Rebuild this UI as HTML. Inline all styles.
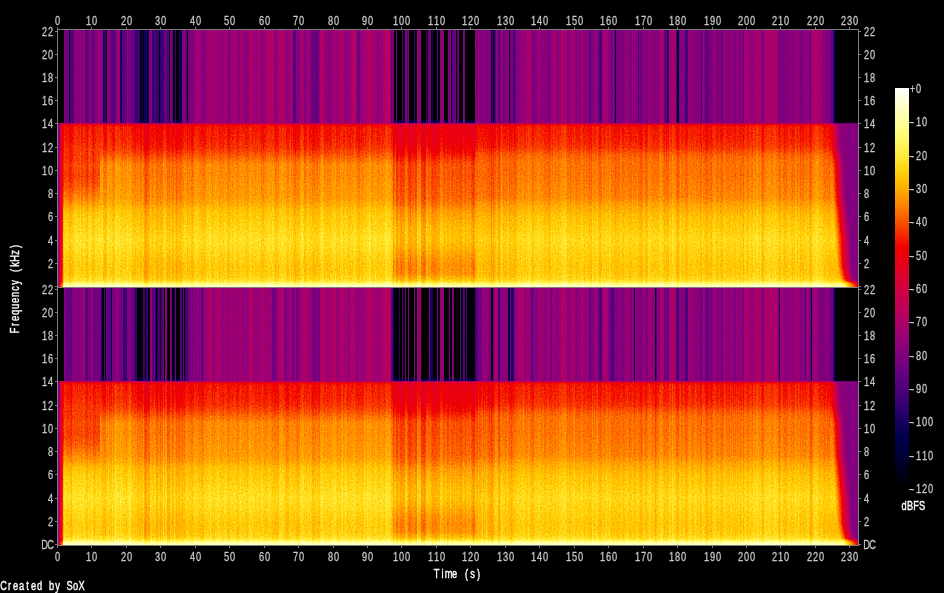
<!DOCTYPE html><html><head><meta charset="utf-8"><title>Spectrogram</title>
<style>html,body{margin:0;padding:0;background:#000;overflow:hidden}svg{display:block}text{font-family:"Liberation Sans","DejaVu Sans",sans-serif;font-size:12.5px}.l{fill:#c8c8c8;stroke:#c8c8c8;stroke-width:.3px}.w{fill:#fff;stroke:#fff;stroke-width:.4px}</style></head><body>
<svg width="944" height="593" viewBox="0 0 944 593" shape-rendering="crispEdges">
<rect width="944" height="593" fill="#000"/>
<defs>
<linearGradient id="cb" x1="0" y1="0" x2="0" y2="1"><stop offset="0.0000" stop-color="#ffffff"/><stop offset="0.0250" stop-color="#ffffe2"/><stop offset="0.0500" stop-color="#ffffc5"/><stop offset="0.0750" stop-color="#ffffa8"/><stop offset="0.1000" stop-color="#ffff8b"/><stop offset="0.1250" stop-color="#fffb6e"/><stop offset="0.1500" stop-color="#fff351"/><stop offset="0.1750" stop-color="#ffe834"/><stop offset="0.2000" stop-color="#ffd817"/><stop offset="0.2250" stop-color="#ffc600"/><stop offset="0.2500" stop-color="#ffb000"/><stop offset="0.2750" stop-color="#ff9700"/><stop offset="0.3000" stop-color="#fe7c00"/><stop offset="0.3250" stop-color="#fc5f00"/><stop offset="0.3500" stop-color="#f94000"/><stop offset="0.3750" stop-color="#f52000"/><stop offset="0.4000" stop-color="#f00000"/><stop offset="0.4250" stop-color="#ea0011"/><stop offset="0.4500" stop-color="#e30021"/><stop offset="0.4750" stop-color="#db0031"/><stop offset="0.5000" stop-color="#d20040"/><stop offset="0.5250" stop-color="#c8004e"/><stop offset="0.5500" stop-color="#be005a"/><stop offset="0.5750" stop-color="#b20065"/><stop offset="0.6000" stop-color="#a6006e"/><stop offset="0.6250" stop-color="#990076"/><stop offset="0.6500" stop-color="#8b007b"/><stop offset="0.6750" stop-color="#7d007e"/><stop offset="0.7000" stop-color="#6e0080"/><stop offset="0.7250" stop-color="#5e007e"/><stop offset="0.7500" stop-color="#4f007b"/><stop offset="0.7750" stop-color="#3f0076"/><stop offset="0.8000" stop-color="#2e006e"/><stop offset="0.8250" stop-color="#1e0065"/><stop offset="0.8500" stop-color="#0d005a"/><stop offset="0.8750" stop-color="#00004e"/><stop offset="0.9000" stop-color="#000040"/><stop offset="0.9250" stop-color="#000031"/><stop offset="0.9500" stop-color="#000021"/><stop offset="0.9750" stop-color="#000011"/><stop offset="1.0000" stop-color="#000000"/></linearGradient>
</defs>
<defs>
<linearGradient id="g0" x1="0" y1="0" x2="0" y2="1"><stop offset="0.000" stop-color="#4d4d4d"/><stop offset="0.006" stop-color="#555555"/><stop offset="0.012" stop-color="#555555"/><stop offset="0.018" stop-color="#555555"/><stop offset="0.030" stop-color="#555555"/><stop offset="0.104" stop-color="#575757"/><stop offset="0.152" stop-color="#575757"/><stop offset="0.189" stop-color="#575757"/><stop offset="0.226" stop-color="#595959"/><stop offset="0.256" stop-color="#595959"/><stop offset="0.317" stop-color="#595959"/><stop offset="0.378" stop-color="#5b5b5b"/><stop offset="0.457" stop-color="#5b5b5b"/><stop offset="0.494" stop-color="#5b5b5b"/><stop offset="0.530" stop-color="#5e5e5e"/><stop offset="0.567" stop-color="#5e5e5e"/><stop offset="0.646" stop-color="#606060"/><stop offset="0.713" stop-color="#606060"/><stop offset="0.762" stop-color="#606060"/><stop offset="0.817" stop-color="#626262"/><stop offset="0.872" stop-color="#626262"/><stop offset="0.921" stop-color="#626262"/><stop offset="0.951" stop-color="#646464"/><stop offset="0.963" stop-color="#646464"/><stop offset="0.970" stop-color="#646464"/><stop offset="0.976" stop-color="#666666"/><stop offset="0.982" stop-color="#6c6c6c"/><stop offset="0.988" stop-color="#777777"/><stop offset="1.000" stop-color="#777777"/></linearGradient>
<linearGradient id="g1" x1="0" y1="0" x2="0" y2="1"><stop offset="0.000" stop-color="#4d4d4d"/><stop offset="0.006" stop-color="#5b5b5b"/><stop offset="0.012" stop-color="#5b5b5b"/><stop offset="0.018" stop-color="#5b5b5b"/><stop offset="0.030" stop-color="#5b5b5b"/><stop offset="0.104" stop-color="#5e5e5e"/><stop offset="0.152" stop-color="#5e5e5e"/><stop offset="0.189" stop-color="#606060"/><stop offset="0.226" stop-color="#606060"/><stop offset="0.256" stop-color="#626262"/><stop offset="0.317" stop-color="#626262"/><stop offset="0.378" stop-color="#646464"/><stop offset="0.457" stop-color="#666666"/><stop offset="0.494" stop-color="#666666"/><stop offset="0.530" stop-color="#666666"/><stop offset="0.567" stop-color="#686868"/><stop offset="0.646" stop-color="#686868"/><stop offset="0.713" stop-color="#6a6a6a"/><stop offset="0.762" stop-color="#6c6c6c"/><stop offset="0.817" stop-color="#6c6c6c"/><stop offset="0.872" stop-color="#6e6e6e"/><stop offset="0.921" stop-color="#6e6e6e"/><stop offset="0.951" stop-color="#717171"/><stop offset="0.963" stop-color="#717171"/><stop offset="0.970" stop-color="#717171"/><stop offset="0.976" stop-color="#737373"/><stop offset="0.982" stop-color="#797979"/><stop offset="0.988" stop-color="#848484"/><stop offset="1.000" stop-color="#848484"/></linearGradient>
<linearGradient id="g2" x1="0" y1="0" x2="0" y2="1"><stop offset="0.000" stop-color="#4d4d4d"/><stop offset="0.006" stop-color="#848484"/><stop offset="0.012" stop-color="#848484"/><stop offset="0.018" stop-color="#848484"/><stop offset="0.030" stop-color="#848484"/><stop offset="0.104" stop-color="#868686"/><stop offset="0.152" stop-color="#868686"/><stop offset="0.189" stop-color="#868686"/><stop offset="0.226" stop-color="#868686"/><stop offset="0.256" stop-color="#888888"/><stop offset="0.317" stop-color="#888888"/><stop offset="0.378" stop-color="#888888"/><stop offset="0.457" stop-color="#8a8a8a"/><stop offset="0.494" stop-color="#8a8a8a"/><stop offset="0.530" stop-color="#8a8a8a"/><stop offset="0.567" stop-color="#8a8a8a"/><stop offset="0.646" stop-color="#8c8c8c"/><stop offset="0.713" stop-color="#8c8c8c"/><stop offset="0.762" stop-color="#8e8e8e"/><stop offset="0.817" stop-color="#8e8e8e"/><stop offset="0.872" stop-color="#8e8e8e"/><stop offset="0.921" stop-color="#909090"/><stop offset="0.951" stop-color="#909090"/><stop offset="0.963" stop-color="#909090"/><stop offset="0.970" stop-color="#909090"/><stop offset="0.976" stop-color="#939393"/><stop offset="0.982" stop-color="#999999"/><stop offset="0.988" stop-color="#a4a4a4"/><stop offset="1.000" stop-color="#a4a4a4"/></linearGradient>
<linearGradient id="g3" x1="0" y1="0" x2="0" y2="1"><stop offset="0.000" stop-color="#4d4d4d"/><stop offset="0.006" stop-color="#909090"/><stop offset="0.012" stop-color="#909090"/><stop offset="0.018" stop-color="#909090"/><stop offset="0.030" stop-color="#909090"/><stop offset="0.104" stop-color="#909090"/><stop offset="0.152" stop-color="#939393"/><stop offset="0.189" stop-color="#939393"/><stop offset="0.226" stop-color="#939393"/><stop offset="0.256" stop-color="#939393"/><stop offset="0.317" stop-color="#959595"/><stop offset="0.378" stop-color="#959595"/><stop offset="0.457" stop-color="#959595"/><stop offset="0.494" stop-color="#959595"/><stop offset="0.530" stop-color="#979797"/><stop offset="0.567" stop-color="#979797"/><stop offset="0.646" stop-color="#979797"/><stop offset="0.713" stop-color="#999999"/><stop offset="0.762" stop-color="#999999"/><stop offset="0.817" stop-color="#999999"/><stop offset="0.872" stop-color="#999999"/><stop offset="0.921" stop-color="#9b9b9b"/><stop offset="0.951" stop-color="#9b9b9b"/><stop offset="0.963" stop-color="#9b9b9b"/><stop offset="0.970" stop-color="#9b9b9b"/><stop offset="0.976" stop-color="#9d9d9d"/><stop offset="0.982" stop-color="#a4a4a4"/><stop offset="0.988" stop-color="#aeaeae"/><stop offset="1.000" stop-color="#aeaeae"/></linearGradient>
<linearGradient id="g4" x1="0" y1="0" x2="0" y2="1"><stop offset="0.000" stop-color="#4d4d4d"/><stop offset="0.006" stop-color="#979797"/><stop offset="0.012" stop-color="#979797"/><stop offset="0.018" stop-color="#979797"/><stop offset="0.030" stop-color="#979797"/><stop offset="0.104" stop-color="#979797"/><stop offset="0.152" stop-color="#999999"/><stop offset="0.189" stop-color="#999999"/><stop offset="0.226" stop-color="#999999"/><stop offset="0.256" stop-color="#999999"/><stop offset="0.317" stop-color="#9b9b9b"/><stop offset="0.378" stop-color="#9b9b9b"/><stop offset="0.457" stop-color="#9b9b9b"/><stop offset="0.494" stop-color="#9b9b9b"/><stop offset="0.530" stop-color="#9d9d9d"/><stop offset="0.567" stop-color="#9d9d9d"/><stop offset="0.646" stop-color="#9d9d9d"/><stop offset="0.713" stop-color="#9f9f9f"/><stop offset="0.762" stop-color="#9f9f9f"/><stop offset="0.817" stop-color="#9f9f9f"/><stop offset="0.872" stop-color="#9f9f9f"/><stop offset="0.921" stop-color="#a2a2a2"/><stop offset="0.951" stop-color="#a2a2a2"/><stop offset="0.963" stop-color="#a2a2a2"/><stop offset="0.970" stop-color="#a2a2a2"/><stop offset="0.976" stop-color="#a4a4a4"/><stop offset="0.982" stop-color="#aaaaaa"/><stop offset="0.988" stop-color="#b5b5b5"/><stop offset="1.000" stop-color="#b5b5b5"/></linearGradient>
<linearGradient id="g5" x1="0" y1="0" x2="0" y2="1"><stop offset="0.000" stop-color="#4f4f4f"/><stop offset="0.006" stop-color="#828282"/><stop offset="0.012" stop-color="#909090"/><stop offset="0.018" stop-color="#959595"/><stop offset="0.030" stop-color="#959595"/><stop offset="0.104" stop-color="#999999"/><stop offset="0.152" stop-color="#9b9b9b"/><stop offset="0.189" stop-color="#9d9d9d"/><stop offset="0.226" stop-color="#9d9d9d"/><stop offset="0.256" stop-color="#9f9f9f"/><stop offset="0.317" stop-color="#9d9d9d"/><stop offset="0.378" stop-color="#a2a2a2"/><stop offset="0.457" stop-color="#acacac"/><stop offset="0.494" stop-color="#b2b2b2"/><stop offset="0.530" stop-color="#bbbbbb"/><stop offset="0.567" stop-color="#bfbfbf"/><stop offset="0.646" stop-color="#c3c3c3"/><stop offset="0.713" stop-color="#c8c8c8"/><stop offset="0.762" stop-color="#c6c6c6"/><stop offset="0.817" stop-color="#c3c3c3"/><stop offset="0.872" stop-color="#bfbfbf"/><stop offset="0.921" stop-color="#bfbfbf"/><stop offset="0.951" stop-color="#c3c3c3"/><stop offset="0.963" stop-color="#cacaca"/><stop offset="0.970" stop-color="#d0d0d0"/><stop offset="0.976" stop-color="#d7d7d7"/><stop offset="0.982" stop-color="#dfdfdf"/><stop offset="0.988" stop-color="#e6e6e6"/><stop offset="1.000" stop-color="#eaeaea"/></linearGradient>
<linearGradient id="g6" x1="0" y1="0" x2="0" y2="1"><stop offset="0.000" stop-color="#515151"/><stop offset="0.006" stop-color="#8a8a8a"/><stop offset="0.012" stop-color="#999999"/><stop offset="0.018" stop-color="#9d9d9d"/><stop offset="0.030" stop-color="#9d9d9d"/><stop offset="0.104" stop-color="#a2a2a2"/><stop offset="0.152" stop-color="#a4a4a4"/><stop offset="0.189" stop-color="#a6a6a6"/><stop offset="0.226" stop-color="#a6a6a6"/><stop offset="0.256" stop-color="#a8a8a8"/><stop offset="0.317" stop-color="#a6a6a6"/><stop offset="0.378" stop-color="#aaaaaa"/><stop offset="0.457" stop-color="#b5b5b5"/><stop offset="0.494" stop-color="#bbbbbb"/><stop offset="0.530" stop-color="#c3c3c3"/><stop offset="0.567" stop-color="#c8c8c8"/><stop offset="0.646" stop-color="#cccccc"/><stop offset="0.713" stop-color="#d0d0d0"/><stop offset="0.762" stop-color="#cecece"/><stop offset="0.817" stop-color="#cccccc"/><stop offset="0.872" stop-color="#c8c8c8"/><stop offset="0.921" stop-color="#c8c8c8"/><stop offset="0.951" stop-color="#cccccc"/><stop offset="0.963" stop-color="#d2d2d2"/><stop offset="0.970" stop-color="#d9d9d9"/><stop offset="0.976" stop-color="#dfdfdf"/><stop offset="0.982" stop-color="#e8e8e8"/><stop offset="0.988" stop-color="#eeeeee"/><stop offset="1.000" stop-color="#f2f2f2"/></linearGradient>
<linearGradient id="g7" x1="0" y1="0" x2="0" y2="1"><stop offset="0.000" stop-color="#515151"/><stop offset="0.006" stop-color="#888888"/><stop offset="0.012" stop-color="#959595"/><stop offset="0.018" stop-color="#999999"/><stop offset="0.030" stop-color="#9d9d9d"/><stop offset="0.104" stop-color="#9d9d9d"/><stop offset="0.152" stop-color="#a2a2a2"/><stop offset="0.189" stop-color="#a2a2a2"/><stop offset="0.226" stop-color="#a2a2a2"/><stop offset="0.256" stop-color="#a6a6a6"/><stop offset="0.317" stop-color="#a4a4a4"/><stop offset="0.378" stop-color="#a8a8a8"/><stop offset="0.457" stop-color="#b2b2b2"/><stop offset="0.494" stop-color="#b9b9b9"/><stop offset="0.530" stop-color="#c1c1c1"/><stop offset="0.567" stop-color="#c6c6c6"/><stop offset="0.646" stop-color="#cacaca"/><stop offset="0.713" stop-color="#cecece"/><stop offset="0.762" stop-color="#cccccc"/><stop offset="0.817" stop-color="#c8c8c8"/><stop offset="0.872" stop-color="#c6c6c6"/><stop offset="0.921" stop-color="#c8c8c8"/><stop offset="0.951" stop-color="#cccccc"/><stop offset="0.963" stop-color="#d0d0d0"/><stop offset="0.970" stop-color="#d7d7d7"/><stop offset="0.976" stop-color="#dddddd"/><stop offset="0.982" stop-color="#e6e6e6"/><stop offset="0.988" stop-color="#eeeeee"/><stop offset="1.000" stop-color="#f2f2f2"/></linearGradient>
<linearGradient id="g8" x1="0" y1="0" x2="0" y2="1"><stop offset="0.000" stop-color="#4f4f4f"/><stop offset="0.006" stop-color="#848484"/><stop offset="0.012" stop-color="#909090"/><stop offset="0.018" stop-color="#959595"/><stop offset="0.030" stop-color="#999999"/><stop offset="0.104" stop-color="#999999"/><stop offset="0.152" stop-color="#9d9d9d"/><stop offset="0.189" stop-color="#9d9d9d"/><stop offset="0.226" stop-color="#9d9d9d"/><stop offset="0.256" stop-color="#a2a2a2"/><stop offset="0.317" stop-color="#9f9f9f"/><stop offset="0.378" stop-color="#a4a4a4"/><stop offset="0.457" stop-color="#aeaeae"/><stop offset="0.494" stop-color="#b5b5b5"/><stop offset="0.530" stop-color="#bdbdbd"/><stop offset="0.567" stop-color="#c1c1c1"/><stop offset="0.646" stop-color="#c6c6c6"/><stop offset="0.713" stop-color="#cacaca"/><stop offset="0.762" stop-color="#c8c8c8"/><stop offset="0.817" stop-color="#c3c3c3"/><stop offset="0.872" stop-color="#c1c1c1"/><stop offset="0.921" stop-color="#c3c3c3"/><stop offset="0.951" stop-color="#c8c8c8"/><stop offset="0.963" stop-color="#cccccc"/><stop offset="0.970" stop-color="#d2d2d2"/><stop offset="0.976" stop-color="#d9d9d9"/><stop offset="0.982" stop-color="#e1e1e1"/><stop offset="0.988" stop-color="#eaeaea"/><stop offset="1.000" stop-color="#eeeeee"/></linearGradient>
<linearGradient id="g9" x1="0" y1="0" x2="0" y2="1"><stop offset="0.000" stop-color="#515151"/><stop offset="0.006" stop-color="#868686"/><stop offset="0.012" stop-color="#959595"/><stop offset="0.018" stop-color="#999999"/><stop offset="0.030" stop-color="#999999"/><stop offset="0.104" stop-color="#9d9d9d"/><stop offset="0.152" stop-color="#9f9f9f"/><stop offset="0.189" stop-color="#a2a2a2"/><stop offset="0.226" stop-color="#a2a2a2"/><stop offset="0.256" stop-color="#a4a4a4"/><stop offset="0.317" stop-color="#a2a2a2"/><stop offset="0.378" stop-color="#a6a6a6"/><stop offset="0.457" stop-color="#b0b0b0"/><stop offset="0.494" stop-color="#b7b7b7"/><stop offset="0.530" stop-color="#bfbfbf"/><stop offset="0.567" stop-color="#c3c3c3"/><stop offset="0.646" stop-color="#c8c8c8"/><stop offset="0.713" stop-color="#cccccc"/><stop offset="0.762" stop-color="#cacaca"/><stop offset="0.817" stop-color="#c8c8c8"/><stop offset="0.872" stop-color="#c3c3c3"/><stop offset="0.921" stop-color="#c3c3c3"/><stop offset="0.951" stop-color="#c8c8c8"/><stop offset="0.963" stop-color="#cecece"/><stop offset="0.970" stop-color="#d4d4d4"/><stop offset="0.976" stop-color="#dbdbdb"/><stop offset="0.982" stop-color="#e3e3e3"/><stop offset="0.988" stop-color="#eaeaea"/><stop offset="1.000" stop-color="#eeeeee"/></linearGradient>
<linearGradient id="g10" x1="0" y1="0" x2="0" y2="1"><stop offset="0.000" stop-color="#535353"/><stop offset="0.006" stop-color="#8c8c8c"/><stop offset="0.012" stop-color="#999999"/><stop offset="0.018" stop-color="#9d9d9d"/><stop offset="0.030" stop-color="#a2a2a2"/><stop offset="0.104" stop-color="#a2a2a2"/><stop offset="0.152" stop-color="#a6a6a6"/><stop offset="0.189" stop-color="#a6a6a6"/><stop offset="0.226" stop-color="#a6a6a6"/><stop offset="0.256" stop-color="#aaaaaa"/><stop offset="0.317" stop-color="#a8a8a8"/><stop offset="0.378" stop-color="#acacac"/><stop offset="0.457" stop-color="#b7b7b7"/><stop offset="0.494" stop-color="#bdbdbd"/><stop offset="0.530" stop-color="#c6c6c6"/><stop offset="0.567" stop-color="#cacaca"/><stop offset="0.646" stop-color="#cecece"/><stop offset="0.713" stop-color="#d2d2d2"/><stop offset="0.762" stop-color="#d0d0d0"/><stop offset="0.817" stop-color="#cccccc"/><stop offset="0.872" stop-color="#cacaca"/><stop offset="0.921" stop-color="#cccccc"/><stop offset="0.951" stop-color="#d0d0d0"/><stop offset="0.963" stop-color="#d4d4d4"/><stop offset="0.970" stop-color="#dbdbdb"/><stop offset="0.976" stop-color="#e1e1e1"/><stop offset="0.982" stop-color="#eaeaea"/><stop offset="0.988" stop-color="#f2f2f2"/><stop offset="1.000" stop-color="#f6f6f6"/></linearGradient>
<linearGradient id="g11" x1="0" y1="0" x2="0" y2="1"><stop offset="0.000" stop-color="#535353"/><stop offset="0.006" stop-color="#8e8e8e"/><stop offset="0.012" stop-color="#9d9d9d"/><stop offset="0.018" stop-color="#a2a2a2"/><stop offset="0.030" stop-color="#a2a2a2"/><stop offset="0.104" stop-color="#a6a6a6"/><stop offset="0.152" stop-color="#a8a8a8"/><stop offset="0.189" stop-color="#aaaaaa"/><stop offset="0.226" stop-color="#aaaaaa"/><stop offset="0.256" stop-color="#acacac"/><stop offset="0.317" stop-color="#aaaaaa"/><stop offset="0.378" stop-color="#aeaeae"/><stop offset="0.457" stop-color="#b9b9b9"/><stop offset="0.494" stop-color="#bfbfbf"/><stop offset="0.530" stop-color="#c8c8c8"/><stop offset="0.567" stop-color="#cccccc"/><stop offset="0.646" stop-color="#d0d0d0"/><stop offset="0.713" stop-color="#d4d4d4"/><stop offset="0.762" stop-color="#d2d2d2"/><stop offset="0.817" stop-color="#d0d0d0"/><stop offset="0.872" stop-color="#cccccc"/><stop offset="0.921" stop-color="#cccccc"/><stop offset="0.951" stop-color="#d0d0d0"/><stop offset="0.963" stop-color="#d7d7d7"/><stop offset="0.970" stop-color="#dddddd"/><stop offset="0.976" stop-color="#e3e3e3"/><stop offset="0.982" stop-color="#ececec"/><stop offset="0.988" stop-color="#f2f2f2"/><stop offset="1.000" stop-color="#f6f6f6"/></linearGradient>
<linearGradient id="g12" x1="0" y1="0" x2="0" y2="1"><stop offset="0.000" stop-color="#535353"/><stop offset="0.006" stop-color="#8c8c8c"/><stop offset="0.012" stop-color="#999999"/><stop offset="0.018" stop-color="#9d9d9d"/><stop offset="0.030" stop-color="#a2a2a2"/><stop offset="0.104" stop-color="#a2a2a2"/><stop offset="0.152" stop-color="#a6a6a6"/><stop offset="0.189" stop-color="#acacac"/><stop offset="0.226" stop-color="#b2b2b2"/><stop offset="0.256" stop-color="#b9b9b9"/><stop offset="0.317" stop-color="#b9b9b9"/><stop offset="0.378" stop-color="#bbbbbb"/><stop offset="0.457" stop-color="#bdbdbd"/><stop offset="0.494" stop-color="#c1c1c1"/><stop offset="0.530" stop-color="#c8c8c8"/><stop offset="0.567" stop-color="#cacaca"/><stop offset="0.646" stop-color="#cecece"/><stop offset="0.713" stop-color="#d2d2d2"/><stop offset="0.762" stop-color="#d0d0d0"/><stop offset="0.817" stop-color="#cccccc"/><stop offset="0.872" stop-color="#cacaca"/><stop offset="0.921" stop-color="#cccccc"/><stop offset="0.951" stop-color="#d0d0d0"/><stop offset="0.963" stop-color="#d4d4d4"/><stop offset="0.970" stop-color="#dbdbdb"/><stop offset="0.976" stop-color="#e1e1e1"/><stop offset="0.982" stop-color="#eaeaea"/><stop offset="0.988" stop-color="#f2f2f2"/><stop offset="1.000" stop-color="#f6f6f6"/></linearGradient>
<linearGradient id="g13" x1="0" y1="0" x2="0" y2="1"><stop offset="0.000" stop-color="#535353"/><stop offset="0.006" stop-color="#8e8e8e"/><stop offset="0.012" stop-color="#9d9d9d"/><stop offset="0.018" stop-color="#a2a2a2"/><stop offset="0.030" stop-color="#a2a2a2"/><stop offset="0.104" stop-color="#a6a6a6"/><stop offset="0.152" stop-color="#a8a8a8"/><stop offset="0.189" stop-color="#aeaeae"/><stop offset="0.226" stop-color="#b7b7b7"/><stop offset="0.256" stop-color="#bbbbbb"/><stop offset="0.317" stop-color="#bbbbbb"/><stop offset="0.378" stop-color="#bdbdbd"/><stop offset="0.457" stop-color="#bfbfbf"/><stop offset="0.494" stop-color="#c3c3c3"/><stop offset="0.530" stop-color="#cacaca"/><stop offset="0.567" stop-color="#cccccc"/><stop offset="0.646" stop-color="#d0d0d0"/><stop offset="0.713" stop-color="#d4d4d4"/><stop offset="0.762" stop-color="#d2d2d2"/><stop offset="0.817" stop-color="#d0d0d0"/><stop offset="0.872" stop-color="#cccccc"/><stop offset="0.921" stop-color="#cccccc"/><stop offset="0.951" stop-color="#d0d0d0"/><stop offset="0.963" stop-color="#d7d7d7"/><stop offset="0.970" stop-color="#dddddd"/><stop offset="0.976" stop-color="#e3e3e3"/><stop offset="0.982" stop-color="#ececec"/><stop offset="0.988" stop-color="#f2f2f2"/><stop offset="1.000" stop-color="#f6f6f6"/></linearGradient>
<linearGradient id="g14" x1="0" y1="0" x2="0" y2="1"><stop offset="0.000" stop-color="#515151"/><stop offset="0.006" stop-color="#868686"/><stop offset="0.012" stop-color="#959595"/><stop offset="0.018" stop-color="#999999"/><stop offset="0.030" stop-color="#999999"/><stop offset="0.104" stop-color="#9d9d9d"/><stop offset="0.152" stop-color="#9f9f9f"/><stop offset="0.189" stop-color="#a6a6a6"/><stop offset="0.226" stop-color="#aeaeae"/><stop offset="0.256" stop-color="#b2b2b2"/><stop offset="0.317" stop-color="#b2b2b2"/><stop offset="0.378" stop-color="#b5b5b5"/><stop offset="0.457" stop-color="#b7b7b7"/><stop offset="0.494" stop-color="#bbbbbb"/><stop offset="0.530" stop-color="#c1c1c1"/><stop offset="0.567" stop-color="#c3c3c3"/><stop offset="0.646" stop-color="#c8c8c8"/><stop offset="0.713" stop-color="#cccccc"/><stop offset="0.762" stop-color="#cacaca"/><stop offset="0.817" stop-color="#c8c8c8"/><stop offset="0.872" stop-color="#c3c3c3"/><stop offset="0.921" stop-color="#c3c3c3"/><stop offset="0.951" stop-color="#c8c8c8"/><stop offset="0.963" stop-color="#cecece"/><stop offset="0.970" stop-color="#d4d4d4"/><stop offset="0.976" stop-color="#dbdbdb"/><stop offset="0.982" stop-color="#e3e3e3"/><stop offset="0.988" stop-color="#eaeaea"/><stop offset="1.000" stop-color="#eeeeee"/></linearGradient>
<linearGradient id="g15" x1="0" y1="0" x2="0" y2="1"><stop offset="0.000" stop-color="#4f4f4f"/><stop offset="0.006" stop-color="#848484"/><stop offset="0.012" stop-color="#909090"/><stop offset="0.018" stop-color="#959595"/><stop offset="0.030" stop-color="#999999"/><stop offset="0.104" stop-color="#999999"/><stop offset="0.152" stop-color="#9d9d9d"/><stop offset="0.189" stop-color="#a4a4a4"/><stop offset="0.226" stop-color="#aaaaaa"/><stop offset="0.256" stop-color="#b0b0b0"/><stop offset="0.317" stop-color="#b0b0b0"/><stop offset="0.378" stop-color="#b2b2b2"/><stop offset="0.457" stop-color="#b5b5b5"/><stop offset="0.494" stop-color="#b9b9b9"/><stop offset="0.530" stop-color="#bfbfbf"/><stop offset="0.567" stop-color="#c1c1c1"/><stop offset="0.646" stop-color="#c6c6c6"/><stop offset="0.713" stop-color="#cacaca"/><stop offset="0.762" stop-color="#c8c8c8"/><stop offset="0.817" stop-color="#c3c3c3"/><stop offset="0.872" stop-color="#c1c1c1"/><stop offset="0.921" stop-color="#c3c3c3"/><stop offset="0.951" stop-color="#c8c8c8"/><stop offset="0.963" stop-color="#cccccc"/><stop offset="0.970" stop-color="#d2d2d2"/><stop offset="0.976" stop-color="#d9d9d9"/><stop offset="0.982" stop-color="#e1e1e1"/><stop offset="0.988" stop-color="#eaeaea"/><stop offset="1.000" stop-color="#eeeeee"/></linearGradient>
<linearGradient id="g16" x1="0" y1="0" x2="0" y2="1"><stop offset="0.000" stop-color="#515151"/><stop offset="0.006" stop-color="#8a8a8a"/><stop offset="0.012" stop-color="#999999"/><stop offset="0.018" stop-color="#9d9d9d"/><stop offset="0.030" stop-color="#9d9d9d"/><stop offset="0.104" stop-color="#a2a2a2"/><stop offset="0.152" stop-color="#a4a4a4"/><stop offset="0.189" stop-color="#aaaaaa"/><stop offset="0.226" stop-color="#b2b2b2"/><stop offset="0.256" stop-color="#b7b7b7"/><stop offset="0.317" stop-color="#b7b7b7"/><stop offset="0.378" stop-color="#b9b9b9"/><stop offset="0.457" stop-color="#bbbbbb"/><stop offset="0.494" stop-color="#bfbfbf"/><stop offset="0.530" stop-color="#c6c6c6"/><stop offset="0.567" stop-color="#c8c8c8"/><stop offset="0.646" stop-color="#cccccc"/><stop offset="0.713" stop-color="#d0d0d0"/><stop offset="0.762" stop-color="#cecece"/><stop offset="0.817" stop-color="#cccccc"/><stop offset="0.872" stop-color="#c8c8c8"/><stop offset="0.921" stop-color="#c8c8c8"/><stop offset="0.951" stop-color="#cccccc"/><stop offset="0.963" stop-color="#d2d2d2"/><stop offset="0.970" stop-color="#d9d9d9"/><stop offset="0.976" stop-color="#dfdfdf"/><stop offset="0.982" stop-color="#e8e8e8"/><stop offset="0.988" stop-color="#eeeeee"/><stop offset="1.000" stop-color="#f2f2f2"/></linearGradient>
<linearGradient id="g17" x1="0" y1="0" x2="0" y2="1"><stop offset="0.000" stop-color="#515151"/><stop offset="0.006" stop-color="#888888"/><stop offset="0.012" stop-color="#959595"/><stop offset="0.018" stop-color="#999999"/><stop offset="0.030" stop-color="#9d9d9d"/><stop offset="0.104" stop-color="#9d9d9d"/><stop offset="0.152" stop-color="#a2a2a2"/><stop offset="0.189" stop-color="#a8a8a8"/><stop offset="0.226" stop-color="#aeaeae"/><stop offset="0.256" stop-color="#b5b5b5"/><stop offset="0.317" stop-color="#b5b5b5"/><stop offset="0.378" stop-color="#b7b7b7"/><stop offset="0.457" stop-color="#b9b9b9"/><stop offset="0.494" stop-color="#bdbdbd"/><stop offset="0.530" stop-color="#c3c3c3"/><stop offset="0.567" stop-color="#c6c6c6"/><stop offset="0.646" stop-color="#cacaca"/><stop offset="0.713" stop-color="#cecece"/><stop offset="0.762" stop-color="#cccccc"/><stop offset="0.817" stop-color="#c8c8c8"/><stop offset="0.872" stop-color="#c6c6c6"/><stop offset="0.921" stop-color="#c8c8c8"/><stop offset="0.951" stop-color="#cccccc"/><stop offset="0.963" stop-color="#d0d0d0"/><stop offset="0.970" stop-color="#d7d7d7"/><stop offset="0.976" stop-color="#dddddd"/><stop offset="0.982" stop-color="#e6e6e6"/><stop offset="0.988" stop-color="#eeeeee"/><stop offset="1.000" stop-color="#f2f2f2"/></linearGradient>
<linearGradient id="g18" x1="0" y1="0" x2="0" y2="1"><stop offset="0.000" stop-color="#535353"/><stop offset="0.006" stop-color="#909090"/><stop offset="0.012" stop-color="#9d9d9d"/><stop offset="0.018" stop-color="#a2a2a2"/><stop offset="0.030" stop-color="#a6a6a6"/><stop offset="0.104" stop-color="#a6a6a6"/><stop offset="0.152" stop-color="#aaaaaa"/><stop offset="0.189" stop-color="#b0b0b0"/><stop offset="0.226" stop-color="#b7b7b7"/><stop offset="0.256" stop-color="#bdbdbd"/><stop offset="0.317" stop-color="#bdbdbd"/><stop offset="0.378" stop-color="#bfbfbf"/><stop offset="0.457" stop-color="#c1c1c1"/><stop offset="0.494" stop-color="#c6c6c6"/><stop offset="0.530" stop-color="#cccccc"/><stop offset="0.567" stop-color="#cecece"/><stop offset="0.646" stop-color="#d2d2d2"/><stop offset="0.713" stop-color="#d7d7d7"/><stop offset="0.762" stop-color="#d4d4d4"/><stop offset="0.817" stop-color="#d0d0d0"/><stop offset="0.872" stop-color="#cecece"/><stop offset="0.921" stop-color="#d0d0d0"/><stop offset="0.951" stop-color="#d4d4d4"/><stop offset="0.963" stop-color="#d9d9d9"/><stop offset="0.970" stop-color="#dfdfdf"/><stop offset="0.976" stop-color="#e6e6e6"/><stop offset="0.982" stop-color="#eeeeee"/><stop offset="0.988" stop-color="#f6f6f6"/><stop offset="1.000" stop-color="#fbfbfb"/></linearGradient>
<linearGradient id="g19" x1="0" y1="0" x2="0" y2="1"><stop offset="0.000" stop-color="#4d4d4d"/><stop offset="0.006" stop-color="#7d7d7d"/><stop offset="0.012" stop-color="#8c8c8c"/><stop offset="0.018" stop-color="#909090"/><stop offset="0.030" stop-color="#909090"/><stop offset="0.104" stop-color="#959595"/><stop offset="0.152" stop-color="#979797"/><stop offset="0.189" stop-color="#9d9d9d"/><stop offset="0.226" stop-color="#a6a6a6"/><stop offset="0.256" stop-color="#aaaaaa"/><stop offset="0.317" stop-color="#aaaaaa"/><stop offset="0.378" stop-color="#acacac"/><stop offset="0.457" stop-color="#aeaeae"/><stop offset="0.494" stop-color="#b2b2b2"/><stop offset="0.530" stop-color="#b9b9b9"/><stop offset="0.567" stop-color="#bbbbbb"/><stop offset="0.646" stop-color="#bfbfbf"/><stop offset="0.713" stop-color="#c3c3c3"/><stop offset="0.762" stop-color="#c1c1c1"/><stop offset="0.817" stop-color="#bfbfbf"/><stop offset="0.872" stop-color="#bbbbbb"/><stop offset="0.921" stop-color="#bbbbbb"/><stop offset="0.951" stop-color="#bfbfbf"/><stop offset="0.963" stop-color="#c6c6c6"/><stop offset="0.970" stop-color="#cccccc"/><stop offset="0.976" stop-color="#d2d2d2"/><stop offset="0.982" stop-color="#dbdbdb"/><stop offset="0.988" stop-color="#e1e1e1"/><stop offset="1.000" stop-color="#e6e6e6"/></linearGradient>
<linearGradient id="g20" x1="0" y1="0" x2="0" y2="1"><stop offset="0.000" stop-color="#4d4d4d"/><stop offset="0.006" stop-color="#7b7b7b"/><stop offset="0.012" stop-color="#888888"/><stop offset="0.018" stop-color="#8c8c8c"/><stop offset="0.030" stop-color="#909090"/><stop offset="0.104" stop-color="#909090"/><stop offset="0.152" stop-color="#959595"/><stop offset="0.189" stop-color="#9b9b9b"/><stop offset="0.226" stop-color="#a2a2a2"/><stop offset="0.256" stop-color="#a8a8a8"/><stop offset="0.317" stop-color="#a8a8a8"/><stop offset="0.378" stop-color="#aaaaaa"/><stop offset="0.457" stop-color="#acacac"/><stop offset="0.494" stop-color="#b0b0b0"/><stop offset="0.530" stop-color="#b7b7b7"/><stop offset="0.567" stop-color="#b9b9b9"/><stop offset="0.646" stop-color="#bdbdbd"/><stop offset="0.713" stop-color="#c1c1c1"/><stop offset="0.762" stop-color="#bfbfbf"/><stop offset="0.817" stop-color="#bbbbbb"/><stop offset="0.872" stop-color="#b9b9b9"/><stop offset="0.921" stop-color="#bbbbbb"/><stop offset="0.951" stop-color="#bfbfbf"/><stop offset="0.963" stop-color="#c3c3c3"/><stop offset="0.970" stop-color="#cacaca"/><stop offset="0.976" stop-color="#d0d0d0"/><stop offset="0.982" stop-color="#d9d9d9"/><stop offset="0.988" stop-color="#e1e1e1"/><stop offset="1.000" stop-color="#e6e6e6"/></linearGradient>
<linearGradient id="g21" x1="0" y1="0" x2="0" y2="1"><stop offset="0.000" stop-color="#4d4d4d"/><stop offset="0.006" stop-color="#797979"/><stop offset="0.012" stop-color="#888888"/><stop offset="0.018" stop-color="#8c8c8c"/><stop offset="0.030" stop-color="#8c8c8c"/><stop offset="0.104" stop-color="#909090"/><stop offset="0.152" stop-color="#939393"/><stop offset="0.189" stop-color="#999999"/><stop offset="0.226" stop-color="#a2a2a2"/><stop offset="0.256" stop-color="#a6a6a6"/><stop offset="0.317" stop-color="#a6a6a6"/><stop offset="0.378" stop-color="#a8a8a8"/><stop offset="0.457" stop-color="#aaaaaa"/><stop offset="0.494" stop-color="#aeaeae"/><stop offset="0.530" stop-color="#b5b5b5"/><stop offset="0.567" stop-color="#b7b7b7"/><stop offset="0.646" stop-color="#bbbbbb"/><stop offset="0.713" stop-color="#bfbfbf"/><stop offset="0.762" stop-color="#bdbdbd"/><stop offset="0.817" stop-color="#bbbbbb"/><stop offset="0.872" stop-color="#b7b7b7"/><stop offset="0.921" stop-color="#b7b7b7"/><stop offset="0.951" stop-color="#bbbbbb"/><stop offset="0.963" stop-color="#c1c1c1"/><stop offset="0.970" stop-color="#c8c8c8"/><stop offset="0.976" stop-color="#cecece"/><stop offset="0.982" stop-color="#d7d7d7"/><stop offset="0.988" stop-color="#dddddd"/><stop offset="1.000" stop-color="#e1e1e1"/></linearGradient>
<linearGradient id="g22" x1="0" y1="0" x2="0" y2="1"><stop offset="0.000" stop-color="#4f4f4f"/><stop offset="0.006" stop-color="#808080"/><stop offset="0.012" stop-color="#8c8c8c"/><stop offset="0.018" stop-color="#909090"/><stop offset="0.030" stop-color="#959595"/><stop offset="0.104" stop-color="#959595"/><stop offset="0.152" stop-color="#999999"/><stop offset="0.189" stop-color="#9f9f9f"/><stop offset="0.226" stop-color="#a6a6a6"/><stop offset="0.256" stop-color="#acacac"/><stop offset="0.317" stop-color="#acacac"/><stop offset="0.378" stop-color="#aeaeae"/><stop offset="0.457" stop-color="#b0b0b0"/><stop offset="0.494" stop-color="#b5b5b5"/><stop offset="0.530" stop-color="#bbbbbb"/><stop offset="0.567" stop-color="#bdbdbd"/><stop offset="0.646" stop-color="#c1c1c1"/><stop offset="0.713" stop-color="#c6c6c6"/><stop offset="0.762" stop-color="#c3c3c3"/><stop offset="0.817" stop-color="#bfbfbf"/><stop offset="0.872" stop-color="#bdbdbd"/><stop offset="0.921" stop-color="#bfbfbf"/><stop offset="0.951" stop-color="#c3c3c3"/><stop offset="0.963" stop-color="#c8c8c8"/><stop offset="0.970" stop-color="#cecece"/><stop offset="0.976" stop-color="#d4d4d4"/><stop offset="0.982" stop-color="#dddddd"/><stop offset="0.988" stop-color="#e6e6e6"/><stop offset="1.000" stop-color="#eaeaea"/></linearGradient>
<linearGradient id="g23" x1="0" y1="0" x2="0" y2="1"><stop offset="0.000" stop-color="#4f4f4f"/><stop offset="0.006" stop-color="#828282"/><stop offset="0.012" stop-color="#909090"/><stop offset="0.018" stop-color="#959595"/><stop offset="0.030" stop-color="#959595"/><stop offset="0.104" stop-color="#999999"/><stop offset="0.152" stop-color="#9b9b9b"/><stop offset="0.189" stop-color="#a2a2a2"/><stop offset="0.226" stop-color="#aaaaaa"/><stop offset="0.256" stop-color="#aeaeae"/><stop offset="0.317" stop-color="#aeaeae"/><stop offset="0.378" stop-color="#b0b0b0"/><stop offset="0.457" stop-color="#b2b2b2"/><stop offset="0.494" stop-color="#b7b7b7"/><stop offset="0.530" stop-color="#bdbdbd"/><stop offset="0.567" stop-color="#bfbfbf"/><stop offset="0.646" stop-color="#c3c3c3"/><stop offset="0.713" stop-color="#c8c8c8"/><stop offset="0.762" stop-color="#c6c6c6"/><stop offset="0.817" stop-color="#c3c3c3"/><stop offset="0.872" stop-color="#bfbfbf"/><stop offset="0.921" stop-color="#bfbfbf"/><stop offset="0.951" stop-color="#c3c3c3"/><stop offset="0.963" stop-color="#cacaca"/><stop offset="0.970" stop-color="#d0d0d0"/><stop offset="0.976" stop-color="#d7d7d7"/><stop offset="0.982" stop-color="#dfdfdf"/><stop offset="0.988" stop-color="#e6e6e6"/><stop offset="1.000" stop-color="#eaeaea"/></linearGradient>
<linearGradient id="g24" x1="0" y1="0" x2="0" y2="1"><stop offset="0.000" stop-color="#4f4f4f"/><stop offset="0.006" stop-color="#7b7b7b"/><stop offset="0.012" stop-color="#888888"/><stop offset="0.018" stop-color="#8c8c8c"/><stop offset="0.030" stop-color="#8e8e8e"/><stop offset="0.104" stop-color="#909090"/><stop offset="0.152" stop-color="#959595"/><stop offset="0.189" stop-color="#999999"/><stop offset="0.226" stop-color="#a2a2a2"/><stop offset="0.256" stop-color="#a6a6a6"/><stop offset="0.317" stop-color="#a6a6a6"/><stop offset="0.378" stop-color="#a8a8a8"/><stop offset="0.457" stop-color="#aaaaaa"/><stop offset="0.494" stop-color="#aeaeae"/><stop offset="0.530" stop-color="#b5b5b5"/><stop offset="0.567" stop-color="#b9b9b9"/><stop offset="0.646" stop-color="#bfbfbf"/><stop offset="0.713" stop-color="#c1c1c1"/><stop offset="0.762" stop-color="#bdbdbd"/><stop offset="0.817" stop-color="#b7b7b7"/><stop offset="0.872" stop-color="#b2b2b2"/><stop offset="0.921" stop-color="#b5b5b5"/><stop offset="0.951" stop-color="#bfbfbf"/><stop offset="0.963" stop-color="#c6c6c6"/><stop offset="0.970" stop-color="#cecece"/><stop offset="0.976" stop-color="#d4d4d4"/><stop offset="0.982" stop-color="#dddddd"/><stop offset="0.988" stop-color="#e6e6e6"/><stop offset="1.000" stop-color="#eaeaea"/></linearGradient>
<linearGradient id="g25" x1="0" y1="0" x2="0" y2="1"><stop offset="0.000" stop-color="#515151"/><stop offset="0.006" stop-color="#828282"/><stop offset="0.012" stop-color="#8e8e8e"/><stop offset="0.018" stop-color="#939393"/><stop offset="0.030" stop-color="#959595"/><stop offset="0.104" stop-color="#979797"/><stop offset="0.152" stop-color="#9b9b9b"/><stop offset="0.189" stop-color="#9f9f9f"/><stop offset="0.226" stop-color="#a6a6a6"/><stop offset="0.256" stop-color="#acacac"/><stop offset="0.317" stop-color="#acacac"/><stop offset="0.378" stop-color="#aeaeae"/><stop offset="0.457" stop-color="#b0b0b0"/><stop offset="0.494" stop-color="#b5b5b5"/><stop offset="0.530" stop-color="#bbbbbb"/><stop offset="0.567" stop-color="#bfbfbf"/><stop offset="0.646" stop-color="#c6c6c6"/><stop offset="0.713" stop-color="#c8c8c8"/><stop offset="0.762" stop-color="#c3c3c3"/><stop offset="0.817" stop-color="#bdbdbd"/><stop offset="0.872" stop-color="#b9b9b9"/><stop offset="0.921" stop-color="#bbbbbb"/><stop offset="0.951" stop-color="#c6c6c6"/><stop offset="0.963" stop-color="#cccccc"/><stop offset="0.970" stop-color="#d4d4d4"/><stop offset="0.976" stop-color="#dbdbdb"/><stop offset="0.982" stop-color="#e6e6e6"/><stop offset="0.988" stop-color="#ececec"/><stop offset="1.000" stop-color="#f2f2f2"/></linearGradient>
<linearGradient id="g26" x1="0" y1="0" x2="0" y2="1"><stop offset="0.000" stop-color="#535353"/><stop offset="0.006" stop-color="#868686"/><stop offset="0.012" stop-color="#939393"/><stop offset="0.018" stop-color="#979797"/><stop offset="0.030" stop-color="#999999"/><stop offset="0.104" stop-color="#9b9b9b"/><stop offset="0.152" stop-color="#9f9f9f"/><stop offset="0.189" stop-color="#a4a4a4"/><stop offset="0.226" stop-color="#aaaaaa"/><stop offset="0.256" stop-color="#b0b0b0"/><stop offset="0.317" stop-color="#b0b0b0"/><stop offset="0.378" stop-color="#b2b2b2"/><stop offset="0.457" stop-color="#b5b5b5"/><stop offset="0.494" stop-color="#b9b9b9"/><stop offset="0.530" stop-color="#bfbfbf"/><stop offset="0.567" stop-color="#c3c3c3"/><stop offset="0.646" stop-color="#cacaca"/><stop offset="0.713" stop-color="#cccccc"/><stop offset="0.762" stop-color="#c8c8c8"/><stop offset="0.817" stop-color="#c1c1c1"/><stop offset="0.872" stop-color="#bdbdbd"/><stop offset="0.921" stop-color="#bfbfbf"/><stop offset="0.951" stop-color="#cacaca"/><stop offset="0.963" stop-color="#d0d0d0"/><stop offset="0.970" stop-color="#d9d9d9"/><stop offset="0.976" stop-color="#dfdfdf"/><stop offset="0.982" stop-color="#eaeaea"/><stop offset="0.988" stop-color="#f0f0f0"/><stop offset="1.000" stop-color="#f6f6f6"/></linearGradient>
<linearGradient id="g27" x1="0" y1="0" x2="0" y2="1"><stop offset="0.000" stop-color="#4d4d4d"/><stop offset="0.006" stop-color="#777777"/><stop offset="0.012" stop-color="#848484"/><stop offset="0.018" stop-color="#888888"/><stop offset="0.030" stop-color="#8a8a8a"/><stop offset="0.104" stop-color="#8c8c8c"/><stop offset="0.152" stop-color="#909090"/><stop offset="0.189" stop-color="#959595"/><stop offset="0.226" stop-color="#9d9d9d"/><stop offset="0.256" stop-color="#a2a2a2"/><stop offset="0.317" stop-color="#a2a2a2"/><stop offset="0.378" stop-color="#a4a4a4"/><stop offset="0.457" stop-color="#a6a6a6"/><stop offset="0.494" stop-color="#aaaaaa"/><stop offset="0.530" stop-color="#b0b0b0"/><stop offset="0.567" stop-color="#b5b5b5"/><stop offset="0.646" stop-color="#bbbbbb"/><stop offset="0.713" stop-color="#bdbdbd"/><stop offset="0.762" stop-color="#b9b9b9"/><stop offset="0.817" stop-color="#b2b2b2"/><stop offset="0.872" stop-color="#aeaeae"/><stop offset="0.921" stop-color="#b0b0b0"/><stop offset="0.951" stop-color="#bbbbbb"/><stop offset="0.963" stop-color="#c1c1c1"/><stop offset="0.970" stop-color="#cacaca"/><stop offset="0.976" stop-color="#d0d0d0"/><stop offset="0.982" stop-color="#d9d9d9"/><stop offset="0.988" stop-color="#e1e1e1"/><stop offset="1.000" stop-color="#e6e6e6"/></linearGradient>
<linearGradient id="g28" x1="0" y1="0" x2="0" y2="1"><stop offset="0.000" stop-color="#4f4f4f"/><stop offset="0.006" stop-color="#797979"/><stop offset="0.012" stop-color="#868686"/><stop offset="0.018" stop-color="#8a8a8a"/><stop offset="0.030" stop-color="#8c8c8c"/><stop offset="0.104" stop-color="#8e8e8e"/><stop offset="0.152" stop-color="#939393"/><stop offset="0.189" stop-color="#979797"/><stop offset="0.226" stop-color="#9d9d9d"/><stop offset="0.256" stop-color="#a4a4a4"/><stop offset="0.317" stop-color="#a4a4a4"/><stop offset="0.378" stop-color="#a6a6a6"/><stop offset="0.457" stop-color="#a8a8a8"/><stop offset="0.494" stop-color="#acacac"/><stop offset="0.530" stop-color="#b2b2b2"/><stop offset="0.567" stop-color="#b7b7b7"/><stop offset="0.646" stop-color="#bdbdbd"/><stop offset="0.713" stop-color="#bfbfbf"/><stop offset="0.762" stop-color="#bbbbbb"/><stop offset="0.817" stop-color="#b5b5b5"/><stop offset="0.872" stop-color="#b0b0b0"/><stop offset="0.921" stop-color="#b2b2b2"/><stop offset="0.951" stop-color="#bdbdbd"/><stop offset="0.963" stop-color="#c3c3c3"/><stop offset="0.970" stop-color="#cccccc"/><stop offset="0.976" stop-color="#d2d2d2"/><stop offset="0.982" stop-color="#dddddd"/><stop offset="0.988" stop-color="#e3e3e3"/><stop offset="1.000" stop-color="#eaeaea"/></linearGradient>
<linearGradient id="g29" x1="0" y1="0" x2="0" y2="1"><stop offset="0.000" stop-color="#4f4f4f"/><stop offset="0.006" stop-color="#7d7d7d"/><stop offset="0.012" stop-color="#8a8a8a"/><stop offset="0.018" stop-color="#8e8e8e"/><stop offset="0.030" stop-color="#909090"/><stop offset="0.104" stop-color="#939393"/><stop offset="0.152" stop-color="#979797"/><stop offset="0.189" stop-color="#9b9b9b"/><stop offset="0.226" stop-color="#a2a2a2"/><stop offset="0.256" stop-color="#a8a8a8"/><stop offset="0.317" stop-color="#a8a8a8"/><stop offset="0.378" stop-color="#aaaaaa"/><stop offset="0.457" stop-color="#acacac"/><stop offset="0.494" stop-color="#b0b0b0"/><stop offset="0.530" stop-color="#b7b7b7"/><stop offset="0.567" stop-color="#bbbbbb"/><stop offset="0.646" stop-color="#c1c1c1"/><stop offset="0.713" stop-color="#c3c3c3"/><stop offset="0.762" stop-color="#bfbfbf"/><stop offset="0.817" stop-color="#b9b9b9"/><stop offset="0.872" stop-color="#b5b5b5"/><stop offset="0.921" stop-color="#b7b7b7"/><stop offset="0.951" stop-color="#c1c1c1"/><stop offset="0.963" stop-color="#c8c8c8"/><stop offset="0.970" stop-color="#d0d0d0"/><stop offset="0.976" stop-color="#d7d7d7"/><stop offset="0.982" stop-color="#e1e1e1"/><stop offset="0.988" stop-color="#e8e8e8"/><stop offset="1.000" stop-color="#eeeeee"/></linearGradient>
<linearGradient id="g30" x1="0" y1="0" x2="0" y2="1"><stop offset="0.000" stop-color="#515151"/><stop offset="0.006" stop-color="#808080"/><stop offset="0.012" stop-color="#8c8c8c"/><stop offset="0.018" stop-color="#909090"/><stop offset="0.030" stop-color="#939393"/><stop offset="0.104" stop-color="#959595"/><stop offset="0.152" stop-color="#999999"/><stop offset="0.189" stop-color="#9d9d9d"/><stop offset="0.226" stop-color="#a6a6a6"/><stop offset="0.256" stop-color="#aaaaaa"/><stop offset="0.317" stop-color="#aaaaaa"/><stop offset="0.378" stop-color="#acacac"/><stop offset="0.457" stop-color="#aeaeae"/><stop offset="0.494" stop-color="#b2b2b2"/><stop offset="0.530" stop-color="#b9b9b9"/><stop offset="0.567" stop-color="#bdbdbd"/><stop offset="0.646" stop-color="#c3c3c3"/><stop offset="0.713" stop-color="#c6c6c6"/><stop offset="0.762" stop-color="#c1c1c1"/><stop offset="0.817" stop-color="#bbbbbb"/><stop offset="0.872" stop-color="#b7b7b7"/><stop offset="0.921" stop-color="#b9b9b9"/><stop offset="0.951" stop-color="#c3c3c3"/><stop offset="0.963" stop-color="#cacaca"/><stop offset="0.970" stop-color="#d2d2d2"/><stop offset="0.976" stop-color="#d9d9d9"/><stop offset="0.982" stop-color="#e1e1e1"/><stop offset="0.988" stop-color="#eaeaea"/><stop offset="1.000" stop-color="#eeeeee"/></linearGradient>
<linearGradient id="g31" x1="0" y1="0" x2="0" y2="1"><stop offset="0.000" stop-color="#515151"/><stop offset="0.006" stop-color="#848484"/><stop offset="0.012" stop-color="#909090"/><stop offset="0.018" stop-color="#959595"/><stop offset="0.030" stop-color="#979797"/><stop offset="0.104" stop-color="#999999"/><stop offset="0.152" stop-color="#9d9d9d"/><stop offset="0.189" stop-color="#a2a2a2"/><stop offset="0.226" stop-color="#aaaaaa"/><stop offset="0.256" stop-color="#aeaeae"/><stop offset="0.317" stop-color="#aeaeae"/><stop offset="0.378" stop-color="#b0b0b0"/><stop offset="0.457" stop-color="#b2b2b2"/><stop offset="0.494" stop-color="#b7b7b7"/><stop offset="0.530" stop-color="#bdbdbd"/><stop offset="0.567" stop-color="#c1c1c1"/><stop offset="0.646" stop-color="#c8c8c8"/><stop offset="0.713" stop-color="#cacaca"/><stop offset="0.762" stop-color="#c6c6c6"/><stop offset="0.817" stop-color="#bfbfbf"/><stop offset="0.872" stop-color="#bbbbbb"/><stop offset="0.921" stop-color="#bdbdbd"/><stop offset="0.951" stop-color="#c8c8c8"/><stop offset="0.963" stop-color="#cecece"/><stop offset="0.970" stop-color="#d7d7d7"/><stop offset="0.976" stop-color="#dddddd"/><stop offset="0.982" stop-color="#e6e6e6"/><stop offset="0.988" stop-color="#eeeeee"/><stop offset="1.000" stop-color="#f2f2f2"/></linearGradient>
<linearGradient id="g32" x1="0" y1="0" x2="0" y2="1"><stop offset="0.000" stop-color="#4d4d4d"/><stop offset="0.006" stop-color="#757575"/><stop offset="0.012" stop-color="#828282"/><stop offset="0.018" stop-color="#868686"/><stop offset="0.030" stop-color="#888888"/><stop offset="0.104" stop-color="#8a8a8a"/><stop offset="0.152" stop-color="#8e8e8e"/><stop offset="0.189" stop-color="#939393"/><stop offset="0.226" stop-color="#999999"/><stop offset="0.256" stop-color="#9f9f9f"/><stop offset="0.317" stop-color="#9f9f9f"/><stop offset="0.378" stop-color="#a2a2a2"/><stop offset="0.457" stop-color="#a4a4a4"/><stop offset="0.494" stop-color="#a8a8a8"/><stop offset="0.530" stop-color="#aeaeae"/><stop offset="0.567" stop-color="#b2b2b2"/><stop offset="0.646" stop-color="#b9b9b9"/><stop offset="0.713" stop-color="#bbbbbb"/><stop offset="0.762" stop-color="#b7b7b7"/><stop offset="0.817" stop-color="#b0b0b0"/><stop offset="0.872" stop-color="#acacac"/><stop offset="0.921" stop-color="#aeaeae"/><stop offset="0.951" stop-color="#b9b9b9"/><stop offset="0.963" stop-color="#bfbfbf"/><stop offset="0.970" stop-color="#c8c8c8"/><stop offset="0.976" stop-color="#cecece"/><stop offset="0.982" stop-color="#d9d9d9"/><stop offset="0.988" stop-color="#dfdfdf"/><stop offset="1.000" stop-color="#e6e6e6"/></linearGradient>
<linearGradient id="g33" x1="0" y1="0" x2="0" y2="1"><stop offset="0.000" stop-color="#535353"/><stop offset="0.006" stop-color="#888888"/><stop offset="0.012" stop-color="#959595"/><stop offset="0.018" stop-color="#999999"/><stop offset="0.030" stop-color="#9b9b9b"/><stop offset="0.104" stop-color="#9d9d9d"/><stop offset="0.152" stop-color="#a2a2a2"/><stop offset="0.189" stop-color="#a6a6a6"/><stop offset="0.226" stop-color="#aeaeae"/><stop offset="0.256" stop-color="#b2b2b2"/><stop offset="0.317" stop-color="#b2b2b2"/><stop offset="0.378" stop-color="#b5b5b5"/><stop offset="0.457" stop-color="#b7b7b7"/><stop offset="0.494" stop-color="#bbbbbb"/><stop offset="0.530" stop-color="#c1c1c1"/><stop offset="0.567" stop-color="#c6c6c6"/><stop offset="0.646" stop-color="#cccccc"/><stop offset="0.713" stop-color="#cecece"/><stop offset="0.762" stop-color="#cacaca"/><stop offset="0.817" stop-color="#c3c3c3"/><stop offset="0.872" stop-color="#bfbfbf"/><stop offset="0.921" stop-color="#c1c1c1"/><stop offset="0.951" stop-color="#cccccc"/><stop offset="0.963" stop-color="#d2d2d2"/><stop offset="0.970" stop-color="#dbdbdb"/><stop offset="0.976" stop-color="#e1e1e1"/><stop offset="0.982" stop-color="#eaeaea"/><stop offset="0.988" stop-color="#f2f2f2"/><stop offset="1.000" stop-color="#f6f6f6"/></linearGradient>
<linearGradient id="g34" x1="0" y1="0" x2="0" y2="1"><stop offset="0.000" stop-color="#4f4f4f"/><stop offset="0.006" stop-color="#848484"/><stop offset="0.012" stop-color="#939393"/><stop offset="0.018" stop-color="#979797"/><stop offset="0.030" stop-color="#999999"/><stop offset="0.104" stop-color="#9b9b9b"/><stop offset="0.152" stop-color="#9d9d9d"/><stop offset="0.189" stop-color="#a6a6a6"/><stop offset="0.226" stop-color="#aaaaaa"/><stop offset="0.256" stop-color="#acacac"/><stop offset="0.317" stop-color="#acacac"/><stop offset="0.378" stop-color="#aeaeae"/><stop offset="0.457" stop-color="#b0b0b0"/><stop offset="0.494" stop-color="#b7b7b7"/><stop offset="0.530" stop-color="#bbbbbb"/><stop offset="0.567" stop-color="#bfbfbf"/><stop offset="0.646" stop-color="#c3c3c3"/><stop offset="0.713" stop-color="#c8c8c8"/><stop offset="0.762" stop-color="#c6c6c6"/><stop offset="0.817" stop-color="#c3c3c3"/><stop offset="0.872" stop-color="#c1c1c1"/><stop offset="0.921" stop-color="#c3c3c3"/><stop offset="0.951" stop-color="#c8c8c8"/><stop offset="0.963" stop-color="#cccccc"/><stop offset="0.970" stop-color="#d2d2d2"/><stop offset="0.976" stop-color="#d9d9d9"/><stop offset="0.982" stop-color="#e1e1e1"/><stop offset="0.988" stop-color="#eaeaea"/><stop offset="1.000" stop-color="#eeeeee"/></linearGradient>
<linearGradient id="g35" x1="0" y1="0" x2="0" y2="1"><stop offset="0.000" stop-color="#515151"/><stop offset="0.006" stop-color="#888888"/><stop offset="0.012" stop-color="#979797"/><stop offset="0.018" stop-color="#9b9b9b"/><stop offset="0.030" stop-color="#9d9d9d"/><stop offset="0.104" stop-color="#9f9f9f"/><stop offset="0.152" stop-color="#a2a2a2"/><stop offset="0.189" stop-color="#aaaaaa"/><stop offset="0.226" stop-color="#aeaeae"/><stop offset="0.256" stop-color="#b0b0b0"/><stop offset="0.317" stop-color="#b0b0b0"/><stop offset="0.378" stop-color="#b2b2b2"/><stop offset="0.457" stop-color="#b5b5b5"/><stop offset="0.494" stop-color="#bbbbbb"/><stop offset="0.530" stop-color="#bfbfbf"/><stop offset="0.567" stop-color="#c3c3c3"/><stop offset="0.646" stop-color="#c8c8c8"/><stop offset="0.713" stop-color="#cccccc"/><stop offset="0.762" stop-color="#cacaca"/><stop offset="0.817" stop-color="#c8c8c8"/><stop offset="0.872" stop-color="#c6c6c6"/><stop offset="0.921" stop-color="#c8c8c8"/><stop offset="0.951" stop-color="#cccccc"/><stop offset="0.963" stop-color="#d0d0d0"/><stop offset="0.970" stop-color="#d7d7d7"/><stop offset="0.976" stop-color="#dddddd"/><stop offset="0.982" stop-color="#e6e6e6"/><stop offset="0.988" stop-color="#eeeeee"/><stop offset="1.000" stop-color="#f2f2f2"/></linearGradient>
<linearGradient id="g36" x1="0" y1="0" x2="0" y2="1"><stop offset="0.000" stop-color="#515151"/><stop offset="0.006" stop-color="#868686"/><stop offset="0.012" stop-color="#959595"/><stop offset="0.018" stop-color="#999999"/><stop offset="0.030" stop-color="#9b9b9b"/><stop offset="0.104" stop-color="#9d9d9d"/><stop offset="0.152" stop-color="#a2a2a2"/><stop offset="0.189" stop-color="#aaaaaa"/><stop offset="0.226" stop-color="#aeaeae"/><stop offset="0.256" stop-color="#aeaeae"/><stop offset="0.317" stop-color="#aeaeae"/><stop offset="0.378" stop-color="#b0b0b0"/><stop offset="0.457" stop-color="#b2b2b2"/><stop offset="0.494" stop-color="#b9b9b9"/><stop offset="0.530" stop-color="#bdbdbd"/><stop offset="0.567" stop-color="#c1c1c1"/><stop offset="0.646" stop-color="#c6c6c6"/><stop offset="0.713" stop-color="#cacaca"/><stop offset="0.762" stop-color="#c8c8c8"/><stop offset="0.817" stop-color="#c6c6c6"/><stop offset="0.872" stop-color="#c3c3c3"/><stop offset="0.921" stop-color="#c3c3c3"/><stop offset="0.951" stop-color="#c8c8c8"/><stop offset="0.963" stop-color="#cecece"/><stop offset="0.970" stop-color="#d4d4d4"/><stop offset="0.976" stop-color="#dbdbdb"/><stop offset="0.982" stop-color="#e3e3e3"/><stop offset="0.988" stop-color="#eaeaea"/><stop offset="1.000" stop-color="#eeeeee"/></linearGradient>
<linearGradient id="g37" x1="0" y1="0" x2="0" y2="1"><stop offset="0.000" stop-color="#4f4f4f"/><stop offset="0.006" stop-color="#828282"/><stop offset="0.012" stop-color="#909090"/><stop offset="0.018" stop-color="#959595"/><stop offset="0.030" stop-color="#979797"/><stop offset="0.104" stop-color="#999999"/><stop offset="0.152" stop-color="#9d9d9d"/><stop offset="0.189" stop-color="#a6a6a6"/><stop offset="0.226" stop-color="#aaaaaa"/><stop offset="0.256" stop-color="#aaaaaa"/><stop offset="0.317" stop-color="#aaaaaa"/><stop offset="0.378" stop-color="#acacac"/><stop offset="0.457" stop-color="#aeaeae"/><stop offset="0.494" stop-color="#b5b5b5"/><stop offset="0.530" stop-color="#b9b9b9"/><stop offset="0.567" stop-color="#bdbdbd"/><stop offset="0.646" stop-color="#c1c1c1"/><stop offset="0.713" stop-color="#c6c6c6"/><stop offset="0.762" stop-color="#c3c3c3"/><stop offset="0.817" stop-color="#c1c1c1"/><stop offset="0.872" stop-color="#bfbfbf"/><stop offset="0.921" stop-color="#bfbfbf"/><stop offset="0.951" stop-color="#c3c3c3"/><stop offset="0.963" stop-color="#cacaca"/><stop offset="0.970" stop-color="#d0d0d0"/><stop offset="0.976" stop-color="#d7d7d7"/><stop offset="0.982" stop-color="#dfdfdf"/><stop offset="0.988" stop-color="#e6e6e6"/><stop offset="1.000" stop-color="#eaeaea"/></linearGradient>
<linearGradient id="g38" x1="0" y1="0" x2="0" y2="1"><stop offset="0.000" stop-color="#4d4d4d"/><stop offset="0.006" stop-color="#7b7b7b"/><stop offset="0.012" stop-color="#8a8a8a"/><stop offset="0.018" stop-color="#8e8e8e"/><stop offset="0.030" stop-color="#909090"/><stop offset="0.104" stop-color="#939393"/><stop offset="0.152" stop-color="#959595"/><stop offset="0.189" stop-color="#9d9d9d"/><stop offset="0.226" stop-color="#a2a2a2"/><stop offset="0.256" stop-color="#a4a4a4"/><stop offset="0.317" stop-color="#a4a4a4"/><stop offset="0.378" stop-color="#a6a6a6"/><stop offset="0.457" stop-color="#a8a8a8"/><stop offset="0.494" stop-color="#aeaeae"/><stop offset="0.530" stop-color="#b2b2b2"/><stop offset="0.567" stop-color="#b7b7b7"/><stop offset="0.646" stop-color="#bbbbbb"/><stop offset="0.713" stop-color="#bfbfbf"/><stop offset="0.762" stop-color="#bdbdbd"/><stop offset="0.817" stop-color="#bbbbbb"/><stop offset="0.872" stop-color="#b9b9b9"/><stop offset="0.921" stop-color="#bbbbbb"/><stop offset="0.951" stop-color="#bfbfbf"/><stop offset="0.963" stop-color="#c3c3c3"/><stop offset="0.970" stop-color="#cacaca"/><stop offset="0.976" stop-color="#d0d0d0"/><stop offset="0.982" stop-color="#d9d9d9"/><stop offset="0.988" stop-color="#e1e1e1"/><stop offset="1.000" stop-color="#e6e6e6"/></linearGradient>
<linearGradient id="g39" x1="0" y1="0" x2="0" y2="1"><stop offset="0.000" stop-color="#4d4d4d"/><stop offset="0.006" stop-color="#7d7d7d"/><stop offset="0.012" stop-color="#8c8c8c"/><stop offset="0.018" stop-color="#909090"/><stop offset="0.030" stop-color="#939393"/><stop offset="0.104" stop-color="#959595"/><stop offset="0.152" stop-color="#999999"/><stop offset="0.189" stop-color="#a2a2a2"/><stop offset="0.226" stop-color="#a6a6a6"/><stop offset="0.256" stop-color="#a6a6a6"/><stop offset="0.317" stop-color="#a6a6a6"/><stop offset="0.378" stop-color="#a8a8a8"/><stop offset="0.457" stop-color="#aaaaaa"/><stop offset="0.494" stop-color="#b0b0b0"/><stop offset="0.530" stop-color="#b5b5b5"/><stop offset="0.567" stop-color="#b9b9b9"/><stop offset="0.646" stop-color="#bdbdbd"/><stop offset="0.713" stop-color="#c1c1c1"/><stop offset="0.762" stop-color="#bfbfbf"/><stop offset="0.817" stop-color="#bdbdbd"/><stop offset="0.872" stop-color="#bbbbbb"/><stop offset="0.921" stop-color="#bbbbbb"/><stop offset="0.951" stop-color="#bfbfbf"/><stop offset="0.963" stop-color="#c6c6c6"/><stop offset="0.970" stop-color="#cccccc"/><stop offset="0.976" stop-color="#d2d2d2"/><stop offset="0.982" stop-color="#dbdbdb"/><stop offset="0.988" stop-color="#e1e1e1"/><stop offset="1.000" stop-color="#e6e6e6"/></linearGradient>
<linearGradient id="g40" x1="0" y1="0" x2="0" y2="1"><stop offset="0.000" stop-color="#4f4f4f"/><stop offset="0.006" stop-color="#808080"/><stop offset="0.012" stop-color="#8e8e8e"/><stop offset="0.018" stop-color="#939393"/><stop offset="0.030" stop-color="#959595"/><stop offset="0.104" stop-color="#979797"/><stop offset="0.152" stop-color="#999999"/><stop offset="0.189" stop-color="#a2a2a2"/><stop offset="0.226" stop-color="#a6a6a6"/><stop offset="0.256" stop-color="#a8a8a8"/><stop offset="0.317" stop-color="#a8a8a8"/><stop offset="0.378" stop-color="#aaaaaa"/><stop offset="0.457" stop-color="#acacac"/><stop offset="0.494" stop-color="#b2b2b2"/><stop offset="0.530" stop-color="#b7b7b7"/><stop offset="0.567" stop-color="#bbbbbb"/><stop offset="0.646" stop-color="#bfbfbf"/><stop offset="0.713" stop-color="#c3c3c3"/><stop offset="0.762" stop-color="#c1c1c1"/><stop offset="0.817" stop-color="#bfbfbf"/><stop offset="0.872" stop-color="#bdbdbd"/><stop offset="0.921" stop-color="#bfbfbf"/><stop offset="0.951" stop-color="#c3c3c3"/><stop offset="0.963" stop-color="#c8c8c8"/><stop offset="0.970" stop-color="#cecece"/><stop offset="0.976" stop-color="#d4d4d4"/><stop offset="0.982" stop-color="#dddddd"/><stop offset="0.988" stop-color="#e6e6e6"/><stop offset="1.000" stop-color="#eaeaea"/></linearGradient>
<linearGradient id="g41" x1="0" y1="0" x2="0" y2="1"><stop offset="0.000" stop-color="#535353"/><stop offset="0.006" stop-color="#8e8e8e"/><stop offset="0.012" stop-color="#9d9d9d"/><stop offset="0.018" stop-color="#a2a2a2"/><stop offset="0.030" stop-color="#a4a4a4"/><stop offset="0.104" stop-color="#a6a6a6"/><stop offset="0.152" stop-color="#aaaaaa"/><stop offset="0.189" stop-color="#b2b2b2"/><stop offset="0.226" stop-color="#b7b7b7"/><stop offset="0.256" stop-color="#b7b7b7"/><stop offset="0.317" stop-color="#b7b7b7"/><stop offset="0.378" stop-color="#b9b9b9"/><stop offset="0.457" stop-color="#bbbbbb"/><stop offset="0.494" stop-color="#c1c1c1"/><stop offset="0.530" stop-color="#c6c6c6"/><stop offset="0.567" stop-color="#cacaca"/><stop offset="0.646" stop-color="#cecece"/><stop offset="0.713" stop-color="#d2d2d2"/><stop offset="0.762" stop-color="#d0d0d0"/><stop offset="0.817" stop-color="#cecece"/><stop offset="0.872" stop-color="#cccccc"/><stop offset="0.921" stop-color="#cccccc"/><stop offset="0.951" stop-color="#d0d0d0"/><stop offset="0.963" stop-color="#d7d7d7"/><stop offset="0.970" stop-color="#dddddd"/><stop offset="0.976" stop-color="#e3e3e3"/><stop offset="0.982" stop-color="#ececec"/><stop offset="0.988" stop-color="#f2f2f2"/><stop offset="1.000" stop-color="#f6f6f6"/></linearGradient>
<linearGradient id="g42" x1="0" y1="0" x2="0" y2="1"><stop offset="0.000" stop-color="#515151"/><stop offset="0.006" stop-color="#8a8a8a"/><stop offset="0.012" stop-color="#999999"/><stop offset="0.018" stop-color="#9d9d9d"/><stop offset="0.030" stop-color="#9f9f9f"/><stop offset="0.104" stop-color="#a2a2a2"/><stop offset="0.152" stop-color="#a6a6a6"/><stop offset="0.189" stop-color="#aeaeae"/><stop offset="0.226" stop-color="#b2b2b2"/><stop offset="0.256" stop-color="#b2b2b2"/><stop offset="0.317" stop-color="#b2b2b2"/><stop offset="0.378" stop-color="#b5b5b5"/><stop offset="0.457" stop-color="#b7b7b7"/><stop offset="0.494" stop-color="#bdbdbd"/><stop offset="0.530" stop-color="#c1c1c1"/><stop offset="0.567" stop-color="#c6c6c6"/><stop offset="0.646" stop-color="#cacaca"/><stop offset="0.713" stop-color="#cecece"/><stop offset="0.762" stop-color="#cccccc"/><stop offset="0.817" stop-color="#cacaca"/><stop offset="0.872" stop-color="#c8c8c8"/><stop offset="0.921" stop-color="#c8c8c8"/><stop offset="0.951" stop-color="#cccccc"/><stop offset="0.963" stop-color="#d2d2d2"/><stop offset="0.970" stop-color="#d9d9d9"/><stop offset="0.976" stop-color="#dfdfdf"/><stop offset="0.982" stop-color="#e8e8e8"/><stop offset="0.988" stop-color="#eeeeee"/><stop offset="1.000" stop-color="#f2f2f2"/></linearGradient>
<linearGradient id="g43" x1="0" y1="0" x2="0" y2="1"><stop offset="0.000" stop-color="#535353"/><stop offset="0.006" stop-color="#8c8c8c"/><stop offset="0.012" stop-color="#9b9b9b"/><stop offset="0.018" stop-color="#9f9f9f"/><stop offset="0.030" stop-color="#a2a2a2"/><stop offset="0.104" stop-color="#a4a4a4"/><stop offset="0.152" stop-color="#a6a6a6"/><stop offset="0.189" stop-color="#aeaeae"/><stop offset="0.226" stop-color="#b2b2b2"/><stop offset="0.256" stop-color="#b5b5b5"/><stop offset="0.317" stop-color="#b5b5b5"/><stop offset="0.378" stop-color="#b7b7b7"/><stop offset="0.457" stop-color="#b9b9b9"/><stop offset="0.494" stop-color="#bfbfbf"/><stop offset="0.530" stop-color="#c3c3c3"/><stop offset="0.567" stop-color="#c8c8c8"/><stop offset="0.646" stop-color="#cccccc"/><stop offset="0.713" stop-color="#d0d0d0"/><stop offset="0.762" stop-color="#cecece"/><stop offset="0.817" stop-color="#cccccc"/><stop offset="0.872" stop-color="#cacaca"/><stop offset="0.921" stop-color="#cccccc"/><stop offset="0.951" stop-color="#d0d0d0"/><stop offset="0.963" stop-color="#d4d4d4"/><stop offset="0.970" stop-color="#dbdbdb"/><stop offset="0.976" stop-color="#e1e1e1"/><stop offset="0.982" stop-color="#eaeaea"/><stop offset="0.988" stop-color="#f2f2f2"/><stop offset="1.000" stop-color="#f6f6f6"/></linearGradient>
<linearGradient id="g44" x1="0" y1="0" x2="0" y2="1"><stop offset="0.000" stop-color="#535353"/><stop offset="0.006" stop-color="#909090"/><stop offset="0.012" stop-color="#9f9f9f"/><stop offset="0.018" stop-color="#a4a4a4"/><stop offset="0.030" stop-color="#a6a6a6"/><stop offset="0.104" stop-color="#a8a8a8"/><stop offset="0.152" stop-color="#aaaaaa"/><stop offset="0.189" stop-color="#b2b2b2"/><stop offset="0.226" stop-color="#b7b7b7"/><stop offset="0.256" stop-color="#b9b9b9"/><stop offset="0.317" stop-color="#b9b9b9"/><stop offset="0.378" stop-color="#bbbbbb"/><stop offset="0.457" stop-color="#bdbdbd"/><stop offset="0.494" stop-color="#c3c3c3"/><stop offset="0.530" stop-color="#c8c8c8"/><stop offset="0.567" stop-color="#cccccc"/><stop offset="0.646" stop-color="#d0d0d0"/><stop offset="0.713" stop-color="#d4d4d4"/><stop offset="0.762" stop-color="#d2d2d2"/><stop offset="0.817" stop-color="#d0d0d0"/><stop offset="0.872" stop-color="#cecece"/><stop offset="0.921" stop-color="#d0d0d0"/><stop offset="0.951" stop-color="#d4d4d4"/><stop offset="0.963" stop-color="#d9d9d9"/><stop offset="0.970" stop-color="#dfdfdf"/><stop offset="0.976" stop-color="#e6e6e6"/><stop offset="0.982" stop-color="#eeeeee"/><stop offset="0.988" stop-color="#f6f6f6"/><stop offset="1.000" stop-color="#fbfbfb"/></linearGradient>
<linearGradient id="g45" x1="0" y1="0" x2="0" y2="1"><stop offset="0.000" stop-color="#484848"/><stop offset="0.006" stop-color="#888888"/><stop offset="0.012" stop-color="#939393"/><stop offset="0.018" stop-color="#979797"/><stop offset="0.030" stop-color="#999999"/><stop offset="0.104" stop-color="#9b9b9b"/><stop offset="0.152" stop-color="#9d9d9d"/><stop offset="0.189" stop-color="#a6a6a6"/><stop offset="0.226" stop-color="#acacac"/><stop offset="0.256" stop-color="#b0b0b0"/><stop offset="0.317" stop-color="#b2b2b2"/><stop offset="0.378" stop-color="#b5b5b5"/><stop offset="0.457" stop-color="#b7b7b7"/><stop offset="0.494" stop-color="#bbbbbb"/><stop offset="0.530" stop-color="#bfbfbf"/><stop offset="0.567" stop-color="#c3c3c3"/><stop offset="0.646" stop-color="#c8c8c8"/><stop offset="0.713" stop-color="#cccccc"/><stop offset="0.762" stop-color="#cacaca"/><stop offset="0.817" stop-color="#c6c6c6"/><stop offset="0.872" stop-color="#c3c3c3"/><stop offset="0.921" stop-color="#c3c3c3"/><stop offset="0.951" stop-color="#c8c8c8"/><stop offset="0.963" stop-color="#cccccc"/><stop offset="0.970" stop-color="#d4d4d4"/><stop offset="0.976" stop-color="#d9d9d9"/><stop offset="0.982" stop-color="#e1e1e1"/><stop offset="0.988" stop-color="#eaeaea"/><stop offset="1.000" stop-color="#eeeeee"/></linearGradient>
<linearGradient id="g46" x1="0" y1="0" x2="0" y2="1"><stop offset="0.000" stop-color="#484848"/><stop offset="0.006" stop-color="#848484"/><stop offset="0.012" stop-color="#909090"/><stop offset="0.018" stop-color="#959595"/><stop offset="0.030" stop-color="#979797"/><stop offset="0.104" stop-color="#9b9b9b"/><stop offset="0.152" stop-color="#9d9d9d"/><stop offset="0.189" stop-color="#a6a6a6"/><stop offset="0.226" stop-color="#acacac"/><stop offset="0.256" stop-color="#b0b0b0"/><stop offset="0.317" stop-color="#b2b2b2"/><stop offset="0.378" stop-color="#b5b5b5"/><stop offset="0.457" stop-color="#b7b7b7"/><stop offset="0.494" stop-color="#bbbbbb"/><stop offset="0.530" stop-color="#bfbfbf"/><stop offset="0.567" stop-color="#c3c3c3"/><stop offset="0.646" stop-color="#c8c8c8"/><stop offset="0.713" stop-color="#cccccc"/><stop offset="0.762" stop-color="#cacaca"/><stop offset="0.817" stop-color="#c6c6c6"/><stop offset="0.872" stop-color="#c3c3c3"/><stop offset="0.921" stop-color="#c3c3c3"/><stop offset="0.951" stop-color="#c8c8c8"/><stop offset="0.963" stop-color="#cccccc"/><stop offset="0.970" stop-color="#d4d4d4"/><stop offset="0.976" stop-color="#d9d9d9"/><stop offset="0.982" stop-color="#e1e1e1"/><stop offset="0.988" stop-color="#eaeaea"/><stop offset="1.000" stop-color="#eeeeee"/></linearGradient>
<linearGradient id="g47" x1="0" y1="0" x2="0" y2="1"><stop offset="0.000" stop-color="#484848"/><stop offset="0.006" stop-color="#7d7d7d"/><stop offset="0.012" stop-color="#888888"/><stop offset="0.018" stop-color="#8c8c8c"/><stop offset="0.030" stop-color="#909090"/><stop offset="0.104" stop-color="#959595"/><stop offset="0.152" stop-color="#999999"/><stop offset="0.189" stop-color="#a2a2a2"/><stop offset="0.226" stop-color="#aaaaaa"/><stop offset="0.256" stop-color="#b0b0b0"/><stop offset="0.317" stop-color="#b2b2b2"/><stop offset="0.378" stop-color="#b5b5b5"/><stop offset="0.457" stop-color="#b7b7b7"/><stop offset="0.494" stop-color="#bbbbbb"/><stop offset="0.530" stop-color="#bfbfbf"/><stop offset="0.567" stop-color="#c3c3c3"/><stop offset="0.646" stop-color="#c8c8c8"/><stop offset="0.713" stop-color="#cccccc"/><stop offset="0.762" stop-color="#cacaca"/><stop offset="0.817" stop-color="#c6c6c6"/><stop offset="0.872" stop-color="#c3c3c3"/><stop offset="0.921" stop-color="#c3c3c3"/><stop offset="0.951" stop-color="#c8c8c8"/><stop offset="0.963" stop-color="#cccccc"/><stop offset="0.970" stop-color="#d4d4d4"/><stop offset="0.976" stop-color="#d9d9d9"/><stop offset="0.982" stop-color="#e1e1e1"/><stop offset="0.988" stop-color="#eaeaea"/><stop offset="1.000" stop-color="#eeeeee"/></linearGradient>
<linearGradient id="g48" x1="0" y1="0" x2="0" y2="1"><stop offset="0.000" stop-color="#484848"/><stop offset="0.006" stop-color="#757575"/><stop offset="0.012" stop-color="#828282"/><stop offset="0.018" stop-color="#868686"/><stop offset="0.030" stop-color="#888888"/><stop offset="0.104" stop-color="#8c8c8c"/><stop offset="0.152" stop-color="#939393"/><stop offset="0.189" stop-color="#999999"/><stop offset="0.226" stop-color="#a2a2a2"/><stop offset="0.256" stop-color="#a8a8a8"/><stop offset="0.317" stop-color="#acacac"/><stop offset="0.378" stop-color="#b0b0b0"/><stop offset="0.457" stop-color="#b5b5b5"/><stop offset="0.494" stop-color="#bbbbbb"/><stop offset="0.530" stop-color="#bfbfbf"/><stop offset="0.567" stop-color="#c3c3c3"/><stop offset="0.646" stop-color="#c8c8c8"/><stop offset="0.713" stop-color="#cccccc"/><stop offset="0.762" stop-color="#cacaca"/><stop offset="0.817" stop-color="#c6c6c6"/><stop offset="0.872" stop-color="#c3c3c3"/><stop offset="0.921" stop-color="#c3c3c3"/><stop offset="0.951" stop-color="#c8c8c8"/><stop offset="0.963" stop-color="#cccccc"/><stop offset="0.970" stop-color="#d4d4d4"/><stop offset="0.976" stop-color="#d9d9d9"/><stop offset="0.982" stop-color="#e1e1e1"/><stop offset="0.988" stop-color="#eaeaea"/><stop offset="1.000" stop-color="#eeeeee"/></linearGradient>
<linearGradient id="g49" x1="0" y1="0" x2="0" y2="1"><stop offset="0.000" stop-color="#484848"/><stop offset="0.006" stop-color="#6e6e6e"/><stop offset="0.012" stop-color="#797979"/><stop offset="0.018" stop-color="#7d7d7d"/><stop offset="0.030" stop-color="#828282"/><stop offset="0.104" stop-color="#868686"/><stop offset="0.152" stop-color="#8a8a8a"/><stop offset="0.189" stop-color="#939393"/><stop offset="0.226" stop-color="#9b9b9b"/><stop offset="0.256" stop-color="#a2a2a2"/><stop offset="0.317" stop-color="#a6a6a6"/><stop offset="0.378" stop-color="#a8a8a8"/><stop offset="0.457" stop-color="#aeaeae"/><stop offset="0.494" stop-color="#b5b5b5"/><stop offset="0.530" stop-color="#bbbbbb"/><stop offset="0.567" stop-color="#bfbfbf"/><stop offset="0.646" stop-color="#c8c8c8"/><stop offset="0.713" stop-color="#cccccc"/><stop offset="0.762" stop-color="#cacaca"/><stop offset="0.817" stop-color="#c6c6c6"/><stop offset="0.872" stop-color="#c3c3c3"/><stop offset="0.921" stop-color="#c3c3c3"/><stop offset="0.951" stop-color="#c8c8c8"/><stop offset="0.963" stop-color="#cccccc"/><stop offset="0.970" stop-color="#d4d4d4"/><stop offset="0.976" stop-color="#d9d9d9"/><stop offset="0.982" stop-color="#e1e1e1"/><stop offset="0.988" stop-color="#eaeaea"/><stop offset="1.000" stop-color="#eeeeee"/></linearGradient>
<linearGradient id="g50" x1="0" y1="0" x2="0" y2="1"><stop offset="0.000" stop-color="#484848"/><stop offset="0.006" stop-color="#666666"/><stop offset="0.012" stop-color="#737373"/><stop offset="0.018" stop-color="#777777"/><stop offset="0.030" stop-color="#797979"/><stop offset="0.104" stop-color="#7d7d7d"/><stop offset="0.152" stop-color="#848484"/><stop offset="0.189" stop-color="#8a8a8a"/><stop offset="0.226" stop-color="#939393"/><stop offset="0.256" stop-color="#999999"/><stop offset="0.317" stop-color="#9d9d9d"/><stop offset="0.378" stop-color="#a2a2a2"/><stop offset="0.457" stop-color="#a6a6a6"/><stop offset="0.494" stop-color="#acacac"/><stop offset="0.530" stop-color="#b2b2b2"/><stop offset="0.567" stop-color="#b7b7b7"/><stop offset="0.646" stop-color="#bfbfbf"/><stop offset="0.713" stop-color="#c8c8c8"/><stop offset="0.762" stop-color="#cacaca"/><stop offset="0.817" stop-color="#c6c6c6"/><stop offset="0.872" stop-color="#c3c3c3"/><stop offset="0.921" stop-color="#c3c3c3"/><stop offset="0.951" stop-color="#c8c8c8"/><stop offset="0.963" stop-color="#cccccc"/><stop offset="0.970" stop-color="#d4d4d4"/><stop offset="0.976" stop-color="#d9d9d9"/><stop offset="0.982" stop-color="#e1e1e1"/><stop offset="0.988" stop-color="#eaeaea"/><stop offset="1.000" stop-color="#eeeeee"/></linearGradient>
<linearGradient id="g51" x1="0" y1="0" x2="0" y2="1"><stop offset="0.000" stop-color="#484848"/><stop offset="0.006" stop-color="#606060"/><stop offset="0.012" stop-color="#6a6a6a"/><stop offset="0.018" stop-color="#6e6e6e"/><stop offset="0.030" stop-color="#737373"/><stop offset="0.104" stop-color="#777777"/><stop offset="0.152" stop-color="#7b7b7b"/><stop offset="0.189" stop-color="#848484"/><stop offset="0.226" stop-color="#8c8c8c"/><stop offset="0.256" stop-color="#939393"/><stop offset="0.317" stop-color="#979797"/><stop offset="0.378" stop-color="#999999"/><stop offset="0.457" stop-color="#9f9f9f"/><stop offset="0.494" stop-color="#a6a6a6"/><stop offset="0.530" stop-color="#acacac"/><stop offset="0.567" stop-color="#b0b0b0"/><stop offset="0.646" stop-color="#b9b9b9"/><stop offset="0.713" stop-color="#c1c1c1"/><stop offset="0.762" stop-color="#c3c3c3"/><stop offset="0.817" stop-color="#c6c6c6"/><stop offset="0.872" stop-color="#c3c3c3"/><stop offset="0.921" stop-color="#c3c3c3"/><stop offset="0.951" stop-color="#c8c8c8"/><stop offset="0.963" stop-color="#cccccc"/><stop offset="0.970" stop-color="#d4d4d4"/><stop offset="0.976" stop-color="#d9d9d9"/><stop offset="0.982" stop-color="#e1e1e1"/><stop offset="0.988" stop-color="#eaeaea"/><stop offset="1.000" stop-color="#eeeeee"/></linearGradient>
<linearGradient id="g52" x1="0" y1="0" x2="0" y2="1"><stop offset="0.000" stop-color="#484848"/><stop offset="0.006" stop-color="#5b5b5b"/><stop offset="0.012" stop-color="#646464"/><stop offset="0.018" stop-color="#686868"/><stop offset="0.030" stop-color="#6a6a6a"/><stop offset="0.104" stop-color="#6e6e6e"/><stop offset="0.152" stop-color="#757575"/><stop offset="0.189" stop-color="#7b7b7b"/><stop offset="0.226" stop-color="#848484"/><stop offset="0.256" stop-color="#8a8a8a"/><stop offset="0.317" stop-color="#8e8e8e"/><stop offset="0.378" stop-color="#939393"/><stop offset="0.457" stop-color="#979797"/><stop offset="0.494" stop-color="#9d9d9d"/><stop offset="0.530" stop-color="#a4a4a4"/><stop offset="0.567" stop-color="#a8a8a8"/><stop offset="0.646" stop-color="#b0b0b0"/><stop offset="0.713" stop-color="#b9b9b9"/><stop offset="0.762" stop-color="#bbbbbb"/><stop offset="0.817" stop-color="#bdbdbd"/><stop offset="0.872" stop-color="#c1c1c1"/><stop offset="0.921" stop-color="#c3c3c3"/><stop offset="0.951" stop-color="#c8c8c8"/><stop offset="0.963" stop-color="#cccccc"/><stop offset="0.970" stop-color="#d4d4d4"/><stop offset="0.976" stop-color="#d9d9d9"/><stop offset="0.982" stop-color="#e1e1e1"/><stop offset="0.988" stop-color="#eaeaea"/><stop offset="1.000" stop-color="#eeeeee"/></linearGradient>
<linearGradient id="g53" x1="0" y1="0" x2="0" y2="1"><stop offset="0.000" stop-color="#484848"/><stop offset="0.006" stop-color="#5b5b5b"/><stop offset="0.012" stop-color="#5b5b5b"/><stop offset="0.018" stop-color="#606060"/><stop offset="0.030" stop-color="#646464"/><stop offset="0.104" stop-color="#686868"/><stop offset="0.152" stop-color="#6c6c6c"/><stop offset="0.189" stop-color="#757575"/><stop offset="0.226" stop-color="#7d7d7d"/><stop offset="0.256" stop-color="#848484"/><stop offset="0.317" stop-color="#888888"/><stop offset="0.378" stop-color="#8a8a8a"/><stop offset="0.457" stop-color="#909090"/><stop offset="0.494" stop-color="#979797"/><stop offset="0.530" stop-color="#9d9d9d"/><stop offset="0.567" stop-color="#a2a2a2"/><stop offset="0.646" stop-color="#aaaaaa"/><stop offset="0.713" stop-color="#b2b2b2"/><stop offset="0.762" stop-color="#b5b5b5"/><stop offset="0.817" stop-color="#b7b7b7"/><stop offset="0.872" stop-color="#bbbbbb"/><stop offset="0.921" stop-color="#c3c3c3"/><stop offset="0.951" stop-color="#c8c8c8"/><stop offset="0.963" stop-color="#cccccc"/><stop offset="0.970" stop-color="#d4d4d4"/><stop offset="0.976" stop-color="#d9d9d9"/><stop offset="0.982" stop-color="#e1e1e1"/><stop offset="0.988" stop-color="#eaeaea"/><stop offset="1.000" stop-color="#eeeeee"/></linearGradient>
<linearGradient id="g54" x1="0" y1="0" x2="0" y2="1"><stop offset="0.000" stop-color="#484848"/><stop offset="0.006" stop-color="#5b5b5b"/><stop offset="0.012" stop-color="#5b5b5b"/><stop offset="0.018" stop-color="#5b5b5b"/><stop offset="0.030" stop-color="#5b5b5b"/><stop offset="0.104" stop-color="#606060"/><stop offset="0.152" stop-color="#666666"/><stop offset="0.189" stop-color="#6c6c6c"/><stop offset="0.226" stop-color="#757575"/><stop offset="0.256" stop-color="#7b7b7b"/><stop offset="0.317" stop-color="#808080"/><stop offset="0.378" stop-color="#848484"/><stop offset="0.457" stop-color="#888888"/><stop offset="0.494" stop-color="#8e8e8e"/><stop offset="0.530" stop-color="#959595"/><stop offset="0.567" stop-color="#999999"/><stop offset="0.646" stop-color="#a2a2a2"/><stop offset="0.713" stop-color="#aaaaaa"/><stop offset="0.762" stop-color="#acacac"/><stop offset="0.817" stop-color="#aeaeae"/><stop offset="0.872" stop-color="#b2b2b2"/><stop offset="0.921" stop-color="#bfbfbf"/><stop offset="0.951" stop-color="#c8c8c8"/><stop offset="0.963" stop-color="#cccccc"/><stop offset="0.970" stop-color="#d4d4d4"/><stop offset="0.976" stop-color="#d9d9d9"/><stop offset="0.982" stop-color="#e1e1e1"/><stop offset="0.988" stop-color="#eaeaea"/><stop offset="1.000" stop-color="#eeeeee"/></linearGradient>
<linearGradient id="g55" x1="0" y1="0" x2="0" y2="1"><stop offset="0.000" stop-color="#484848"/><stop offset="0.006" stop-color="#595959"/><stop offset="0.012" stop-color="#595959"/><stop offset="0.018" stop-color="#595959"/><stop offset="0.030" stop-color="#595959"/><stop offset="0.104" stop-color="#595959"/><stop offset="0.152" stop-color="#5e5e5e"/><stop offset="0.189" stop-color="#666666"/><stop offset="0.226" stop-color="#6e6e6e"/><stop offset="0.256" stop-color="#757575"/><stop offset="0.317" stop-color="#797979"/><stop offset="0.378" stop-color="#7b7b7b"/><stop offset="0.457" stop-color="#828282"/><stop offset="0.494" stop-color="#888888"/><stop offset="0.530" stop-color="#8e8e8e"/><stop offset="0.567" stop-color="#939393"/><stop offset="0.646" stop-color="#9b9b9b"/><stop offset="0.713" stop-color="#a4a4a4"/><stop offset="0.762" stop-color="#a6a6a6"/><stop offset="0.817" stop-color="#a8a8a8"/><stop offset="0.872" stop-color="#acacac"/><stop offset="0.921" stop-color="#b7b7b7"/><stop offset="0.951" stop-color="#c3c3c3"/><stop offset="0.963" stop-color="#cccccc"/><stop offset="0.970" stop-color="#d4d4d4"/><stop offset="0.976" stop-color="#d9d9d9"/><stop offset="0.982" stop-color="#e1e1e1"/><stop offset="0.988" stop-color="#eaeaea"/><stop offset="1.000" stop-color="#eeeeee"/></linearGradient>
<linearGradient id="g56" x1="0" y1="0" x2="0" y2="1"><stop offset="0.000" stop-color="#484848"/><stop offset="0.006" stop-color="#595959"/><stop offset="0.012" stop-color="#595959"/><stop offset="0.018" stop-color="#595959"/><stop offset="0.030" stop-color="#595959"/><stop offset="0.104" stop-color="#595959"/><stop offset="0.152" stop-color="#595959"/><stop offset="0.189" stop-color="#5e5e5e"/><stop offset="0.226" stop-color="#666666"/><stop offset="0.256" stop-color="#6c6c6c"/><stop offset="0.317" stop-color="#717171"/><stop offset="0.378" stop-color="#757575"/><stop offset="0.457" stop-color="#797979"/><stop offset="0.494" stop-color="#808080"/><stop offset="0.530" stop-color="#868686"/><stop offset="0.567" stop-color="#8a8a8a"/><stop offset="0.646" stop-color="#939393"/><stop offset="0.713" stop-color="#9b9b9b"/><stop offset="0.762" stop-color="#9d9d9d"/><stop offset="0.817" stop-color="#9f9f9f"/><stop offset="0.872" stop-color="#a4a4a4"/><stop offset="0.921" stop-color="#b0b0b0"/><stop offset="0.951" stop-color="#bbbbbb"/><stop offset="0.963" stop-color="#c6c6c6"/><stop offset="0.970" stop-color="#d4d4d4"/><stop offset="0.976" stop-color="#d9d9d9"/><stop offset="0.982" stop-color="#e1e1e1"/><stop offset="0.988" stop-color="#eaeaea"/><stop offset="1.000" stop-color="#eeeeee"/></linearGradient>
<linearGradient id="g57" x1="0" y1="0" x2="0" y2="1"><stop offset="0.000" stop-color="#484848"/><stop offset="0.006" stop-color="#595959"/><stop offset="0.012" stop-color="#595959"/><stop offset="0.018" stop-color="#595959"/><stop offset="0.030" stop-color="#595959"/><stop offset="0.104" stop-color="#595959"/><stop offset="0.152" stop-color="#595959"/><stop offset="0.189" stop-color="#595959"/><stop offset="0.226" stop-color="#606060"/><stop offset="0.256" stop-color="#666666"/><stop offset="0.317" stop-color="#6a6a6a"/><stop offset="0.378" stop-color="#6c6c6c"/><stop offset="0.457" stop-color="#737373"/><stop offset="0.494" stop-color="#797979"/><stop offset="0.530" stop-color="#808080"/><stop offset="0.567" stop-color="#848484"/><stop offset="0.646" stop-color="#8c8c8c"/><stop offset="0.713" stop-color="#959595"/><stop offset="0.762" stop-color="#979797"/><stop offset="0.817" stop-color="#999999"/><stop offset="0.872" stop-color="#9d9d9d"/><stop offset="0.921" stop-color="#a8a8a8"/><stop offset="0.951" stop-color="#b5b5b5"/><stop offset="0.963" stop-color="#bdbdbd"/><stop offset="0.970" stop-color="#d4d4d4"/><stop offset="0.976" stop-color="#d9d9d9"/><stop offset="0.982" stop-color="#e1e1e1"/><stop offset="0.988" stop-color="#eaeaea"/><stop offset="1.000" stop-color="#eeeeee"/></linearGradient>
<linearGradient id="g58" x1="0" y1="0" x2="0" y2="1"><stop offset="0.000" stop-color="#484848"/><stop offset="0.006" stop-color="#595959"/><stop offset="0.012" stop-color="#595959"/><stop offset="0.018" stop-color="#595959"/><stop offset="0.030" stop-color="#595959"/><stop offset="0.104" stop-color="#595959"/><stop offset="0.152" stop-color="#595959"/><stop offset="0.189" stop-color="#595959"/><stop offset="0.226" stop-color="#595959"/><stop offset="0.256" stop-color="#5e5e5e"/><stop offset="0.317" stop-color="#626262"/><stop offset="0.378" stop-color="#666666"/><stop offset="0.457" stop-color="#6a6a6a"/><stop offset="0.494" stop-color="#717171"/><stop offset="0.530" stop-color="#777777"/><stop offset="0.567" stop-color="#7b7b7b"/><stop offset="0.646" stop-color="#848484"/><stop offset="0.713" stop-color="#8c8c8c"/><stop offset="0.762" stop-color="#8e8e8e"/><stop offset="0.817" stop-color="#909090"/><stop offset="0.872" stop-color="#959595"/><stop offset="0.921" stop-color="#a2a2a2"/><stop offset="0.951" stop-color="#acacac"/><stop offset="0.963" stop-color="#b7b7b7"/><stop offset="0.970" stop-color="#cecece"/><stop offset="0.976" stop-color="#d4d4d4"/><stop offset="0.982" stop-color="#dddddd"/><stop offset="0.988" stop-color="#e3e3e3"/><stop offset="1.000" stop-color="#e8e8e8"/></linearGradient>
<linearGradient id="g59" x1="0" y1="0" x2="0" y2="1"><stop offset="0.000" stop-color="#484848"/><stop offset="0.006" stop-color="#595959"/><stop offset="0.012" stop-color="#595959"/><stop offset="0.018" stop-color="#595959"/><stop offset="0.030" stop-color="#595959"/><stop offset="0.104" stop-color="#595959"/><stop offset="0.152" stop-color="#595959"/><stop offset="0.189" stop-color="#595959"/><stop offset="0.226" stop-color="#595959"/><stop offset="0.256" stop-color="#595959"/><stop offset="0.317" stop-color="#5b5b5b"/><stop offset="0.378" stop-color="#5e5e5e"/><stop offset="0.457" stop-color="#646464"/><stop offset="0.494" stop-color="#6a6a6a"/><stop offset="0.530" stop-color="#717171"/><stop offset="0.567" stop-color="#757575"/><stop offset="0.646" stop-color="#7d7d7d"/><stop offset="0.713" stop-color="#868686"/><stop offset="0.762" stop-color="#888888"/><stop offset="0.817" stop-color="#8a8a8a"/><stop offset="0.872" stop-color="#8e8e8e"/><stop offset="0.921" stop-color="#999999"/><stop offset="0.951" stop-color="#a6a6a6"/><stop offset="0.963" stop-color="#aeaeae"/><stop offset="0.970" stop-color="#c8c8c8"/><stop offset="0.976" stop-color="#cecece"/><stop offset="0.982" stop-color="#d7d7d7"/><stop offset="0.988" stop-color="#dfdfdf"/><stop offset="1.000" stop-color="#e3e3e3"/></linearGradient>
<linearGradient id="g60" x1="0" y1="0" x2="0" y2="1"><stop offset="0.000" stop-color="#484848"/><stop offset="0.006" stop-color="#595959"/><stop offset="0.012" stop-color="#595959"/><stop offset="0.018" stop-color="#595959"/><stop offset="0.030" stop-color="#595959"/><stop offset="0.104" stop-color="#595959"/><stop offset="0.152" stop-color="#595959"/><stop offset="0.189" stop-color="#595959"/><stop offset="0.226" stop-color="#595959"/><stop offset="0.256" stop-color="#595959"/><stop offset="0.317" stop-color="#595959"/><stop offset="0.378" stop-color="#595959"/><stop offset="0.457" stop-color="#5b5b5b"/><stop offset="0.494" stop-color="#626262"/><stop offset="0.530" stop-color="#686868"/><stop offset="0.567" stop-color="#6c6c6c"/><stop offset="0.646" stop-color="#757575"/><stop offset="0.713" stop-color="#7d7d7d"/><stop offset="0.762" stop-color="#808080"/><stop offset="0.817" stop-color="#828282"/><stop offset="0.872" stop-color="#868686"/><stop offset="0.921" stop-color="#939393"/><stop offset="0.951" stop-color="#9d9d9d"/><stop offset="0.963" stop-color="#a8a8a8"/><stop offset="0.970" stop-color="#c1c1c1"/><stop offset="0.976" stop-color="#c8c8c8"/><stop offset="0.982" stop-color="#d0d0d0"/><stop offset="0.988" stop-color="#d9d9d9"/><stop offset="1.000" stop-color="#dddddd"/></linearGradient>
<linearGradient id="g61" x1="0" y1="0" x2="0" y2="1"><stop offset="0.000" stop-color="#484848"/><stop offset="0.006" stop-color="#595959"/><stop offset="0.012" stop-color="#595959"/><stop offset="0.018" stop-color="#595959"/><stop offset="0.030" stop-color="#595959"/><stop offset="0.104" stop-color="#595959"/><stop offset="0.152" stop-color="#595959"/><stop offset="0.189" stop-color="#595959"/><stop offset="0.226" stop-color="#595959"/><stop offset="0.256" stop-color="#595959"/><stop offset="0.317" stop-color="#595959"/><stop offset="0.378" stop-color="#595959"/><stop offset="0.457" stop-color="#595959"/><stop offset="0.494" stop-color="#5b5b5b"/><stop offset="0.530" stop-color="#626262"/><stop offset="0.567" stop-color="#666666"/><stop offset="0.646" stop-color="#6e6e6e"/><stop offset="0.713" stop-color="#777777"/><stop offset="0.762" stop-color="#797979"/><stop offset="0.817" stop-color="#7b7b7b"/><stop offset="0.872" stop-color="#808080"/><stop offset="0.921" stop-color="#8a8a8a"/><stop offset="0.951" stop-color="#979797"/><stop offset="0.963" stop-color="#9f9f9f"/><stop offset="0.970" stop-color="#bdbdbd"/><stop offset="0.976" stop-color="#c3c3c3"/><stop offset="0.982" stop-color="#cccccc"/><stop offset="0.988" stop-color="#d2d2d2"/><stop offset="1.000" stop-color="#d7d7d7"/></linearGradient>
<linearGradient id="g62" x1="0" y1="0" x2="0" y2="1"><stop offset="0.000" stop-color="#484848"/><stop offset="0.006" stop-color="#575757"/><stop offset="0.012" stop-color="#575757"/><stop offset="0.018" stop-color="#575757"/><stop offset="0.030" stop-color="#575757"/><stop offset="0.104" stop-color="#575757"/><stop offset="0.152" stop-color="#575757"/><stop offset="0.189" stop-color="#575757"/><stop offset="0.226" stop-color="#575757"/><stop offset="0.256" stop-color="#575757"/><stop offset="0.317" stop-color="#575757"/><stop offset="0.378" stop-color="#575757"/><stop offset="0.457" stop-color="#575757"/><stop offset="0.494" stop-color="#575757"/><stop offset="0.530" stop-color="#595959"/><stop offset="0.567" stop-color="#5e5e5e"/><stop offset="0.646" stop-color="#666666"/><stop offset="0.713" stop-color="#6e6e6e"/><stop offset="0.762" stop-color="#717171"/><stop offset="0.817" stop-color="#737373"/><stop offset="0.872" stop-color="#777777"/><stop offset="0.921" stop-color="#848484"/><stop offset="0.951" stop-color="#8e8e8e"/><stop offset="0.963" stop-color="#999999"/><stop offset="0.970" stop-color="#b7b7b7"/><stop offset="0.976" stop-color="#bdbdbd"/><stop offset="0.982" stop-color="#c6c6c6"/><stop offset="0.988" stop-color="#cccccc"/><stop offset="1.000" stop-color="#d0d0d0"/></linearGradient>
<linearGradient id="g63" x1="0" y1="0" x2="0" y2="1"><stop offset="0.000" stop-color="#484848"/><stop offset="0.006" stop-color="#575757"/><stop offset="0.012" stop-color="#575757"/><stop offset="0.018" stop-color="#575757"/><stop offset="0.030" stop-color="#575757"/><stop offset="0.104" stop-color="#575757"/><stop offset="0.152" stop-color="#575757"/><stop offset="0.189" stop-color="#575757"/><stop offset="0.226" stop-color="#575757"/><stop offset="0.256" stop-color="#575757"/><stop offset="0.317" stop-color="#575757"/><stop offset="0.378" stop-color="#575757"/><stop offset="0.457" stop-color="#575757"/><stop offset="0.494" stop-color="#575757"/><stop offset="0.530" stop-color="#575757"/><stop offset="0.567" stop-color="#575757"/><stop offset="0.646" stop-color="#606060"/><stop offset="0.713" stop-color="#686868"/><stop offset="0.762" stop-color="#6a6a6a"/><stop offset="0.817" stop-color="#6c6c6c"/><stop offset="0.872" stop-color="#717171"/><stop offset="0.921" stop-color="#7b7b7b"/><stop offset="0.951" stop-color="#888888"/><stop offset="0.963" stop-color="#909090"/><stop offset="0.970" stop-color="#b0b0b0"/><stop offset="0.976" stop-color="#b7b7b7"/><stop offset="0.982" stop-color="#bfbfbf"/><stop offset="0.988" stop-color="#c8c8c8"/><stop offset="1.000" stop-color="#cccccc"/></linearGradient>
<linearGradient id="g64" x1="0" y1="0" x2="0" y2="1"><stop offset="0.000" stop-color="#484848"/><stop offset="0.006" stop-color="#575757"/><stop offset="0.012" stop-color="#575757"/><stop offset="0.018" stop-color="#575757"/><stop offset="0.030" stop-color="#575757"/><stop offset="0.104" stop-color="#575757"/><stop offset="0.152" stop-color="#575757"/><stop offset="0.189" stop-color="#575757"/><stop offset="0.226" stop-color="#575757"/><stop offset="0.256" stop-color="#575757"/><stop offset="0.317" stop-color="#575757"/><stop offset="0.378" stop-color="#575757"/><stop offset="0.457" stop-color="#575757"/><stop offset="0.494" stop-color="#575757"/><stop offset="0.530" stop-color="#575757"/><stop offset="0.567" stop-color="#575757"/><stop offset="0.646" stop-color="#575757"/><stop offset="0.713" stop-color="#606060"/><stop offset="0.762" stop-color="#626262"/><stop offset="0.817" stop-color="#646464"/><stop offset="0.872" stop-color="#686868"/><stop offset="0.921" stop-color="#757575"/><stop offset="0.951" stop-color="#808080"/><stop offset="0.963" stop-color="#8a8a8a"/><stop offset="0.970" stop-color="#acacac"/><stop offset="0.976" stop-color="#b2b2b2"/><stop offset="0.982" stop-color="#bbbbbb"/><stop offset="0.988" stop-color="#c1c1c1"/><stop offset="1.000" stop-color="#c6c6c6"/></linearGradient>
<linearGradient id="g65" x1="0" y1="0" x2="0" y2="1"><stop offset="0.000" stop-color="#484848"/><stop offset="0.006" stop-color="#575757"/><stop offset="0.012" stop-color="#575757"/><stop offset="0.018" stop-color="#575757"/><stop offset="0.030" stop-color="#575757"/><stop offset="0.104" stop-color="#575757"/><stop offset="0.152" stop-color="#575757"/><stop offset="0.189" stop-color="#575757"/><stop offset="0.226" stop-color="#575757"/><stop offset="0.256" stop-color="#575757"/><stop offset="0.317" stop-color="#575757"/><stop offset="0.378" stop-color="#575757"/><stop offset="0.457" stop-color="#575757"/><stop offset="0.494" stop-color="#575757"/><stop offset="0.530" stop-color="#575757"/><stop offset="0.567" stop-color="#575757"/><stop offset="0.646" stop-color="#575757"/><stop offset="0.713" stop-color="#595959"/><stop offset="0.762" stop-color="#5b5b5b"/><stop offset="0.817" stop-color="#5e5e5e"/><stop offset="0.872" stop-color="#626262"/><stop offset="0.921" stop-color="#6c6c6c"/><stop offset="0.951" stop-color="#797979"/><stop offset="0.963" stop-color="#828282"/><stop offset="0.970" stop-color="#a6a6a6"/><stop offset="0.976" stop-color="#acacac"/><stop offset="0.982" stop-color="#b5b5b5"/><stop offset="0.988" stop-color="#bbbbbb"/><stop offset="1.000" stop-color="#bfbfbf"/></linearGradient>
<linearGradient id="g66" x1="0" y1="0" x2="0" y2="1"><stop offset="0.000" stop-color="#484848"/><stop offset="0.006" stop-color="#575757"/><stop offset="0.012" stop-color="#575757"/><stop offset="0.018" stop-color="#575757"/><stop offset="0.030" stop-color="#575757"/><stop offset="0.104" stop-color="#575757"/><stop offset="0.152" stop-color="#575757"/><stop offset="0.189" stop-color="#575757"/><stop offset="0.226" stop-color="#575757"/><stop offset="0.256" stop-color="#575757"/><stop offset="0.317" stop-color="#575757"/><stop offset="0.378" stop-color="#575757"/><stop offset="0.457" stop-color="#575757"/><stop offset="0.494" stop-color="#575757"/><stop offset="0.530" stop-color="#575757"/><stop offset="0.567" stop-color="#575757"/><stop offset="0.646" stop-color="#575757"/><stop offset="0.713" stop-color="#575757"/><stop offset="0.762" stop-color="#575757"/><stop offset="0.817" stop-color="#575757"/><stop offset="0.872" stop-color="#595959"/><stop offset="0.921" stop-color="#666666"/><stop offset="0.951" stop-color="#717171"/><stop offset="0.963" stop-color="#7b7b7b"/><stop offset="0.970" stop-color="#9f9f9f"/><stop offset="0.976" stop-color="#a6a6a6"/><stop offset="0.982" stop-color="#aeaeae"/><stop offset="0.988" stop-color="#b7b7b7"/><stop offset="1.000" stop-color="#bbbbbb"/></linearGradient>
<linearGradient id="g67" x1="0" y1="0" x2="0" y2="1"><stop offset="0.000" stop-color="#484848"/><stop offset="0.006" stop-color="#575757"/><stop offset="0.012" stop-color="#575757"/><stop offset="0.018" stop-color="#575757"/><stop offset="0.030" stop-color="#575757"/><stop offset="0.104" stop-color="#575757"/><stop offset="0.152" stop-color="#575757"/><stop offset="0.189" stop-color="#575757"/><stop offset="0.226" stop-color="#575757"/><stop offset="0.256" stop-color="#575757"/><stop offset="0.317" stop-color="#575757"/><stop offset="0.378" stop-color="#575757"/><stop offset="0.457" stop-color="#575757"/><stop offset="0.494" stop-color="#575757"/><stop offset="0.530" stop-color="#575757"/><stop offset="0.567" stop-color="#575757"/><stop offset="0.646" stop-color="#575757"/><stop offset="0.713" stop-color="#575757"/><stop offset="0.762" stop-color="#575757"/><stop offset="0.817" stop-color="#575757"/><stop offset="0.872" stop-color="#575757"/><stop offset="0.921" stop-color="#5e5e5e"/><stop offset="0.951" stop-color="#6a6a6a"/><stop offset="0.963" stop-color="#737373"/><stop offset="0.970" stop-color="#999999"/><stop offset="0.976" stop-color="#a2a2a2"/><stop offset="0.982" stop-color="#aaaaaa"/><stop offset="0.988" stop-color="#b0b0b0"/><stop offset="1.000" stop-color="#b5b5b5"/></linearGradient>
<linearGradient id="g68" x1="0" y1="0" x2="0" y2="1"><stop offset="0.000" stop-color="#484848"/><stop offset="0.006" stop-color="#555555"/><stop offset="0.012" stop-color="#555555"/><stop offset="0.018" stop-color="#555555"/><stop offset="0.030" stop-color="#555555"/><stop offset="0.104" stop-color="#555555"/><stop offset="0.152" stop-color="#555555"/><stop offset="0.189" stop-color="#555555"/><stop offset="0.226" stop-color="#555555"/><stop offset="0.256" stop-color="#555555"/><stop offset="0.317" stop-color="#555555"/><stop offset="0.378" stop-color="#555555"/><stop offset="0.457" stop-color="#555555"/><stop offset="0.494" stop-color="#555555"/><stop offset="0.530" stop-color="#555555"/><stop offset="0.567" stop-color="#555555"/><stop offset="0.646" stop-color="#555555"/><stop offset="0.713" stop-color="#555555"/><stop offset="0.762" stop-color="#555555"/><stop offset="0.817" stop-color="#555555"/><stop offset="0.872" stop-color="#555555"/><stop offset="0.921" stop-color="#575757"/><stop offset="0.951" stop-color="#626262"/><stop offset="0.963" stop-color="#6c6c6c"/><stop offset="0.970" stop-color="#959595"/><stop offset="0.976" stop-color="#9b9b9b"/><stop offset="0.982" stop-color="#a4a4a4"/><stop offset="0.988" stop-color="#aaaaaa"/><stop offset="1.000" stop-color="#aeaeae"/></linearGradient>
<linearGradient id="g69" x1="0" y1="0" x2="0" y2="1"><stop offset="0.000" stop-color="#484848"/><stop offset="0.006" stop-color="#555555"/><stop offset="0.012" stop-color="#555555"/><stop offset="0.018" stop-color="#555555"/><stop offset="0.030" stop-color="#555555"/><stop offset="0.104" stop-color="#555555"/><stop offset="0.152" stop-color="#555555"/><stop offset="0.189" stop-color="#555555"/><stop offset="0.226" stop-color="#555555"/><stop offset="0.256" stop-color="#555555"/><stop offset="0.317" stop-color="#555555"/><stop offset="0.378" stop-color="#555555"/><stop offset="0.457" stop-color="#555555"/><stop offset="0.494" stop-color="#555555"/><stop offset="0.530" stop-color="#555555"/><stop offset="0.567" stop-color="#555555"/><stop offset="0.646" stop-color="#555555"/><stop offset="0.713" stop-color="#555555"/><stop offset="0.762" stop-color="#555555"/><stop offset="0.817" stop-color="#555555"/><stop offset="0.872" stop-color="#555555"/><stop offset="0.921" stop-color="#555555"/><stop offset="0.951" stop-color="#5b5b5b"/><stop offset="0.963" stop-color="#646464"/><stop offset="0.970" stop-color="#8e8e8e"/><stop offset="0.976" stop-color="#959595"/><stop offset="0.982" stop-color="#9d9d9d"/><stop offset="0.988" stop-color="#a6a6a6"/><stop offset="1.000" stop-color="#aaaaaa"/></linearGradient>
<linearGradient id="g70" x1="0" y1="0" x2="0" y2="1"><stop offset="0.000" stop-color="#484848"/><stop offset="0.006" stop-color="#555555"/><stop offset="0.012" stop-color="#555555"/><stop offset="0.018" stop-color="#555555"/><stop offset="0.030" stop-color="#555555"/><stop offset="0.104" stop-color="#555555"/><stop offset="0.152" stop-color="#555555"/><stop offset="0.189" stop-color="#555555"/><stop offset="0.226" stop-color="#555555"/><stop offset="0.256" stop-color="#555555"/><stop offset="0.317" stop-color="#555555"/><stop offset="0.378" stop-color="#555555"/><stop offset="0.457" stop-color="#555555"/><stop offset="0.494" stop-color="#555555"/><stop offset="0.530" stop-color="#555555"/><stop offset="0.567" stop-color="#555555"/><stop offset="0.646" stop-color="#555555"/><stop offset="0.713" stop-color="#555555"/><stop offset="0.762" stop-color="#555555"/><stop offset="0.817" stop-color="#555555"/><stop offset="0.872" stop-color="#555555"/><stop offset="0.921" stop-color="#555555"/><stop offset="0.951" stop-color="#555555"/><stop offset="0.963" stop-color="#5e5e5e"/><stop offset="0.970" stop-color="#888888"/><stop offset="0.976" stop-color="#8e8e8e"/><stop offset="0.982" stop-color="#979797"/><stop offset="0.988" stop-color="#9f9f9f"/><stop offset="1.000" stop-color="#a4a4a4"/></linearGradient>
<linearGradient id="g71" x1="0" y1="0" x2="0" y2="1"><stop offset="0.000" stop-color="#484848"/><stop offset="0.006" stop-color="#555555"/><stop offset="0.012" stop-color="#555555"/><stop offset="0.018" stop-color="#555555"/><stop offset="0.030" stop-color="#555555"/><stop offset="0.104" stop-color="#555555"/><stop offset="0.152" stop-color="#555555"/><stop offset="0.189" stop-color="#555555"/><stop offset="0.226" stop-color="#555555"/><stop offset="0.256" stop-color="#555555"/><stop offset="0.317" stop-color="#555555"/><stop offset="0.378" stop-color="#555555"/><stop offset="0.457" stop-color="#555555"/><stop offset="0.494" stop-color="#555555"/><stop offset="0.530" stop-color="#555555"/><stop offset="0.567" stop-color="#555555"/><stop offset="0.646" stop-color="#555555"/><stop offset="0.713" stop-color="#555555"/><stop offset="0.762" stop-color="#555555"/><stop offset="0.817" stop-color="#555555"/><stop offset="0.872" stop-color="#555555"/><stop offset="0.921" stop-color="#555555"/><stop offset="0.951" stop-color="#555555"/><stop offset="0.963" stop-color="#555555"/><stop offset="0.970" stop-color="#848484"/><stop offset="0.976" stop-color="#8a8a8a"/><stop offset="0.982" stop-color="#939393"/><stop offset="0.988" stop-color="#999999"/><stop offset="1.000" stop-color="#9d9d9d"/></linearGradient>
<linearGradient id="g72" x1="0" y1="0" x2="0" y2="1"><stop offset="0.000" stop-color="#484848"/><stop offset="0.006" stop-color="#555555"/><stop offset="0.012" stop-color="#555555"/><stop offset="0.018" stop-color="#555555"/><stop offset="0.030" stop-color="#555555"/><stop offset="0.104" stop-color="#555555"/><stop offset="0.152" stop-color="#555555"/><stop offset="0.189" stop-color="#555555"/><stop offset="0.226" stop-color="#555555"/><stop offset="0.256" stop-color="#555555"/><stop offset="0.317" stop-color="#555555"/><stop offset="0.378" stop-color="#555555"/><stop offset="0.457" stop-color="#555555"/><stop offset="0.494" stop-color="#555555"/><stop offset="0.530" stop-color="#555555"/><stop offset="0.567" stop-color="#555555"/><stop offset="0.646" stop-color="#555555"/><stop offset="0.713" stop-color="#555555"/><stop offset="0.762" stop-color="#555555"/><stop offset="0.817" stop-color="#555555"/><stop offset="0.872" stop-color="#555555"/><stop offset="0.921" stop-color="#555555"/><stop offset="0.951" stop-color="#555555"/><stop offset="0.963" stop-color="#555555"/><stop offset="0.970" stop-color="#7d7d7d"/><stop offset="0.976" stop-color="#848484"/><stop offset="0.982" stop-color="#8c8c8c"/><stop offset="0.988" stop-color="#959595"/><stop offset="1.000" stop-color="#999999"/></linearGradient>
</defs>
<filter id="pal" filterUnits="userSpaceOnUse" x="58" y="30" width="800" height="515" color-interpolation-filters="sRGB"><feTurbulence type="fractalNoise" baseFrequency="0.65 0.55" numOctaves="2" seed="4" result="t"/><feColorMatrix in="t" type="matrix" values="1 0 0 0 0  1 0 0 0 0  1 0 0 0 0  0 0 0 0 1" result="n"/><feComposite in="SourceGraphic" in2="n" operator="arithmetic" k1="0.13" k2="0.935" k3="0" k4="0" result="m"/><feComponentTransfer in="m"><feFuncR type="table" tableValues="0.000 0.000 0.000 0.000 0.000 0.000 0.000 0.000 0.000 0.000 0.000 0.000 0.000 0.000 0.000 0.000 0.008 0.031 0.051 0.075 0.094 0.118 0.137 0.161 0.180 0.204 0.224 0.247 0.267 0.286 0.310 0.329 0.349 0.369 0.392 0.412 0.431 0.451 0.471 0.490 0.506 0.525 0.545 0.565 0.580 0.600 0.616 0.631 0.651 0.667 0.682 0.698 0.714 0.729 0.745 0.757 0.773 0.784 0.800 0.812 0.824 0.835 0.847 0.859 0.871 0.882 0.890 0.902 0.910 0.918 0.925 0.933 0.941 0.949 0.957 0.961 0.969 0.973 0.976 0.984 0.988 0.988 0.992 0.996 0.996 1.000 1.000 1.000 1.000 1.000 1.000 1.000 1.000 1.000 1.000 1.000 1.000 1.000 1.000 1.000 1.000 1.000 1.000 1.000 1.000 1.000 1.000 1.000 1.000 1.000 1.000 1.000 1.000 1.000 1.000 1.000 1.000 1.000 1.000 1.000 1.000"/><feFuncG type="table" tableValues="0.000 0.000 0.000 0.000 0.000 0.000 0.000 0.000 0.000 0.000 0.000 0.000 0.000 0.000 0.000 0.000 0.000 0.000 0.000 0.000 0.000 0.000 0.000 0.000 0.000 0.000 0.000 0.000 0.000 0.000 0.000 0.000 0.000 0.000 0.000 0.000 0.000 0.000 0.000 0.000 0.000 0.000 0.000 0.000 0.000 0.000 0.000 0.000 0.000 0.000 0.000 0.000 0.000 0.000 0.000 0.000 0.000 0.000 0.000 0.000 0.000 0.000 0.000 0.000 0.000 0.000 0.000 0.000 0.000 0.000 0.000 0.000 0.000 0.043 0.086 0.125 0.169 0.208 0.251 0.290 0.333 0.373 0.412 0.447 0.486 0.522 0.557 0.592 0.624 0.659 0.690 0.718 0.749 0.776 0.800 0.827 0.847 0.871 0.890 0.910 0.925 0.941 0.953 0.965 0.976 0.984 0.992 0.996 1.000 1.000 1.000 1.000 1.000 1.000 1.000 1.000 1.000 1.000 1.000 1.000 1.000"/><feFuncB type="table" tableValues="0.000 0.024 0.043 0.067 0.086 0.110 0.129 0.149 0.173 0.192 0.212 0.231 0.251 0.271 0.286 0.306 0.322 0.337 0.353 0.369 0.384 0.396 0.408 0.424 0.431 0.443 0.455 0.463 0.471 0.478 0.482 0.486 0.494 0.494 0.498 0.498 0.502 0.498 0.498 0.494 0.494 0.486 0.482 0.478 0.471 0.463 0.455 0.443 0.431 0.424 0.408 0.396 0.384 0.369 0.353 0.337 0.322 0.306 0.286 0.271 0.251 0.231 0.212 0.192 0.173 0.149 0.129 0.110 0.086 0.067 0.043 0.024 0.000 0.000 0.000 0.000 0.000 0.000 0.000 0.000 0.000 0.000 0.000 0.000 0.000 0.000 0.000 0.000 0.000 0.000 0.000 0.000 0.000 0.000 0.016 0.055 0.090 0.129 0.165 0.204 0.243 0.278 0.318 0.357 0.392 0.431 0.471 0.506 0.545 0.584 0.620 0.659 0.698 0.733 0.773 0.812 0.847 0.886 0.925 0.961 1.000"/></feComponentTransfer></filter>
<g filter="url(#pal)">
<rect x="58" y="30" width="800" height="515" fill="#000"/>
<path fill="#515151" d="M64 30h2v93h-2zM129 30h2v93h-2zM188 30h1v93h-1zM310 30h2v93h-2zM357 30h1v93h-1zM392 30h2v93h-2zM430 30h1v93h-1zM449 30h1v93h-1zM487 30h1v93h-1zM503 30h1v93h-1zM512 30h1v93h-1zM532 30h1v93h-1zM548 30h1v93h-1zM591 30h1v93h-1zM617 30h1v93h-1zM623 30h1v93h-1zM700 30h1v93h-1zM717 30h1v93h-1zM720 30h2v93h-2zM763 30h1v93h-1zM779 30h2v93h-2z"/>
<path fill="#4f4f4f" d="M66 30h1v93h-1zM68 30h1v93h-1zM128 30h1v93h-1zM131 30h1v93h-1zM228 30h1v93h-1zM315 30h1v93h-1zM428 30h1v93h-1zM485 30h1v93h-1zM504 30h1v93h-1zM511 30h1v93h-1zM515 30h1v93h-1zM533 30h1v93h-1zM549 30h1v93h-1zM622 30h1v93h-1zM646 30h1v93h-1zM711 30h1v93h-1zM735 30h1v93h-1zM800 30h1v93h-1z"/>
<path fill="#4d4d4d" d="M67 30h1v93h-1zM186 30h1v93h-1zM189 30h1v93h-1zM204 30h1v93h-1zM313 30h2v93h-2zM358 30h2v93h-2zM429 30h1v93h-1zM455 30h1v93h-1zM598 30h1v93h-1zM640 30h2v93h-2zM762 30h1v93h-1zM810 30h1v93h-1z"/>
<path fill="#404040" d="M70 30h1v93h-1zM154 30h1v93h-1zM163 30h1v93h-1zM167 30h1v93h-1zM293 30h2v93h-2zM402 30h1v93h-1z"/>
<path fill="#424242" d="M71 30h1v93h-1zM87 30h1v93h-1zM93 30h1v93h-1zM168 30h1v93h-1zM295 30h1v93h-1zM317 30h1v93h-1z"/>
<path fill="#444444" d="M72 30h1v93h-1zM92 30h1v93h-1zM111 30h2v93h-2zM114 30h1v93h-1zM124 30h1v93h-1zM172 30h1v93h-1zM316 30h1v93h-1zM391 30h1v93h-1zM407 30h1v93h-1zM499 30h1v93h-1z"/>
<path fill="#3b3b3b" d="M73 30h1v93h-1zM155 30h1v93h-1zM158 30h1v93h-1zM437 30h1v93h-1zM492 30h1v93h-1zM494 30h1v93h-1zM600 30h1v93h-1zM686 30h1v93h-1zM701 30h1v93h-1zM833 30h1v93h-1z"/>
<path fill="#5b5b5b" d="M74 30h2v93h-2zM83 30h1v93h-1zM89 30h1v93h-1zM99 30h1v93h-1zM194 30h2v93h-2zM201 30h1v93h-1zM203 30h1v93h-1zM219 30h1v93h-1zM229 30h1v93h-1zM239 30h1v93h-1zM247 30h1v93h-1zM263 30h1v93h-1zM286 30h2v93h-2zM299 30h1v93h-1zM419 30h1v93h-1zM441 30h1v93h-1zM497 30h1v93h-1zM502 30h1v93h-1zM519 30h3v93h-3zM525 30h1v93h-1zM540 30h2v93h-2zM543 30h1v93h-1zM547 30h1v93h-1zM552 30h1v93h-1zM560 30h1v93h-1zM577 30h1v93h-1zM580 30h1v93h-1zM583 30h1v93h-1zM585 30h1v93h-1zM625 30h1v93h-1zM628 30h1v93h-1zM634 30h1v93h-1zM637 30h1v93h-1zM643 30h2v93h-2zM657 30h1v93h-1zM688 30h1v93h-1zM692 30h1v93h-1zM694 30h1v93h-1zM703 30h2v93h-2zM723 30h1v93h-1zM725 30h1v93h-1zM731 30h1v93h-1zM742 30h1v93h-1zM750 30h1v93h-1zM752 30h1v93h-1zM796 30h2v93h-2zM799 30h1v93h-1zM804 30h4v93h-4zM822 30h1v93h-1z"/>
<path fill="#595959" d="M76 30h2v93h-2zM91 30h1v93h-1zM96 30h2v93h-2zM101 30h2v93h-2zM108 30h1v93h-1zM149 30h1v93h-1zM184 30h1v93h-1zM202 30h1v93h-1zM262 30h1v93h-1zM318 30h1v93h-1zM328 30h1v93h-1zM330 30h1v93h-1zM347 30h1v93h-1zM377 30h1v93h-1zM442 30h2v93h-2zM475 30h1v93h-1zM488 30h1v93h-1zM490 30h1v93h-1zM507 30h1v93h-1zM522 30h1v93h-1zM524 30h1v93h-1zM544 30h3v93h-3zM550 30h1v93h-1zM558 30h1v93h-1zM578 30h2v93h-2zM588 30h1v93h-1zM594 30h2v93h-2zM609 30h2v93h-2zM635 30h2v93h-2zM652 30h5v93h-5zM691 30h1v93h-1zM726 30h3v93h-3zM733 30h1v93h-1zM739 30h1v93h-1zM741 30h1v93h-1zM786 30h3v93h-3zM791 30h1v93h-1zM793 30h1v93h-1zM823 30h3v93h-3z"/>
<path fill="#575757" d="M78 30h2v93h-2zM81 30h1v93h-1zM90 30h1v93h-1zM95 30h1v93h-1zM100 30h1v93h-1zM107 30h1v93h-1zM150 30h1v93h-1zM170 30h1v93h-1zM190 30h1v93h-1zM193 30h1v93h-1zM245 30h2v93h-2zM274 30h2v93h-2zM296 30h1v93h-1zM305 30h1v93h-1zM319 30h1v93h-1zM329 30h1v93h-1zM331 30h1v93h-1zM344 30h1v93h-1zM378 30h1v93h-1zM440 30h1v93h-1zM450 30h1v93h-1zM476 30h2v93h-2zM481 30h1v93h-1zM483 30h1v93h-1zM505 30h2v93h-2zM534 30h1v93h-1zM557 30h1v93h-1zM584 30h1v93h-1zM586 30h1v93h-1zM592 30h1v93h-1zM620 30h1v93h-1zM624 30h1v93h-1zM629 30h1v93h-1zM633 30h1v93h-1zM642 30h1v93h-1zM645 30h1v93h-1zM659 30h1v93h-1zM680 30h1v93h-1zM693 30h1v93h-1zM695 30h2v93h-2zM715 30h1v93h-1zM719 30h1v93h-1zM729 30h1v93h-1zM737 30h1v93h-1zM740 30h1v93h-1zM781 30h2v93h-2zM785 30h1v93h-1zM789 30h1v93h-1zM792 30h1v93h-1zM794 30h1v93h-1zM801 30h1v93h-1zM803 30h1v93h-1zM826 30h1v93h-1z"/>
<path fill="#5e5e5e" d="M80 30h1v93h-1zM127 30h1v93h-1zM222 30h2v93h-2zM230 30h1v93h-1zM237 30h2v93h-2zM248 30h1v93h-1zM264 30h2v93h-2zM288 30h1v93h-1zM324 30h2v93h-2zM327 30h1v93h-1zM345 30h2v93h-2zM350 30h1v93h-1zM356 30h1v93h-1zM362 30h1v93h-1zM418 30h1v93h-1zM420 30h1v93h-1zM496 30h1v93h-1zM518 30h1v93h-1zM542 30h1v93h-1zM551 30h1v93h-1zM587 30h1v93h-1zM596 30h2v93h-2zM626 30h2v93h-2zM632 30h1v93h-1zM650 30h2v93h-2zM689 30h2v93h-2zM713 30h1v93h-1zM730 30h1v93h-1zM732 30h1v93h-1zM736 30h1v93h-1zM738 30h1v93h-1zM751 30h1v93h-1zM755 30h1v93h-1zM790 30h1v93h-1zM798 30h1v93h-1zM808 30h1v93h-1z"/>
<path fill="#555555" d="M82 30h1v93h-1zM94 30h1v93h-1zM109 30h2v93h-2zM151 30h1v93h-1zM182 30h2v93h-2zM261 30h1v93h-1zM276 30h1v93h-1zM297 30h2v93h-2zM306 30h1v93h-1zM448 30h1v93h-1zM463 30h1v93h-1zM479 30h1v93h-1zM482 30h1v93h-1zM486 30h1v93h-1zM489 30h1v93h-1zM517 30h1v93h-1zM535 30h2v93h-2zM556 30h1v93h-1zM568 30h2v93h-2zM593 30h1v93h-1zM612 30h2v93h-2zM621 30h1v93h-1zM631 30h1v93h-1zM682 30h2v93h-2zM698 30h2v93h-2zM716 30h1v93h-1zM718 30h1v93h-1zM761 30h1v93h-1zM778 30h1v93h-1zM784 30h1v93h-1zM828 30h1v93h-1z"/>
<path fill="#646464" d="M84 30h1v93h-1zM116 30h1v93h-1zM197 30h1v93h-1zM207 30h1v93h-1zM215 30h1v93h-1zM217 30h2v93h-2zM224 30h1v93h-1zM226 30h1v93h-1zM235 30h1v93h-1zM249 30h1v93h-1zM254 30h1v93h-1zM284 30h2v93h-2zM290 30h1v93h-1zM303 30h1v93h-1zM308 30h1v93h-1zM326 30h1v93h-1zM333 30h1v93h-1zM335 30h1v93h-1zM375 30h1v93h-1zM566 30h1v93h-1zM571 30h3v93h-3zM582 30h1v93h-1zM602 30h2v93h-2zM607 30h1v93h-1zM673 30h1v93h-1zM675 30h1v93h-1zM749 30h1v93h-1zM759 30h1v93h-1zM771 30h1v93h-1zM812 30h1v93h-1z"/>
<path fill="#464646" d="M85 30h2v93h-2zM122 30h2v93h-2zM126 30h1v93h-1zM166 30h1v93h-1zM452 30h1v93h-1zM599 30h1v93h-1zM666 30h1v93h-1zM706 30h1v93h-1zM722 30h1v93h-1zM743 30h1v93h-1zM831 30h1v93h-1z"/>
<path fill="#4a4a4a" d="M88 30h1v93h-1zM115 30h1v93h-1zM133 30h2v93h-2zM312 30h1v93h-1zM458 30h1v93h-1zM614 30h1v93h-1zM708 30h1v93h-1z"/>
<path fill="#626262" d="M98 30h1v93h-1zM200 30h1v93h-1zM208 30h2v93h-2zM213 30h1v93h-1zM216 30h1v93h-1zM225 30h1v93h-1zM233 30h2v93h-2zM241 30h4v93h-4zM289 30h1v93h-1zM292 30h1v93h-1zM332 30h1v93h-1zM334 30h1v93h-1zM338 30h1v93h-1zM374 30h1v93h-1zM376 30h1v93h-1zM381 30h1v93h-1zM523 30h1v93h-1zM604 30h2v93h-2zM663 30h1v93h-1zM671 30h1v93h-1zM744 30h1v93h-1zM748 30h1v93h-1zM795 30h1v93h-1zM819 30h1v93h-1z"/>
<path fill="#262626" d="M103 30h1v93h-1zM146 30h1v93h-1zM179 30h3v93h-3z"/>
<path fill="#333333" d="M104 30h2v93h-2zM135 30h1v93h-1zM157 30h1v93h-1zM414 30h1v93h-1z"/>
<path fill="#3e3e3e" d="M113 30h1v93h-1zM164 30h1v93h-1zM426 30h1v93h-1zM495 30h1v93h-1zM513 30h1v93h-1zM601 30h1v93h-1zM638 30h1v93h-1zM676 30h1v93h-1zM685 30h1v93h-1zM687 30h1v93h-1z"/>
<path fill="#606060" d="M117 30h3v93h-3zM198 30h2v93h-2zM205 30h2v93h-2zM211 30h1v93h-1zM214 30h1v93h-1zM220 30h2v93h-2zM227 30h1v93h-1zM231 30h2v93h-2zM236 30h1v93h-1zM252 30h2v93h-2zM255 30h3v93h-3zM291 30h1v93h-1zM300 30h1v93h-1zM309 30h1v93h-1zM336 30h2v93h-2zM339 30h1v93h-1zM348 30h2v93h-2zM360 30h2v93h-2zM363 30h1v93h-1zM365 30h2v93h-2zM379 30h2v93h-2zM382 30h1v93h-1zM417 30h1v93h-1zM478 30h1v93h-1zM501 30h1v93h-1zM508 30h1v93h-1zM537 30h3v93h-3zM559 30h1v93h-1zM570 30h1v93h-1zM648 30h2v93h-2zM702 30h1v93h-1zM714 30h1v93h-1zM724 30h1v93h-1zM747 30h1v93h-1zM753 30h2v93h-2zM811 30h1v93h-1z"/>
<path fill="#2a2a2a" d="M120 30h2v93h-2zM142 30h1v93h-1z"/>
<path fill="#484848" d="M125 30h1v93h-1zM132 30h1v93h-1zM185 30h1v93h-1zM396 30h1v93h-1zM453 30h2v93h-2zM457 30h1v93h-1zM498 30h1v93h-1zM500 30h1v93h-1zM589 30h2v93h-2zM664 30h2v93h-2zM705 30h1v93h-1zM707 30h1v93h-1zM832 30h1v93h-1z"/>
<path fill="#393939" d="M136 30h1v93h-1zM138 30h1v93h-1zM153 30h1v93h-1zM156 30h1v93h-1zM161 30h1v93h-1zM514 30h1v93h-1z"/>
<path fill="#373737" d="M137 30h1v93h-1zM139 30h1v93h-1zM152 30h1v93h-1zM175 30h1v93h-1z"/>
<path fill="#282828" d="M144 30h2v93h-2zM432 30h1v93h-1z"/>
<path fill="#131313" d="M147 30h2v93h-2z"/>
<path fill="#353535" d="M160 30h1v93h-1zM162 30h1v93h-1z"/>
<path fill="#535353" d="M165 30h1v93h-1zM171 30h1v93h-1zM191 30h2v93h-2zM304 30h1v93h-1zM405 30h2v93h-2zM408 30h1v93h-1zM464 30h1v93h-1zM480 30h1v93h-1zM510 30h1v93h-1zM516 30h1v93h-1zM567 30h1v93h-1zM575 30h2v93h-2zM608 30h1v93h-1zM611 30h1v93h-1zM616 30h1v93h-1zM618 30h2v93h-2zM630 30h1v93h-1zM639 30h1v93h-1zM647 30h1v93h-1zM658 30h1v93h-1zM679 30h1v93h-1zM681 30h1v93h-1zM684 30h1v93h-1zM697 30h1v93h-1zM709 30h2v93h-2zM712 30h1v93h-1zM734 30h1v93h-1zM783 30h1v93h-1zM802 30h1v93h-1zM809 30h1v93h-1zM827 30h1v93h-1zM829 30h2v93h-2z"/>
<path fill="#666666" d="M196 30h1v93h-1zM210 30h1v93h-1zM240 30h1v93h-1zM260 30h1v93h-1zM277 30h2v93h-2zM301 30h2v93h-2zM307 30h1v93h-1zM343 30h1v93h-1zM364 30h1v93h-1zM484 30h1v93h-1zM527 30h1v93h-1zM529 30h3v93h-3zM553 30h2v93h-2zM561 30h1v93h-1zM563 30h1v93h-1zM581 30h1v93h-1zM606 30h1v93h-1zM662 30h1v93h-1zM670 30h1v93h-1zM745 30h2v93h-2zM764 30h1v93h-1zM768 30h1v93h-1zM770 30h1v93h-1zM776 30h1v93h-1zM820 30h1v93h-1z"/>
<path fill="#686868" d="M212 30h1v93h-1zM259 30h1v93h-1zM371 30h3v93h-3zM383 30h2v93h-2zM528 30h1v93h-1zM555 30h1v93h-1zM661 30h1v93h-1zM669 30h1v93h-1zM674 30h1v93h-1zM756 30h1v93h-1zM758 30h1v93h-1zM760 30h1v93h-1zM765 30h2v93h-2zM772 30h1v93h-1zM813 30h1v93h-1zM817 30h1v93h-1zM821 30h1v93h-1z"/>
<path fill="#6e6e6e" d="M250 30h1v93h-1zM268 30h1v93h-1zM282 30h1v93h-1zM321 30h1v93h-1zM342 30h1v93h-1zM367 30h1v93h-1zM369 30h2v93h-2zM385 30h3v93h-3zM389 30h1v93h-1z"/>
<path fill="#6c6c6c" d="M251 30h1v93h-1zM267 30h1v93h-1zM269 30h2v93h-2zM273 30h1v93h-1zM279 30h3v93h-3zM283 30h1v93h-1zM322 30h2v93h-2zM341 30h1v93h-1zM355 30h1v93h-1zM368 30h1v93h-1zM390 30h1v93h-1zM562 30h1v93h-1zM769 30h1v93h-1zM816 30h1v93h-1z"/>
<path fill="#6a6a6a" d="M258 30h1v93h-1zM266 30h1v93h-1zM271 30h2v93h-2zM320 30h1v93h-1zM340 30h1v93h-1zM351 30h3v93h-3zM526 30h1v93h-1zM564 30h2v93h-2zM574 30h1v93h-1zM660 30h1v93h-1zM672 30h1v93h-1zM757 30h1v93h-1zM767 30h1v93h-1zM773 30h3v93h-3zM777 30h1v93h-1zM814 30h2v93h-2zM818 30h1v93h-1z"/>
<path fill="#717171" d="M354 30h1v93h-1zM388 30h1v93h-1z"/>
<path fill="#151515" d="M491 30h1v93h-1zM615 30h1v93h-1zM677 30h2v93h-2zM834 30h2v93h-2z"/>
<path fill="#2f2f2f" d="M667 30h1v93h-1z"/>
<path fill="#2d2d2d" d="M668 30h1v93h-1z"/>
<path fill="#191919" d="M69 120h1v3h-1zM106 120h1v3h-1zM140 120h2v3h-2zM143 120h1v3h-1zM159 120h1v3h-1zM169 120h1v3h-1zM173 120h2v3h-2zM176 120h3v3h-3zM187 120h1v3h-1zM394 120h2v3h-2zM397 120h5v3h-5zM403 120h2v3h-2zM409 120h5v3h-5zM415 120h2v3h-2zM421 120h5v3h-5zM427 120h1v3h-1zM431 120h1v3h-1zM433 120h4v3h-4zM438 120h2v3h-2zM444 120h4v3h-4zM451 120h1v3h-1zM456 120h1v3h-1zM459 120h4v3h-4zM465 120h10v3h-10zM493 120h1v3h-1zM509 120h1v3h-1z"/>
<path fill="url(#g0)" d="M58 123h1v164h-1z"/>
<path fill="url(#g1)" d="M59 123h1v164h-1z"/>
<path fill="url(#g2)" d="M60 123h1v164h-1z"/>
<path fill="url(#g3)" d="M61 123h1v164h-1z"/>
<path fill="url(#g4)" d="M62 123h1v164h-1z"/>
<path fill="url(#g5)" d="M63 123h1v164h-1zM69 123h1v164h-1z"/>
<path fill="url(#g6)" d="M64 123h1v164h-1zM78 123h2v164h-2zM88 123h1v164h-1zM95 123h1v164h-1zM97 123h1v164h-1z"/>
<path fill="url(#g7)" d="M65 123h4v164h-4zM73 123h1v164h-1zM81 123h2v164h-2zM85 123h2v164h-2zM94 123h1v164h-1z"/>
<path fill="url(#g8)" d="M70 123h2v164h-2zM87 123h1v164h-1zM93 123h1v164h-1z"/>
<path fill="url(#g9)" d="M72 123h1v164h-1zM92 123h1v164h-1z"/>
<path fill="url(#g10)" d="M74 123h4v164h-4zM83 123h2v164h-2zM90 123h2v164h-2zM96 123h1v164h-1zM98 123h2v164h-2z"/>
<path fill="url(#g11)" d="M80 123h1v164h-1zM89 123h1v164h-1z"/>
<path fill="url(#g12)" d="M100 123h2v164h-2zM107 123h1v164h-1zM115 123h1v164h-1zM117 123h2v164h-2zM123 123h1v164h-1zM125 123h1v164h-1zM129 123h2v164h-2zM196 123h1v164h-1zM207 123h1v164h-1zM209 123h2v164h-2zM215 123h1v164h-1zM217 123h1v164h-1zM226 123h1v164h-1zM235 123h1v164h-1zM240 123h1v164h-1zM249 123h3v164h-3zM268 123h2v164h-2zM272 123h2v164h-2zM279 123h2v164h-2zM283 123h1v164h-1zM285 123h1v164h-1zM290 123h1v164h-1zM307 123h1v164h-1zM323 123h1v164h-1zM333 123h1v164h-1zM335 123h1v164h-1zM341 123h2v164h-2zM345 123h1v164h-1zM354 123h2v164h-2zM364 123h1v164h-1zM367 123h2v164h-2zM375 123h1v164h-1zM385 123h1v164h-1zM388 123h3v164h-3z"/>
<path fill="url(#g13)" d="M102 123h1v164h-1zM108 123h1v164h-1zM119 123h1v164h-1zM127 123h1v164h-1zM282 123h1v164h-1zM301 123h2v164h-2zM321 123h2v164h-2zM369 123h2v164h-2zM387 123h1v164h-1z"/>
<path fill="url(#g14)" d="M103 123h1v164h-1zM132 123h3v164h-3zM137 123h1v164h-1zM143 123h1v164h-1zM151 123h1v164h-1zM153 123h1v164h-1zM155 123h1v164h-1zM158 123h1v164h-1zM166 123h1v164h-1zM174 123h1v164h-1zM182 123h2v164h-2zM189 123h1v164h-1zM193 123h1v164h-1zM201 123h3v164h-3zM212 123h1v164h-1zM219 123h1v164h-1zM227 123h1v164h-1zM229 123h1v164h-1zM232 123h1v164h-1zM237 123h1v164h-1zM247 123h1v164h-1zM275 123h1v164h-1zM278 123h1v164h-1zM287 123h2v164h-2zM291 123h1v164h-1zM296 123h1v164h-1zM298 123h2v164h-2zM305 123h2v164h-2zM310 123h1v164h-1zM315 123h2v164h-2zM319 123h1v164h-1zM324 123h1v164h-1zM327 123h1v164h-1zM329 123h1v164h-1zM337 123h1v164h-1zM339 123h1v164h-1zM350 123h1v164h-1zM356 123h1v164h-1zM362 123h1v164h-1zM392 123h1v164h-1z"/>
<path fill="url(#g15)" d="M104 123h3v164h-3zM113 123h1v164h-1zM135 123h1v164h-1zM140 123h2v164h-2zM149 123h1v164h-1zM152 123h1v164h-1zM156 123h1v164h-1zM159 123h1v164h-1zM161 123h1v164h-1zM168 123h1v164h-1zM171 123h1v164h-1zM175 123h1v164h-1zM178 123h1v164h-1zM187 123h1v164h-1zM191 123h1v164h-1zM204 123h1v164h-1zM228 123h1v164h-1zM261 123h1v164h-1zM263 123h1v164h-1zM276 123h1v164h-1zM293 123h2v164h-2zM297 123h1v164h-1zM304 123h1v164h-1zM312 123h3v164h-3zM317 123h1v164h-1zM358 123h2v164h-2z"/>
<path fill="url(#g16)" d="M109 123h3v164h-3zM120 123h2v164h-2zM128 123h1v164h-1zM131 123h1v164h-1zM163 123h3v164h-3zM184 123h1v164h-1zM186 123h1v164h-1zM194 123h2v164h-2zM197 123h2v164h-2zM208 123h1v164h-1zM213 123h1v164h-1zM216 123h1v164h-1zM218 123h1v164h-1zM224 123h2v164h-2zM231 123h1v164h-1zM233 123h2v164h-2zM239 123h1v164h-1zM241 123h4v164h-4zM253 123h2v164h-2zM256 123h5v164h-5zM266 123h2v164h-2zM270 123h2v164h-2zM281 123h1v164h-1zM284 123h1v164h-1zM289 123h1v164h-1zM292 123h1v164h-1zM300 123h1v164h-1zM303 123h1v164h-1zM308 123h1v164h-1zM320 123h1v164h-1zM332 123h1v164h-1zM334 123h1v164h-1zM338 123h1v164h-1zM340 123h1v164h-1zM346 123h1v164h-1zM351 123h1v164h-1zM353 123h1v164h-1zM366 123h1v164h-1zM373 123h2v164h-2zM376 123h1v164h-1zM380 123h2v164h-2zM383 123h2v164h-2z"/>
<path fill="url(#g17)" d="M112 123h1v164h-1zM114 123h1v164h-1zM122 123h1v164h-1zM124 123h1v164h-1zM126 123h1v164h-1zM136 123h1v164h-1zM138 123h2v164h-2zM142 123h1v164h-1zM150 123h1v164h-1zM154 123h1v164h-1zM170 123h1v164h-1zM185 123h1v164h-1zM188 123h1v164h-1zM190 123h1v164h-1zM199 123h2v164h-2zM205 123h2v164h-2zM211 123h1v164h-1zM214 123h1v164h-1zM220 123h4v164h-4zM230 123h1v164h-1zM236 123h1v164h-1zM238 123h1v164h-1zM245 123h2v164h-2zM248 123h1v164h-1zM252 123h1v164h-1zM255 123h1v164h-1zM262 123h1v164h-1zM264 123h2v164h-2zM274 123h1v164h-1zM277 123h1v164h-1zM286 123h1v164h-1zM309 123h1v164h-1zM311 123h1v164h-1zM318 123h1v164h-1zM325 123h2v164h-2zM328 123h1v164h-1zM330 123h2v164h-2zM336 123h1v164h-1zM343 123h2v164h-2zM347 123h3v164h-3zM352 123h1v164h-1zM357 123h1v164h-1zM360 123h2v164h-2zM363 123h1v164h-1zM365 123h1v164h-1zM371 123h2v164h-2zM377 123h3v164h-3zM382 123h1v164h-1zM391 123h1v164h-1z"/>
<path fill="url(#g18)" d="M116 123h1v164h-1zM386 123h1v164h-1z"/>
<path fill="url(#g19)" d="M144 123h1v164h-1zM176 123h1v164h-1z"/>
<path fill="url(#g20)" d="M145 123h1v164h-1z"/>
<path fill="url(#g21)" d="M146 123h1v164h-1z"/>
<path fill="url(#g22)" d="M147 123h2v164h-2zM157 123h1v164h-1zM169 123h1v164h-1z"/>
<path fill="url(#g23)" d="M160 123h1v164h-1zM162 123h1v164h-1zM167 123h1v164h-1zM172 123h2v164h-2zM177 123h1v164h-1zM179 123h3v164h-3zM192 123h1v164h-1zM295 123h1v164h-1z"/>
<path fill="url(#g24)" d="M393 123h1v164h-1zM402 123h1v164h-1zM404 123h1v164h-1zM412 123h1v164h-1zM431 123h1v164h-1zM433 123h1v164h-1zM435 123h2v164h-2zM460 123h2v164h-2zM471 123h1v164h-1z"/>
<path fill="url(#g25)" d="M394 123h1v164h-1zM407 123h1v164h-1zM428 123h1v164h-1zM445 123h1v164h-1zM467 123h1v164h-1zM470 123h1v164h-1z"/>
<path fill="url(#g26)" d="M395 123h1v164h-1zM418 123h2v164h-2zM426 123h1v164h-1zM440 123h3v164h-3z"/>
<path fill="url(#g27)" d="M396 123h1v164h-1zM401 123h1v164h-1zM423 123h1v164h-1zM473 123h1v164h-1z"/>
<path fill="url(#g28)" d="M397 123h1v164h-1zM400 123h1v164h-1zM403 123h1v164h-1zM408 123h2v164h-2zM415 123h2v164h-2zM421 123h2v164h-2zM425 123h1v164h-1zM432 123h1v164h-1zM434 123h1v164h-1zM472 123h1v164h-1zM474 123h1v164h-1z"/>
<path fill="url(#g29)" d="M398 123h1v164h-1zM411 123h1v164h-1zM413 123h2v164h-2zM437 123h3v164h-3zM447 123h1v164h-1zM451 123h2v164h-2zM456 123h1v164h-1zM459 123h1v164h-1zM465 123h1v164h-1z"/>
<path fill="url(#g30)" d="M399 123h1v164h-1zM429 123h1v164h-1zM443 123h2v164h-2zM448 123h2v164h-2zM453 123h3v164h-3zM457 123h2v164h-2zM462 123h1v164h-1zM464 123h1v164h-1zM466 123h1v164h-1zM468 123h2v164h-2z"/>
<path fill="url(#g31)" d="M405 123h2v164h-2zM427 123h1v164h-1zM430 123h1v164h-1zM446 123h1v164h-1zM450 123h1v164h-1zM463 123h1v164h-1zM475 123h1v164h-1z"/>
<path fill="url(#g32)" d="M410 123h1v164h-1zM424 123h1v164h-1z"/>
<path fill="url(#g33)" d="M417 123h1v164h-1zM420 123h1v164h-1z"/>
<path fill="url(#g34)" d="M476 123h2v164h-2zM483 123h1v164h-1zM485 123h1v164h-1zM487 123h2v164h-2zM490 123h1v164h-1zM495 123h1v164h-1zM511 123h1v164h-1zM515 123h1v164h-1zM549 123h1v164h-1zM589 123h1v164h-1zM591 123h1v164h-1zM599 123h2v164h-2zM615 123h1v164h-1zM640 123h1v164h-1zM645 123h2v164h-2zM664 123h1v164h-1zM666 123h1v164h-1zM668 123h1v164h-1zM686 123h1v164h-1zM701 123h1v164h-1zM705 123h3v164h-3zM711 123h1v164h-1zM722 123h1v164h-1zM743 123h1v164h-1zM762 123h2v164h-2zM784 123h1v164h-1zM800 123h1v164h-1zM829 123h1v164h-1z"/>
<path fill="url(#g35)" d="M478 123h1v164h-1zM481 123h1v164h-1zM484 123h1v164h-1zM496 123h1v164h-1zM502 123h1v164h-1zM507 123h1v164h-1zM517 123h1v164h-1zM520 123h1v164h-1zM524 123h2v164h-2zM545 123h3v164h-3zM552 123h1v164h-1zM558 123h1v164h-1zM567 123h3v164h-3zM571 123h1v164h-1zM573 123h1v164h-1zM575 123h1v164h-1zM577 123h4v164h-4zM583 123h1v164h-1zM586 123h3v164h-3zM593 123h1v164h-1zM595 123h1v164h-1zM598 123h1v164h-1zM603 123h2v164h-2zM608 123h1v164h-1zM612 123h2v164h-2zM624 123h1v164h-1zM626 123h1v164h-1zM628 123h1v164h-1zM633 123h4v164h-4zM652 123h7v164h-7zM663 123h1v164h-1zM665 123h1v164h-1zM671 123h1v164h-1zM679 123h1v164h-1zM681 123h1v164h-1zM684 123h1v164h-1zM691 123h1v164h-1zM693 123h1v164h-1zM696 123h2v164h-2zM699 123h1v164h-1zM703 123h2v164h-2zM709 123h1v164h-1zM712 123h1v164h-1zM716 123h1v164h-1zM718 123h1v164h-1zM726 123h3v164h-3zM731 123h1v164h-1zM733 123h2v164h-2zM737 123h1v164h-1zM739 123h1v164h-1zM741 123h2v164h-2zM748 123h1v164h-1zM752 123h1v164h-1zM761 123h1v164h-1zM778 123h1v164h-1zM783 123h1v164h-1zM785 123h1v164h-1zM787 123h1v164h-1zM791 123h1v164h-1zM793 123h1v164h-1zM797 123h1v164h-1zM801 123h1v164h-1zM804 123h1v164h-1zM806 123h1v164h-1zM823 123h1v164h-1zM825 123h2v164h-2zM828 123h1v164h-1z"/>
<path fill="url(#g36)" d="M479 123h2v164h-2zM482 123h1v164h-1zM486 123h1v164h-1zM497 123h1v164h-1zM500 123h1v164h-1zM503 123h4v164h-4zM510 123h1v164h-1zM512 123h2v164h-2zM516 123h1v164h-1zM532 123h2v164h-2zM544 123h1v164h-1zM548 123h1v164h-1zM550 123h1v164h-1zM570 123h1v164h-1zM576 123h1v164h-1zM584 123h1v164h-1zM590 123h1v164h-1zM601 123h1v164h-1zM611 123h1v164h-1zM614 123h1v164h-1zM616 123h4v164h-4zM622 123h2v164h-2zM629 123h3v164h-3zM638 123h2v164h-2zM642 123h1v164h-1zM647 123h1v164h-1zM667 123h1v164h-1zM676 123h1v164h-1zM682 123h1v164h-1zM685 123h1v164h-1zM687 123h1v164h-1zM700 123h1v164h-1zM708 123h1v164h-1zM710 123h1v164h-1zM717 123h1v164h-1zM720 123h2v164h-2zM729 123h1v164h-1zM735 123h1v164h-1zM740 123h1v164h-1zM747 123h1v164h-1zM779 123h2v164h-2zM786 123h1v164h-1zM792 123h1v164h-1zM794 123h1v164h-1zM802 123h2v164h-2zM809 123h1v164h-1zM811 123h1v164h-1zM824 123h1v164h-1zM827 123h1v164h-1z"/>
<path fill="url(#g37)" d="M489 123h1v164h-1zM492 123h1v164h-1zM494 123h1v164h-1zM498 123h1v164h-1zM509 123h1v164h-1zM514 123h1v164h-1zM641 123h1v164h-1zM677 123h2v164h-2zM810 123h1v164h-1z"/>
<path fill="url(#g38)" d="M491 123h1v164h-1z"/>
<path fill="url(#g39)" d="M493 123h1v164h-1z"/>
<path fill="url(#g40)" d="M499 123h1v164h-1z"/>
<path fill="url(#g41)" d="M501 123h1v164h-1zM528 123h1v164h-1zM562 123h1v164h-1zM565 123h1v164h-1zM660 123h1v164h-1zM672 123h1v164h-1zM753 123h1v164h-1zM756 123h2v164h-2zM760 123h1v164h-1zM769 123h1v164h-1zM774 123h2v164h-2zM795 123h1v164h-1zM815 123h1v164h-1zM817 123h2v164h-2z"/>
<path fill="url(#g42)" d="M508 123h1v164h-1zM519 123h1v164h-1zM521 123h2v164h-2zM527 123h1v164h-1zM531 123h1v164h-1zM534 123h3v164h-3zM540 123h4v164h-4zM554 123h4v164h-4zM559 123h2v164h-2zM572 123h1v164h-1zM582 123h1v164h-1zM585 123h1v164h-1zM594 123h1v164h-1zM605 123h3v164h-3zM620 123h2v164h-2zM625 123h1v164h-1zM627 123h1v164h-1zM632 123h1v164h-1zM637 123h1v164h-1zM643 123h2v164h-2zM650 123h2v164h-2zM659 123h1v164h-1zM662 123h1v164h-1zM670 123h1v164h-1zM675 123h1v164h-1zM683 123h1v164h-1zM688 123h3v164h-3zM692 123h1v164h-1zM694 123h2v164h-2zM698 123h1v164h-1zM715 123h1v164h-1zM719 123h1v164h-1zM723 123h1v164h-1zM725 123h1v164h-1zM730 123h1v164h-1zM732 123h1v164h-1zM736 123h1v164h-1zM738 123h1v164h-1zM744 123h1v164h-1zM746 123h1v164h-1zM750 123h2v164h-2zM755 123h1v164h-1zM759 123h1v164h-1zM764 123h2v164h-2zM771 123h1v164h-1zM776 123h1v164h-1zM782 123h1v164h-1zM789 123h2v164h-2zM796 123h1v164h-1zM798 123h2v164h-2zM805 123h1v164h-1zM807 123h2v164h-2zM812 123h1v164h-1zM819 123h1v164h-1zM822 123h1v164h-1z"/>
<path fill="url(#g43)" d="M518 123h1v164h-1zM523 123h1v164h-1zM526 123h1v164h-1zM529 123h2v164h-2zM537 123h3v164h-3zM551 123h1v164h-1zM553 123h1v164h-1zM561 123h1v164h-1zM563 123h1v164h-1zM566 123h1v164h-1zM574 123h1v164h-1zM581 123h1v164h-1zM592 123h1v164h-1zM596 123h2v164h-2zM602 123h1v164h-1zM609 123h2v164h-2zM648 123h2v164h-2zM661 123h1v164h-1zM669 123h1v164h-1zM673 123h2v164h-2zM680 123h1v164h-1zM702 123h1v164h-1zM713 123h2v164h-2zM724 123h1v164h-1zM745 123h1v164h-1zM749 123h1v164h-1zM754 123h1v164h-1zM758 123h1v164h-1zM766 123h3v164h-3zM770 123h1v164h-1zM772 123h2v164h-2zM777 123h1v164h-1zM781 123h1v164h-1zM788 123h1v164h-1zM813 123h2v164h-2zM820 123h2v164h-2z"/>
<path fill="url(#g44)" d="M564 123h1v164h-1zM816 123h1v164h-1z"/>
<path fill="url(#g45)" d="M830 123h1v164h-1z"/>
<path fill="url(#g46)" d="M831 123h1v164h-1z"/>
<path fill="url(#g47)" d="M832 123h1v164h-1z"/>
<path fill="url(#g48)" d="M833 123h1v164h-1z"/>
<path fill="url(#g49)" d="M834 123h1v164h-1z"/>
<path fill="url(#g50)" d="M835 123h1v164h-1z"/>
<path fill="url(#g51)" d="M836 123h1v164h-1z"/>
<path fill="url(#g52)" d="M837 123h1v164h-1z"/>
<path fill="url(#g53)" d="M838 123h1v164h-1z"/>
<path fill="url(#g54)" d="M839 123h1v164h-1z"/>
<path fill="url(#g55)" d="M840 123h1v164h-1z"/>
<path fill="url(#g56)" d="M841 123h1v164h-1z"/>
<path fill="url(#g57)" d="M842 123h1v164h-1z"/>
<path fill="url(#g58)" d="M843 123h1v164h-1z"/>
<path fill="url(#g59)" d="M844 123h1v164h-1z"/>
<path fill="url(#g60)" d="M845 123h1v164h-1z"/>
<path fill="url(#g61)" d="M846 123h1v164h-1z"/>
<path fill="url(#g62)" d="M847 123h1v164h-1z"/>
<path fill="url(#g63)" d="M848 123h1v164h-1z"/>
<path fill="url(#g64)" d="M849 123h1v164h-1z"/>
<path fill="url(#g65)" d="M850 123h1v164h-1z"/>
<path fill="url(#g66)" d="M851 123h1v164h-1z"/>
<path fill="url(#g67)" d="M852 123h1v164h-1z"/>
<path fill="url(#g68)" d="M853 123h1v164h-1z"/>
<path fill="url(#g69)" d="M854 123h1v164h-1z"/>
<path fill="url(#g70)" d="M855 123h1v164h-1z"/>
<path fill="url(#g71)" d="M856 123h1v164h-1z"/>
<path fill="url(#g72)" d="M857 123h1v164h-1z"/>
<path fill="#555555" d="M64 288h2v93h-2zM72 288h1v93h-1zM81 288h1v93h-1zM112 288h1v93h-1zM114 288h1v93h-1zM128 288h1v93h-1zM201 288h1v93h-1zM227 288h1v93h-1zM312 288h1v93h-1zM408 288h1v93h-1zM449 288h1v93h-1zM453 288h1v93h-1zM488 288h1v93h-1zM500 288h1v93h-1zM502 288h1v93h-1zM569 288h1v93h-1zM575 288h2v93h-2zM608 288h1v93h-1zM616 288h4v93h-4zM630 288h2v93h-2zM681 288h2v93h-2zM697 288h1v93h-1zM710 288h1v93h-1zM712 288h1v93h-1zM717 288h2v93h-2zM734 288h1v93h-1zM802 288h1v93h-1zM809 288h1v93h-1zM820 288h2v93h-2zM823 288h1v93h-1zM825 288h1v93h-1zM829 288h2v93h-2z"/>
<path fill="#464646" d="M66 288h1v93h-1zM85 288h1v93h-1zM108 288h1v93h-1zM132 288h1v93h-1zM152 288h2v93h-2zM181 288h1v93h-1zM610 288h1v93h-1z"/>
<path fill="#4d4d4d" d="M67 288h1v93h-1zM95 288h2v93h-2zM98 288h1v93h-1zM131 288h1v93h-1zM154 288h1v93h-1zM163 288h1v93h-1zM189 288h1v93h-1zM272 288h1v93h-1zM274 288h1v93h-1zM286 288h1v93h-1zM293 288h1v93h-1zM296 288h1v93h-1zM313 288h2v93h-2zM319 288h1v93h-1zM479 288h2v93h-2zM510 288h1v93h-1zM531 288h1v93h-1zM590 288h1v93h-1zM666 288h1v93h-1zM668 288h1v93h-1zM705 288h1v93h-1zM708 288h1v93h-1zM832 288h1v93h-1z"/>
<path fill="#4a4a4a" d="M68 288h2v93h-2zM71 288h1v93h-1zM94 288h1v93h-1zM100 288h1v93h-1zM106 288h1v93h-1zM275 288h1v93h-1zM297 288h1v93h-1zM460 288h1v93h-1zM493 288h1v93h-1zM722 288h1v93h-1zM743 288h1v93h-1zM831 288h1v93h-1z"/>
<path fill="#484848" d="M70 288h1v93h-1zM93 288h1v93h-1zM133 288h2v93h-2zM477 288h1v93h-1zM532 288h1v93h-1zM550 288h1v93h-1zM589 288h1v93h-1zM599 288h1v93h-1zM664 288h1v93h-1zM706 288h2v93h-2z"/>
<path fill="#595959" d="M73 288h3v93h-3zM80 288h1v93h-1zM115 288h1v93h-1zM129 288h1v93h-1zM170 288h1v93h-1zM197 288h2v93h-2zM242 288h1v93h-1zM316 288h1v93h-1zM414 288h1v93h-1zM504 288h1v93h-1zM514 288h2v93h-2zM534 288h1v93h-1zM537 288h1v93h-1zM544 288h1v93h-1zM558 288h1v93h-1zM568 288h1v93h-1zM592 288h1v93h-1zM615 288h1v93h-1zM620 288h1v93h-1zM629 288h1v93h-1zM636 288h1v93h-1zM645 288h1v93h-1zM659 288h1v93h-1zM683 288h1v93h-1zM695 288h2v93h-2zM698 288h1v93h-1zM719 288h1v93h-1zM729 288h1v93h-1zM737 288h1v93h-1zM740 288h1v93h-1zM789 288h1v93h-1zM792 288h1v93h-1zM812 288h1v93h-1zM818 288h1v93h-1zM826 288h1v93h-1z"/>
<path fill="#575757" d="M76 288h4v93h-4zM116 288h1v93h-1zM130 288h1v93h-1zM190 288h1v93h-1zM193 288h1v93h-1zM199 288h2v93h-2zM317 288h1v93h-1zM356 288h1v93h-1zM437 288h1v93h-1zM535 288h2v93h-2zM556 288h1v93h-1zM567 288h1v93h-1zM593 288h1v93h-1zM621 288h1v93h-1zM638 288h1v93h-1zM647 288h1v93h-1zM658 288h1v93h-1zM679 288h1v93h-1zM699 288h1v93h-1zM709 288h1v93h-1zM716 288h1v93h-1zM761 288h1v93h-1zM784 288h1v93h-1zM801 288h1v93h-1zM822 288h1v93h-1zM827 288h2v93h-2z"/>
<path fill="#5e5e5e" d="M82 288h1v93h-1zM117 288h2v93h-2zM223 288h1v93h-1zM228 288h1v93h-1zM230 288h1v93h-1zM237 288h1v93h-1zM247 288h2v93h-2zM255 288h2v93h-2zM258 288h2v93h-2zM265 288h1v93h-1zM276 288h3v93h-3zM287 288h1v93h-1zM327 288h1v93h-1zM337 288h1v93h-1zM358 288h1v93h-1zM418 288h1v93h-1zM443 288h1v93h-1zM484 288h1v93h-1zM516 288h1v93h-1zM524 288h2v93h-2zM541 288h1v93h-1zM552 288h1v93h-1zM554 288h1v93h-1zM560 288h1v93h-1zM580 288h1v93h-1zM583 288h1v93h-1zM585 288h4v93h-4zM594 288h1v93h-1zM637 288h1v93h-1zM654 288h1v93h-1zM657 288h1v93h-1zM692 288h1v93h-1zM703 288h2v93h-2zM727 288h1v93h-1zM731 288h2v93h-2zM739 288h1v93h-1zM742 288h1v93h-1zM752 288h1v93h-1zM780 288h1v93h-1zM783 288h1v93h-1zM787 288h1v93h-1zM791 288h1v93h-1zM793 288h1v93h-1zM797 288h1v93h-1z"/>
<path fill="#646464" d="M83 288h1v93h-1zM207 288h1v93h-1zM217 288h1v93h-1zM224 288h3v93h-3zM231 288h1v93h-1zM235 288h1v93h-1zM239 288h3v93h-3zM254 288h1v93h-1zM268 288h1v93h-1zM290 288h1v93h-1zM303 288h1v93h-1zM307 288h2v93h-2zM310 288h1v93h-1zM328 288h1v93h-1zM354 288h2v93h-2zM376 288h1v93h-1zM570 288h2v93h-2zM597 288h1v93h-1zM603 288h2v93h-2zM648 288h1v93h-1zM671 288h1v93h-1zM748 288h1v93h-1zM753 288h1v93h-1zM795 288h1v93h-1zM815 288h2v93h-2z"/>
<path fill="#606060" d="M84 288h1v93h-1zM91 288h2v93h-2zM151 288h1v93h-1zM204 288h1v93h-1zM206 288h1v93h-1zM213 288h2v93h-2zM220 288h3v93h-3zM232 288h3v93h-3zM236 288h1v93h-1zM245 288h2v93h-2zM253 288h1v93h-1zM264 288h1v93h-1zM266 288h2v93h-2zM271 288h1v93h-1zM291 288h1v93h-1zM294 288h2v93h-2zM300 288h1v93h-1zM329 288h1v93h-1zM336 288h1v93h-1zM339 288h1v93h-1zM344 288h1v93h-1zM348 288h2v93h-2zM359 288h1v93h-1zM361 288h1v93h-1zM363 288h1v93h-1zM366 288h1v93h-1zM379 288h2v93h-2zM419 288h2v93h-2zM482 288h1v93h-1zM517 288h1v93h-1zM527 288h2v93h-2zM538 288h1v93h-1zM540 288h1v93h-1zM542 288h2v93h-2zM547 288h1v93h-1zM553 288h1v93h-1zM555 288h1v93h-1zM559 288h1v93h-1zM625 288h2v93h-2zM628 288h1v93h-1zM632 288h1v93h-1zM643 288h2v93h-2zM649 288h3v93h-3zM688 288h3v93h-3zM694 288h1v93h-1zM713 288h1v93h-1zM723 288h3v93h-3zM730 288h1v93h-1zM736 288h1v93h-1zM738 288h1v93h-1zM750 288h2v93h-2zM790 288h1v93h-1zM796 288h1v93h-1zM798 288h2v93h-2zM807 288h1v93h-1zM813 288h1v93h-1zM817 288h1v93h-1z"/>
<path fill="#444444" d="M86 288h1v93h-1zM107 288h1v93h-1zM161 288h1v93h-1zM180 288h1v93h-1zM391 288h1v93h-1z"/>
<path fill="#404040" d="M87 288h1v93h-1zM104 288h1v93h-1zM186 288h1v93h-1zM611 288h3v93h-3zM676 288h1v93h-1zM685 288h1v93h-1zM687 288h1v93h-1zM701 288h1v93h-1zM805 288h1v93h-1z"/>
<path fill="#515151" d="M88 288h2v93h-2zM120 288h1v93h-1zM188 288h1v93h-1zM192 288h1v93h-1zM273 288h1v93h-1zM285 288h1v93h-1zM292 288h1v93h-1zM481 288h1v93h-1zM489 288h1v93h-1zM640 288h1v93h-1zM646 288h1v93h-1zM735 288h1v93h-1zM762 288h2v93h-2zM810 288h1v93h-1zM824 288h1v93h-1z"/>
<path fill="#4f4f4f" d="M90 288h1v93h-1zM97 288h1v93h-1zM99 288h1v93h-1zM113 288h1v93h-1zM121 288h2v93h-2zM175 288h1v93h-1zM183 288h1v93h-1zM284 288h1v93h-1zM315 288h1v93h-1zM318 288h1v93h-1zM429 288h1v93h-1zM478 288h1v93h-1zM530 288h1v93h-1zM551 288h1v93h-1zM598 288h1v93h-1zM614 288h1v93h-1zM641 288h1v93h-1zM665 288h1v93h-1zM667 288h1v93h-1zM711 288h1v93h-1zM778 288h1v93h-1z"/>
<path fill="#373737" d="M101 288h1v93h-1z"/>
<path fill="#424242" d="M109 288h2v93h-2zM162 288h1v93h-1zM402 288h1v93h-1zM463 288h1v93h-1z"/>
<path fill="#262626" d="M111 288h1v93h-1z"/>
<path fill="#535353" d="M119 288h1v93h-1zM127 288h1v93h-1zM171 288h1v93h-1zM191 288h1v93h-1zM195 288h2v93h-2zM405 288h1v93h-1zM452 288h1v93h-1zM490 288h1v93h-1zM533 288h1v93h-1zM591 288h1v93h-1zM622 288h2v93h-2zM639 288h1v93h-1zM684 288h1v93h-1zM700 288h1v93h-1zM720 288h2v93h-2zM800 288h1v93h-1zM819 288h1v93h-1z"/>
<path fill="#393939" d="M123 288h1v93h-1zM144 288h1v93h-1zM159 288h1v93h-1z"/>
<path fill="#353535" d="M124 288h1v93h-1zM126 288h1v93h-1zM136 288h1v93h-1zM146 288h1v93h-1z"/>
<path fill="#3b3b3b" d="M125 288h1v93h-1zM143 288h1v93h-1zM147 288h1v93h-1zM158 288h1v93h-1zM185 288h1v93h-1zM187 288h1v93h-1zM476 288h1v93h-1zM499 288h1v93h-1z"/>
<path fill="#333333" d="M135 288h1v93h-1zM157 288h1v93h-1z"/>
<path fill="#626262" d="M150 288h1v93h-1zM205 288h1v93h-1zM208 288h1v93h-1zM215 288h2v93h-2zM243 288h2v93h-2zM252 288h1v93h-1zM257 288h1v93h-1zM269 288h2v93h-2zM289 288h1v93h-1zM309 288h1v93h-1zM330 288h2v93h-2zM338 288h1v93h-1zM347 288h1v93h-1zM360 288h1v93h-1zM365 288h1v93h-1zM374 288h1v93h-1zM377 288h2v93h-2zM417 288h1v93h-1zM486 288h1v93h-1zM518 288h2v93h-2zM526 288h1v93h-1zM539 288h1v93h-1zM596 288h1v93h-1zM627 288h1v93h-1zM702 288h1v93h-1zM714 288h1v93h-1zM747 288h1v93h-1zM754 288h2v93h-2zM781 288h2v93h-2zM808 288h1v93h-1zM814 288h1v93h-1z"/>
<path fill="#2a2a2a" d="M155 288h1v93h-1z"/>
<path fill="#5b5b5b" d="M165 288h2v93h-2zM194 288h1v93h-1zM203 288h1v93h-1zM212 288h1v93h-1zM238 288h1v93h-1zM288 288h1v93h-1zM298 288h2v93h-2zM311 288h1v93h-1zM357 288h1v93h-1zM362 288h1v93h-1zM440 288h3v93h-3zM483 288h1v93h-1zM485 288h1v93h-1zM487 288h1v93h-1zM501 288h1v93h-1zM503 288h1v93h-1zM505 288h3v93h-3zM545 288h2v93h-2zM557 288h1v93h-1zM577 288h3v93h-3zM584 288h1v93h-1zM595 288h1v93h-1zM609 288h1v93h-1zM624 288h1v93h-1zM633 288h1v93h-1zM635 288h1v93h-1zM642 288h1v93h-1zM652 288h2v93h-2zM680 288h1v93h-1zM691 288h1v93h-1zM693 288h1v93h-1zM715 288h1v93h-1zM726 288h1v93h-1zM728 288h1v93h-1zM733 288h1v93h-1zM741 288h1v93h-1zM785 288h2v93h-2zM788 288h1v93h-1zM794 288h1v93h-1zM803 288h2v93h-2zM806 288h1v93h-1z"/>
<path fill="#131313" d="M173 288h2v93h-2z"/>
<path fill="#3e3e3e" d="M202 288h1v93h-1zM392 288h1v93h-1zM464 288h1v93h-1zM466 288h1v93h-1zM475 288h1v93h-1zM498 288h1v93h-1zM600 288h2v93h-2zM656 288h1v93h-1zM677 288h2v93h-2zM686 288h1v93h-1zM833 288h1v93h-1z"/>
<path fill="#6e6e6e" d="M209 288h2v93h-2zM218 288h1v93h-1zM249 288h1v93h-1zM251 288h1v93h-1zM282 288h1v93h-1zM321 288h3v93h-3zM333 288h1v93h-1zM335 288h1v93h-1zM367 288h4v93h-4zM387 288h2v93h-2zM523 288h1v93h-1zM562 288h1v93h-1zM564 288h1v93h-1z"/>
<path fill="#6a6a6a" d="M211 288h1v93h-1zM280 288h2v93h-2zM283 288h1v93h-1zM306 288h1v93h-1zM325 288h1v93h-1zM341 288h1v93h-1zM351 288h3v93h-3zM382 288h3v93h-3zM495 288h1v93h-1zM497 288h1v93h-1zM521 288h2v93h-2zM529 288h1v93h-1zM563 288h1v93h-1zM581 288h1v93h-1zM660 288h2v93h-2zM669 288h1v93h-1zM674 288h1v93h-1zM746 288h1v93h-1zM757 288h2v93h-2zM760 288h1v93h-1zM766 288h3v93h-3zM772 288h2v93h-2z"/>
<path fill="#666666" d="M219 288h1v93h-1zM229 288h1v93h-1zM263 288h1v93h-1zM301 288h2v93h-2zM345 288h2v93h-2zM364 288h1v93h-1zM371 288h1v93h-1zM375 288h1v93h-1zM494 288h1v93h-1zM549 288h1v93h-1zM566 288h1v93h-1zM573 288h1v93h-1zM582 288h1v93h-1zM602 288h1v93h-1zM605 288h3v93h-3zM663 288h1v93h-1zM744 288h1v93h-1zM759 288h1v93h-1z"/>
<path fill="#6c6c6c" d="M250 288h1v93h-1zM262 288h1v93h-1zM279 288h1v93h-1zM326 288h1v93h-1zM332 288h1v93h-1zM334 288h1v93h-1zM342 288h1v93h-1zM381 288h1v93h-1zM385 288h1v93h-1zM390 288h1v93h-1zM496 288h1v93h-1zM565 288h1v93h-1zM574 288h1v93h-1zM672 288h1v93h-1zM756 288h1v93h-1zM769 288h1v93h-1zM774 288h2v93h-2zM777 288h1v93h-1z"/>
<path fill="#686868" d="M260 288h2v93h-2zM304 288h2v93h-2zM320 288h1v93h-1zM324 288h1v93h-1zM340 288h1v93h-1zM343 288h1v93h-1zM350 288h1v93h-1zM372 288h2v93h-2zM520 288h1v93h-1zM548 288h1v93h-1zM561 288h1v93h-1zM572 288h1v93h-1zM662 288h1v93h-1zM670 288h1v93h-1zM673 288h1v93h-1zM675 288h1v93h-1zM745 288h1v93h-1zM749 288h1v93h-1zM764 288h2v93h-2zM770 288h2v93h-2zM776 288h1v93h-1z"/>
<path fill="#717171" d="M386 288h1v93h-1zM389 288h1v93h-1z"/>
<path fill="#2d2d2d" d="M393 288h1v93h-1zM430 288h2v93h-2zM512 288h1v93h-1zM779 288h1v93h-1z"/>
<path fill="#313131" d="M399 288h1v93h-1z"/>
<path fill="#282828" d="M432 288h1v93h-1zM511 288h1v93h-1z"/>
<path fill="#191919" d="M508 288h2v93h-2zM634 288h1v93h-1zM655 288h1v93h-1zM811 288h1v93h-1zM834 288h2v93h-2z"/>
<path fill="#2f2f2f" d="M513 288h1v93h-1z"/>
<path fill="#191919" d="M102 378h2v3h-2zM105 378h1v3h-1zM137 378h6v3h-6zM145 378h1v3h-1zM148 378h2v3h-2zM156 378h1v3h-1zM160 378h1v3h-1zM164 378h1v3h-1zM167 378h3v3h-3zM172 378h1v3h-1zM176 378h4v3h-4zM182 378h1v3h-1zM184 378h1v3h-1zM394 378h5v3h-5zM400 378h2v3h-2zM403 378h2v3h-2zM406 378h2v3h-2zM409 378h5v3h-5zM415 378h2v3h-2zM421 378h8v3h-8zM433 378h4v3h-4zM438 378h2v3h-2zM444 378h5v3h-5zM450 378h2v3h-2zM454 378h6v3h-6zM461 378h2v3h-2zM465 378h1v3h-1zM467 378h8v3h-8zM491 378h2v3h-2z"/>
<path fill="url(#g0)" d="M58 381h1v164h-1z"/>
<path fill="url(#g1)" d="M59 381h1v164h-1z"/>
<path fill="url(#g2)" d="M60 381h1v164h-1z"/>
<path fill="url(#g3)" d="M61 381h1v164h-1z"/>
<path fill="url(#g4)" d="M62 381h1v164h-1z"/>
<path fill="url(#g5)" d="M63 381h1v164h-1z"/>
<path fill="url(#g10)" d="M64 381h2v164h-2zM73 381h2v164h-2zM76 381h1v164h-1zM78 381h1v164h-1zM80 381h1v164h-1zM84 381h1v164h-1zM89 381h1v164h-1zM91 381h2v164h-2z"/>
<path fill="url(#g7)" d="M66 381h4v164h-4zM85 381h2v164h-2zM90 381h1v164h-1zM95 381h1v164h-1zM98 381h1v164h-1z"/>
<path fill="url(#g9)" d="M70 381h1v164h-1zM87 381h1v164h-1zM93 381h2v164h-2z"/>
<path fill="url(#g8)" d="M71 381h1v164h-1z"/>
<path fill="url(#g6)" d="M72 381h1v164h-1zM75 381h1v164h-1zM77 381h1v164h-1zM79 381h1v164h-1zM81 381h2v164h-2zM88 381h1v164h-1zM96 381h2v164h-2zM99 381h1v164h-1z"/>
<path fill="url(#g11)" d="M83 381h1v164h-1z"/>
<path fill="url(#g16)" d="M100 381h1v164h-1zM106 381h1v164h-1zM119 381h1v164h-1zM123 381h1v164h-1zM125 381h1v164h-1zM127 381h1v164h-1zM131 381h1v164h-1zM150 381h1v164h-1zM154 381h1v164h-1zM165 381h2v164h-2zM186 381h1v164h-1zM194 381h2v164h-2zM197 381h1v164h-1zM205 381h1v164h-1zM207 381h2v164h-2zM211 381h1v164h-1zM213 381h1v164h-1zM215 381h2v164h-2zM220 381h1v164h-1zM224 381h1v164h-1zM231 381h1v164h-1zM233 381h3v164h-3zM239 381h1v164h-1zM241 381h1v164h-1zM243 381h1v164h-1zM252 381h3v164h-3zM257 381h1v164h-1zM261 381h1v164h-1zM268 381h3v164h-3zM283 381h1v164h-1zM290 381h1v164h-1zM300 381h1v164h-1zM305 381h1v164h-1zM307 381h2v164h-2zM320 381h1v164h-1zM325 381h1v164h-1zM328 381h1v164h-1zM330 381h1v164h-1zM336 381h1v164h-1zM338 381h1v164h-1zM344 381h1v164h-1zM349 381h1v164h-1zM351 381h3v164h-3zM355 381h1v164h-1zM365 381h2v164h-2zM371 381h1v164h-1zM373 381h2v164h-2zM377 381h1v164h-1zM380 381h1v164h-1zM382 381h2v164h-2z"/>
<path fill="url(#g17)" d="M101 381h1v164h-1zM107 381h1v164h-1zM110 381h1v164h-1zM124 381h1v164h-1zM133 381h2v164h-2zM136 381h1v164h-1zM143 381h1v164h-1zM151 381h1v164h-1zM170 381h1v164h-1zM174 381h1v164h-1zM187 381h2v164h-2zM196 381h1v164h-1zM204 381h1v164h-1zM206 381h1v164h-1zM219 381h1v164h-1zM221 381h3v164h-3zM229 381h2v164h-2zM232 381h1v164h-1zM236 381h1v164h-1zM242 381h1v164h-1zM244 381h3v164h-3zM248 381h1v164h-1zM255 381h2v164h-2zM258 381h3v164h-3zM263 381h1v164h-1zM265 381h1v164h-1zM267 381h1v164h-1zM271 381h1v164h-1zM284 381h2v164h-2zM289 381h1v164h-1zM291 381h5v164h-5zM304 381h1v164h-1zM306 381h1v164h-1zM309 381h1v164h-1zM311 381h1v164h-1zM316 381h1v164h-1zM324 381h1v164h-1zM327 381h1v164h-1zM329 381h1v164h-1zM331 381h1v164h-1zM339 381h2v164h-2zM343 381h1v164h-1zM347 381h2v164h-2zM350 381h1v164h-1zM357 381h5v164h-5zM363 381h1v164h-1zM372 381h1v164h-1zM378 381h2v164h-2zM384 381h1v164h-1z"/>
<path fill="url(#g14)" d="M102 381h1v164h-1zM109 381h1v164h-1zM111 381h1v164h-1zM113 381h1v164h-1zM126 381h1v164h-1zM132 381h1v164h-1zM135 381h1v164h-1zM152 381h2v164h-2zM155 381h1v164h-1zM158 381h2v164h-2zM171 381h1v164h-1zM175 381h1v164h-1zM185 381h1v164h-1zM189 381h2v164h-2zM193 381h1v164h-1zM198 381h4v164h-4zM203 381h1v164h-1zM212 381h1v164h-1zM214 381h1v164h-1zM227 381h2v164h-2zM237 381h2v164h-2zM247 381h1v164h-1zM264 381h1v164h-1zM266 381h1v164h-1zM272 381h3v164h-3zM276 381h2v164h-2zM296 381h1v164h-1zM298 381h2v164h-2zM314 381h1v164h-1zM317 381h2v164h-2zM337 381h1v164h-1zM356 381h1v164h-1zM362 381h1v164h-1zM391 381h1v164h-1z"/>
<path fill="url(#g15)" d="M103 381h2v164h-2zM138 381h5v164h-5zM161 381h1v164h-1zM164 381h1v164h-1zM173 381h1v164h-1zM180 381h2v164h-2zM183 381h1v164h-1zM191 381h2v164h-2zM275 381h1v164h-1zM278 381h1v164h-1zM287 381h2v164h-2zM312 381h1v164h-1zM315 381h1v164h-1zM319 381h1v164h-1zM392 381h1v164h-1z"/>
<path fill="url(#g23)" d="M105 381h1v164h-1zM137 381h1v164h-1zM156 381h1v164h-1zM162 381h1v164h-1zM177 381h2v164h-2zM184 381h1v164h-1zM202 381h1v164h-1zM286 381h1v164h-1zM297 381h1v164h-1zM313 381h1v164h-1z"/>
<path fill="url(#g12)" d="M108 381h1v164h-1zM112 381h1v164h-1zM114 381h1v164h-1zM117 381h2v164h-2zM121 381h2v164h-2zM128 381h1v164h-1zM163 381h1v164h-1zM209 381h2v164h-2zM217 381h1v164h-1zM225 381h2v164h-2zM240 381h1v164h-1zM250 381h2v164h-2zM262 381h1v164h-1zM279 381h4v164h-4zM301 381h1v164h-1zM303 381h1v164h-1zM310 381h1v164h-1zM322 381h2v164h-2zM326 381h1v164h-1zM332 381h3v164h-3zM341 381h1v164h-1zM346 381h1v164h-1zM354 381h1v164h-1zM368 381h2v164h-2zM375 381h2v164h-2zM381 381h1v164h-1zM385 381h1v164h-1zM388 381h1v164h-1zM390 381h1v164h-1z"/>
<path fill="url(#g18)" d="M115 381h1v164h-1z"/>
<path fill="url(#g13)" d="M116 381h1v164h-1zM120 381h1v164h-1zM129 381h2v164h-2zM218 381h1v164h-1zM249 381h1v164h-1zM302 381h1v164h-1zM321 381h1v164h-1zM335 381h1v164h-1zM342 381h1v164h-1zM345 381h1v164h-1zM364 381h1v164h-1zM367 381h1v164h-1zM370 381h1v164h-1zM386 381h2v164h-2zM389 381h1v164h-1z"/>
<path fill="url(#g19)" d="M144 381h1v164h-1zM149 381h1v164h-1zM167 381h1v164h-1zM169 381h1v164h-1z"/>
<path fill="url(#g21)" d="M145 381h1v164h-1z"/>
<path fill="url(#g20)" d="M146 381h1v164h-1z"/>
<path fill="url(#g22)" d="M147 381h2v164h-2zM157 381h1v164h-1zM160 381h1v164h-1zM168 381h1v164h-1zM172 381h1v164h-1zM176 381h1v164h-1zM179 381h1v164h-1zM182 381h1v164h-1z"/>
<path fill="url(#g24)" d="M393 381h1v164h-1zM397 381h1v164h-1zM402 381h1v164h-1zM404 381h1v164h-1zM411 381h2v164h-2zM435 381h2v164h-2zM447 381h1v164h-1zM460 381h2v164h-2z"/>
<path fill="url(#g25)" d="M394 381h1v164h-1zM429 381h1v164h-1zM445 381h1v164h-1zM455 381h1v164h-1zM463 381h1v164h-1zM467 381h2v164h-2z"/>
<path fill="url(#g31)" d="M395 381h1v164h-1zM405 381h1v164h-1zM426 381h3v164h-3zM430 381h1v164h-1zM446 381h1v164h-1zM450 381h1v164h-1zM470 381h1v164h-1zM475 381h1v164h-1z"/>
<path fill="url(#g28)" d="M396 381h1v164h-1zM400 381h2v164h-2zM403 381h1v164h-1zM408 381h1v164h-1zM415 381h1v164h-1zM425 381h1v164h-1zM432 381h1v164h-1zM434 381h1v164h-1zM472 381h1v164h-1z"/>
<path fill="url(#g29)" d="M398 381h1v164h-1zM413 381h2v164h-2zM431 381h1v164h-1zM433 381h1v164h-1zM437 381h3v164h-3zM448 381h1v164h-1zM451 381h2v164h-2zM454 381h1v164h-1zM456 381h2v164h-2zM459 381h1v164h-1zM465 381h1v164h-1zM471 381h1v164h-1z"/>
<path fill="url(#g30)" d="M399 381h1v164h-1zM407 381h1v164h-1zM443 381h2v164h-2zM449 381h1v164h-1zM453 381h1v164h-1zM458 381h1v164h-1zM462 381h1v164h-1zM464 381h1v164h-1zM466 381h1v164h-1zM469 381h1v164h-1z"/>
<path fill="url(#g26)" d="M406 381h1v164h-1zM418 381h3v164h-3zM440 381h3v164h-3z"/>
<path fill="url(#g27)" d="M409 381h2v164h-2zM416 381h1v164h-1zM421 381h3v164h-3zM473 381h2v164h-2z"/>
<path fill="url(#g33)" d="M417 381h1v164h-1z"/>
<path fill="url(#g32)" d="M424 381h1v164h-1z"/>
<path fill="url(#g40)" d="M476 381h2v164h-2zM489 381h1v164h-1zM498 381h2v164h-2zM511 381h1v164h-1zM655 381h1v164h-1z"/>
<path fill="url(#g36)" d="M478 381h1v164h-1zM481 381h1v164h-1zM484 381h1v164h-1zM494 381h1v164h-1zM500 381h1v164h-1zM505 381h2v164h-2zM508 381h1v164h-1zM530 381h2v164h-2zM544 381h1v164h-1zM550 381h1v164h-1zM569 381h1v164h-1zM584 381h1v164h-1zM589 381h3v164h-3zM598 381h2v164h-2zM601 381h1v164h-1zM611 381h4v164h-4zM616 381h4v164h-4zM622 381h3v164h-3zM629 381h2v164h-2zM639 381h1v164h-1zM642 381h1v164h-1zM645 381h1v164h-1zM652 381h1v164h-1zM664 381h1v164h-1zM666 381h1v164h-1zM668 381h1v164h-1zM681 381h1v164h-1zM685 381h1v164h-1zM687 381h1v164h-1zM693 381h1v164h-1zM700 381h1v164h-1zM705 381h1v164h-1zM708 381h1v164h-1zM710 381h1v164h-1zM717 381h1v164h-1zM720 381h2v164h-2zM729 381h1v164h-1zM733 381h1v164h-1zM735 381h1v164h-1zM737 381h1v164h-1zM740 381h1v164h-1zM747 381h1v164h-1zM763 381h1v164h-1zM784 381h3v164h-3zM800 381h1v164h-1zM803 381h1v164h-1zM805 381h1v164h-1zM809 381h1v164h-1zM812 381h1v164h-1zM819 381h1v164h-1zM823 381h1v164h-1zM825 381h1v164h-1zM828 381h1v164h-1z"/>
<path fill="url(#g37)" d="M479 381h2v164h-2zM483 381h1v164h-1zM488 381h1v164h-1zM490 381h1v164h-1zM493 381h1v164h-1zM641 381h1v164h-1zM706 381h1v164h-1zM779 381h1v164h-1zM810 381h1v164h-1z"/>
<path fill="url(#g35)" d="M482 381h1v164h-1zM486 381h1v164h-1zM502 381h3v164h-3zM514 381h3v164h-3zM525 381h1v164h-1zM527 381h1v164h-1zM541 381h1v164h-1zM545 381h2v164h-2zM549 381h1v164h-1zM551 381h2v164h-2zM554 381h2v164h-2zM558 381h1v164h-1zM567 381h1v164h-1zM570 381h2v164h-2zM575 381h6v164h-6zM583 381h1v164h-1zM586 381h3v164h-3zM593 381h1v164h-1zM595 381h1v164h-1zM603 381h3v164h-3zM608 381h1v164h-1zM615 381h1v164h-1zM620 381h1v164h-1zM626 381h1v164h-1zM628 381h1v164h-1zM631 381h1v164h-1zM633 381h1v164h-1zM635 381h2v164h-2zM638 381h1v164h-1zM644 381h1v164h-1zM647 381h1v164h-1zM653 381h2v164h-2zM657 381h2v164h-2zM663 381h1v164h-1zM665 381h1v164h-1zM667 381h1v164h-1zM671 381h1v164h-1zM682 381h1v164h-1zM684 381h1v164h-1zM691 381h2v164h-2zM697 381h3v164h-3zM709 381h1v164h-1zM712 381h1v164h-1zM716 381h1v164h-1zM718 381h1v164h-1zM723 381h1v164h-1zM726 381h3v164h-3zM731 381h1v164h-1zM739 381h1v164h-1zM741 381h1v164h-1zM748 381h1v164h-1zM752 381h1v164h-1zM761 381h1v164h-1zM778 381h1v164h-1zM780 381h1v164h-1zM783 381h1v164h-1zM787 381h1v164h-1zM791 381h4v164h-4zM797 381h1v164h-1zM802 381h1v164h-1zM820 381h3v164h-3zM826 381h1v164h-1z"/>
<path fill="url(#g34)" d="M485 381h1v164h-1zM487 381h1v164h-1zM509 381h2v164h-2zM512 381h2v164h-2zM532 381h2v164h-2zM600 381h1v164h-1zM634 381h1v164h-1zM640 381h1v164h-1zM646 381h1v164h-1zM656 381h1v164h-1zM676 381h3v164h-3zM686 381h1v164h-1zM701 381h1v164h-1zM707 381h1v164h-1zM711 381h1v164h-1zM722 381h1v164h-1zM743 381h1v164h-1zM762 381h1v164h-1zM824 381h1v164h-1zM827 381h1v164h-1zM829 381h1v164h-1z"/>
<path fill="url(#g38)" d="M491 381h1v164h-1z"/>
<path fill="url(#g39)" d="M492 381h1v164h-1zM811 381h1v164h-1z"/>
<path fill="url(#g42)" d="M495 381h3v164h-3zM507 381h1v164h-1zM517 381h6v164h-6zM524 381h1v164h-1zM526 381h1v164h-1zM534 381h4v164h-4zM540 381h1v164h-1zM542 381h2v164h-2zM547 381h2v164h-2zM553 381h1v164h-1zM556 381h2v164h-2zM561 381h1v164h-1zM566 381h1v164h-1zM568 381h1v164h-1zM572 381h2v164h-2zM582 381h1v164h-1zM585 381h1v164h-1zM594 381h1v164h-1zM602 381h1v164h-1zM607 381h1v164h-1zM610 381h1v164h-1zM621 381h1v164h-1zM625 381h1v164h-1zM632 381h1v164h-1zM637 381h1v164h-1zM643 381h1v164h-1zM648 381h1v164h-1zM650 381h2v164h-2zM659 381h1v164h-1zM673 381h1v164h-1zM675 381h1v164h-1zM679 381h1v164h-1zM683 381h1v164h-1zM688 381h1v164h-1zM694 381h1v164h-1zM696 381h1v164h-1zM703 381h2v164h-2zM713 381h1v164h-1zM715 381h1v164h-1zM719 381h1v164h-1zM725 381h1v164h-1zM730 381h1v164h-1zM732 381h1v164h-1zM734 381h1v164h-1zM736 381h1v164h-1zM738 381h1v164h-1zM742 381h1v164h-1zM744 381h1v164h-1zM746 381h1v164h-1zM749 381h3v164h-3zM755 381h1v164h-1zM759 381h1v164h-1zM771 381h2v164h-2zM782 381h1v164h-1zM789 381h2v164h-2zM796 381h1v164h-1zM799 381h1v164h-1zM801 381h1v164h-1zM804 381h1v164h-1zM806 381h2v164h-2zM813 381h1v164h-1zM818 381h1v164h-1z"/>
<path fill="url(#g43)" d="M501 381h1v164h-1zM528 381h2v164h-2zM538 381h2v164h-2zM559 381h2v164h-2zM563 381h1v164h-1zM581 381h1v164h-1zM592 381h1v164h-1zM596 381h2v164h-2zM606 381h1v164h-1zM609 381h1v164h-1zM627 381h1v164h-1zM649 381h1v164h-1zM661 381h2v164h-2zM669 381h2v164h-2zM674 381h1v164h-1zM680 381h1v164h-1zM689 381h2v164h-2zM695 381h1v164h-1zM702 381h1v164h-1zM714 381h1v164h-1zM724 381h1v164h-1zM745 381h1v164h-1zM754 381h1v164h-1zM758 381h1v164h-1zM760 381h1v164h-1zM764 381h5v164h-5zM770 381h1v164h-1zM773 381h1v164h-1zM776 381h2v164h-2zM781 381h1v164h-1zM788 381h1v164h-1zM798 381h1v164h-1zM808 381h1v164h-1zM814 381h4v164h-4z"/>
<path fill="url(#g41)" d="M523 381h1v164h-1zM562 381h1v164h-1zM564 381h2v164h-2zM574 381h1v164h-1zM660 381h1v164h-1zM753 381h1v164h-1zM756 381h2v164h-2zM769 381h1v164h-1zM774 381h2v164h-2zM795 381h1v164h-1z"/>
<path fill="url(#g44)" d="M672 381h1v164h-1z"/>
<path fill="url(#g45)" d="M830 381h1v164h-1z"/>
<path fill="url(#g46)" d="M831 381h1v164h-1z"/>
<path fill="url(#g47)" d="M832 381h1v164h-1z"/>
<path fill="url(#g48)" d="M833 381h1v164h-1z"/>
<path fill="url(#g49)" d="M834 381h1v164h-1z"/>
<path fill="url(#g50)" d="M835 381h1v164h-1z"/>
<path fill="url(#g51)" d="M836 381h1v164h-1z"/>
<path fill="url(#g52)" d="M837 381h1v164h-1z"/>
<path fill="url(#g53)" d="M838 381h1v164h-1z"/>
<path fill="url(#g54)" d="M839 381h1v164h-1z"/>
<path fill="url(#g55)" d="M840 381h1v164h-1z"/>
<path fill="url(#g56)" d="M841 381h1v164h-1z"/>
<path fill="url(#g57)" d="M842 381h1v164h-1z"/>
<path fill="url(#g58)" d="M843 381h1v164h-1z"/>
<path fill="url(#g59)" d="M844 381h1v164h-1z"/>
<path fill="url(#g60)" d="M845 381h1v164h-1z"/>
<path fill="url(#g61)" d="M846 381h1v164h-1z"/>
<path fill="url(#g62)" d="M847 381h1v164h-1z"/>
<path fill="url(#g63)" d="M848 381h1v164h-1z"/>
<path fill="url(#g64)" d="M849 381h1v164h-1z"/>
<path fill="url(#g65)" d="M850 381h1v164h-1z"/>
<path fill="url(#g66)" d="M851 381h1v164h-1z"/>
<path fill="url(#g67)" d="M852 381h1v164h-1z"/>
<path fill="url(#g68)" d="M853 381h1v164h-1z"/>
<path fill="url(#g69)" d="M854 381h1v164h-1z"/>
<path fill="url(#g70)" d="M855 381h1v164h-1z"/>
<path fill="url(#g71)" d="M856 381h1v164h-1z"/>
<path fill="url(#g72)" d="M857 381h1v164h-1z"/>
</g>
<g fill="#7f7f7f">
<rect x="57" y="29" width="802" height="1"/>
<rect x="57" y="545" width="802" height="1"/>
<rect x="57" y="29" width="1" height="517"/>
<rect x="858" y="29" width="1" height="517"/>
<rect x="58" y="287" width="800" height="1"/>
<rect x="57" y="27" width="1" height="2"/>
<rect x="57" y="546" width="1" height="2"/>
<rect x="91" y="27" width="1" height="2"/>
<rect x="91" y="546" width="1" height="2"/>
<rect x="126" y="27" width="1" height="2"/>
<rect x="126" y="546" width="1" height="2"/>
<rect x="160" y="27" width="1" height="2"/>
<rect x="160" y="546" width="1" height="2"/>
<rect x="195" y="27" width="1" height="2"/>
<rect x="195" y="546" width="1" height="2"/>
<rect x="229" y="27" width="1" height="2"/>
<rect x="229" y="546" width="1" height="2"/>
<rect x="264" y="27" width="1" height="2"/>
<rect x="264" y="546" width="1" height="2"/>
<rect x="298" y="27" width="1" height="2"/>
<rect x="298" y="546" width="1" height="2"/>
<rect x="333" y="27" width="1" height="2"/>
<rect x="333" y="546" width="1" height="2"/>
<rect x="367" y="27" width="1" height="2"/>
<rect x="367" y="546" width="1" height="2"/>
<rect x="401" y="27" width="1" height="2"/>
<rect x="401" y="546" width="1" height="2"/>
<rect x="436" y="27" width="1" height="2"/>
<rect x="436" y="546" width="1" height="2"/>
<rect x="470" y="27" width="1" height="2"/>
<rect x="470" y="546" width="1" height="2"/>
<rect x="505" y="27" width="1" height="2"/>
<rect x="505" y="546" width="1" height="2"/>
<rect x="539" y="27" width="1" height="2"/>
<rect x="539" y="546" width="1" height="2"/>
<rect x="574" y="27" width="1" height="2"/>
<rect x="574" y="546" width="1" height="2"/>
<rect x="608" y="27" width="1" height="2"/>
<rect x="608" y="546" width="1" height="2"/>
<rect x="643" y="27" width="1" height="2"/>
<rect x="643" y="546" width="1" height="2"/>
<rect x="677" y="27" width="1" height="2"/>
<rect x="677" y="546" width="1" height="2"/>
<rect x="712" y="27" width="1" height="2"/>
<rect x="712" y="546" width="1" height="2"/>
<rect x="746" y="27" width="1" height="2"/>
<rect x="746" y="546" width="1" height="2"/>
<rect x="780" y="27" width="1" height="2"/>
<rect x="780" y="546" width="1" height="2"/>
<rect x="815" y="27" width="1" height="2"/>
<rect x="815" y="546" width="1" height="2"/>
<rect x="849" y="27" width="1" height="2"/>
<rect x="849" y="546" width="1" height="2"/>
<rect x="55" y="286" width="2" height="1"/>
<rect x="859" y="286" width="2" height="1"/>
<rect x="55" y="263" width="2" height="1"/>
<rect x="859" y="263" width="2" height="1"/>
<rect x="55" y="240" width="2" height="1"/>
<rect x="859" y="240" width="2" height="1"/>
<rect x="55" y="216" width="2" height="1"/>
<rect x="859" y="216" width="2" height="1"/>
<rect x="55" y="193" width="2" height="1"/>
<rect x="859" y="193" width="2" height="1"/>
<rect x="55" y="170" width="2" height="1"/>
<rect x="859" y="170" width="2" height="1"/>
<rect x="55" y="147" width="2" height="1"/>
<rect x="859" y="147" width="2" height="1"/>
<rect x="55" y="123" width="2" height="1"/>
<rect x="859" y="123" width="2" height="1"/>
<rect x="55" y="100" width="2" height="1"/>
<rect x="859" y="100" width="2" height="1"/>
<rect x="55" y="77" width="2" height="1"/>
<rect x="859" y="77" width="2" height="1"/>
<rect x="55" y="54" width="2" height="1"/>
<rect x="859" y="54" width="2" height="1"/>
<rect x="55" y="31" width="2" height="1"/>
<rect x="859" y="31" width="2" height="1"/>
<rect x="55" y="544" width="2" height="1"/>
<rect x="859" y="544" width="2" height="1"/>
<rect x="55" y="521" width="2" height="1"/>
<rect x="859" y="521" width="2" height="1"/>
<rect x="55" y="498" width="2" height="1"/>
<rect x="859" y="498" width="2" height="1"/>
<rect x="55" y="474" width="2" height="1"/>
<rect x="859" y="474" width="2" height="1"/>
<rect x="55" y="451" width="2" height="1"/>
<rect x="859" y="451" width="2" height="1"/>
<rect x="55" y="428" width="2" height="1"/>
<rect x="859" y="428" width="2" height="1"/>
<rect x="55" y="405" width="2" height="1"/>
<rect x="859" y="405" width="2" height="1"/>
<rect x="55" y="381" width="2" height="1"/>
<rect x="859" y="381" width="2" height="1"/>
<rect x="55" y="358" width="2" height="1"/>
<rect x="859" y="358" width="2" height="1"/>
<rect x="55" y="335" width="2" height="1"/>
<rect x="859" y="335" width="2" height="1"/>
<rect x="55" y="312" width="2" height="1"/>
<rect x="859" y="312" width="2" height="1"/>
<rect x="55" y="289" width="2" height="1"/>
<rect x="859" y="289" width="2" height="1"/>
</g>
<g opacity="0.999">
<text transform="scale(0.74,1)" x="77.70" y="25" class="l" text-anchor="middle">0</text>
<text transform="scale(0.74,1)" x="77.70" y="561" class="l" text-anchor="middle">0</text>
<text transform="scale(0.74,1)" x="119.59 127.70" y="25" class="l" text-anchor="middle">10</text>
<text transform="scale(0.74,1)" x="119.59 127.70" y="561" class="l" text-anchor="middle">10</text>
<text transform="scale(0.74,1)" x="166.89 175.00" y="25" class="l" text-anchor="middle">20</text>
<text transform="scale(0.74,1)" x="166.89 175.00" y="561" class="l" text-anchor="middle">20</text>
<text transform="scale(0.74,1)" x="212.84 220.95" y="25" class="l" text-anchor="middle">30</text>
<text transform="scale(0.74,1)" x="212.84 220.95" y="561" class="l" text-anchor="middle">30</text>
<text transform="scale(0.74,1)" x="260.14 268.24" y="25" class="l" text-anchor="middle">40</text>
<text transform="scale(0.74,1)" x="260.14 268.24" y="561" class="l" text-anchor="middle">40</text>
<text transform="scale(0.74,1)" x="306.08 314.19" y="25" class="l" text-anchor="middle">50</text>
<text transform="scale(0.74,1)" x="306.08 314.19" y="561" class="l" text-anchor="middle">50</text>
<text transform="scale(0.74,1)" x="353.38 361.49" y="25" class="l" text-anchor="middle">60</text>
<text transform="scale(0.74,1)" x="353.38 361.49" y="561" class="l" text-anchor="middle">60</text>
<text transform="scale(0.74,1)" x="399.32 407.43" y="25" class="l" text-anchor="middle">70</text>
<text transform="scale(0.74,1)" x="399.32 407.43" y="561" class="l" text-anchor="middle">70</text>
<text transform="scale(0.74,1)" x="446.62 454.73" y="25" class="l" text-anchor="middle">80</text>
<text transform="scale(0.74,1)" x="446.62 454.73" y="561" class="l" text-anchor="middle">80</text>
<text transform="scale(0.74,1)" x="492.57 500.68" y="25" class="l" text-anchor="middle">90</text>
<text transform="scale(0.74,1)" x="492.57 500.68" y="561" class="l" text-anchor="middle">90</text>
<text transform="scale(0.74,1)" x="534.46 542.57 550.68" y="25" class="l" text-anchor="middle">100</text>
<text transform="scale(0.74,1)" x="534.46 542.57 550.68" y="561" class="l" text-anchor="middle">100</text>
<text transform="scale(0.74,1)" x="581.76 589.86 597.97" y="25" class="l" text-anchor="middle">110</text>
<text transform="scale(0.74,1)" x="581.76 589.86 597.97" y="561" class="l" text-anchor="middle">110</text>
<text transform="scale(0.74,1)" x="627.70 635.81 643.92" y="25" class="l" text-anchor="middle">120</text>
<text transform="scale(0.74,1)" x="627.70 635.81 643.92" y="561" class="l" text-anchor="middle">120</text>
<text transform="scale(0.74,1)" x="675.00 683.11 691.22" y="25" class="l" text-anchor="middle">130</text>
<text transform="scale(0.74,1)" x="675.00 683.11 691.22" y="561" class="l" text-anchor="middle">130</text>
<text transform="scale(0.74,1)" x="720.95 729.05 737.16" y="25" class="l" text-anchor="middle">140</text>
<text transform="scale(0.74,1)" x="720.95 729.05 737.16" y="561" class="l" text-anchor="middle">140</text>
<text transform="scale(0.74,1)" x="768.24 776.35 784.46" y="25" class="l" text-anchor="middle">150</text>
<text transform="scale(0.74,1)" x="768.24 776.35 784.46" y="561" class="l" text-anchor="middle">150</text>
<text transform="scale(0.74,1)" x="814.19 822.30 830.41" y="25" class="l" text-anchor="middle">160</text>
<text transform="scale(0.74,1)" x="814.19 822.30 830.41" y="561" class="l" text-anchor="middle">160</text>
<text transform="scale(0.74,1)" x="861.49 869.59 877.70" y="25" class="l" text-anchor="middle">170</text>
<text transform="scale(0.74,1)" x="861.49 869.59 877.70" y="561" class="l" text-anchor="middle">170</text>
<text transform="scale(0.74,1)" x="907.43 915.54 923.65" y="25" class="l" text-anchor="middle">180</text>
<text transform="scale(0.74,1)" x="907.43 915.54 923.65" y="561" class="l" text-anchor="middle">180</text>
<text transform="scale(0.74,1)" x="954.73 962.84 970.95" y="25" class="l" text-anchor="middle">190</text>
<text transform="scale(0.74,1)" x="954.73 962.84 970.95" y="561" class="l" text-anchor="middle">190</text>
<text transform="scale(0.74,1)" x="1000.68 1008.78 1016.89" y="25" class="l" text-anchor="middle">200</text>
<text transform="scale(0.74,1)" x="1000.68 1008.78 1016.89" y="561" class="l" text-anchor="middle">200</text>
<text transform="scale(0.74,1)" x="1046.62 1054.73 1062.84" y="25" class="l" text-anchor="middle">210</text>
<text transform="scale(0.74,1)" x="1046.62 1054.73 1062.84" y="561" class="l" text-anchor="middle">210</text>
<text transform="scale(0.74,1)" x="1093.92 1102.03 1110.14" y="25" class="l" text-anchor="middle">220</text>
<text transform="scale(0.74,1)" x="1093.92 1102.03 1110.14" y="561" class="l" text-anchor="middle">220</text>
<text transform="scale(0.74,1)" x="1139.86 1147.97 1156.08" y="25" class="l" text-anchor="middle">230</text>
<text transform="scale(0.74,1)" x="1139.86 1147.97 1156.08" y="561" class="l" text-anchor="middle">230</text>
<text transform="scale(0.74,1)" x="68.24" y="268" class="l" text-anchor="middle">2</text>
<text transform="scale(0.74,1)" x="1170.95" y="268" class="l" text-anchor="middle">2</text>
<text transform="scale(0.74,1)" x="68.24" y="245" class="l" text-anchor="middle">4</text>
<text transform="scale(0.74,1)" x="1170.95" y="245" class="l" text-anchor="middle">4</text>
<text transform="scale(0.74,1)" x="68.24" y="221" class="l" text-anchor="middle">6</text>
<text transform="scale(0.74,1)" x="1170.95" y="221" class="l" text-anchor="middle">6</text>
<text transform="scale(0.74,1)" x="68.24" y="198" class="l" text-anchor="middle">8</text>
<text transform="scale(0.74,1)" x="1170.95" y="198" class="l" text-anchor="middle">8</text>
<text transform="scale(0.74,1)" x="60.14 68.24" y="175" class="l" text-anchor="middle">10</text>
<text transform="scale(0.74,1)" x="1170.95 1179.05" y="175" class="l" text-anchor="middle">10</text>
<text transform="scale(0.74,1)" x="60.14 68.24" y="152" class="l" text-anchor="middle">12</text>
<text transform="scale(0.74,1)" x="1170.95 1179.05" y="152" class="l" text-anchor="middle">12</text>
<text transform="scale(0.74,1)" x="60.14 68.24" y="128" class="l" text-anchor="middle">14</text>
<text transform="scale(0.74,1)" x="1170.95 1179.05" y="128" class="l" text-anchor="middle">14</text>
<text transform="scale(0.74,1)" x="60.14 68.24" y="105" class="l" text-anchor="middle">16</text>
<text transform="scale(0.74,1)" x="1170.95 1179.05" y="105" class="l" text-anchor="middle">16</text>
<text transform="scale(0.74,1)" x="60.14 68.24" y="82" class="l" text-anchor="middle">18</text>
<text transform="scale(0.74,1)" x="1170.95 1179.05" y="82" class="l" text-anchor="middle">18</text>
<text transform="scale(0.74,1)" x="60.14 68.24" y="59" class="l" text-anchor="middle">20</text>
<text transform="scale(0.74,1)" x="1170.95 1179.05" y="59" class="l" text-anchor="middle">20</text>
<text transform="scale(0.74,1)" x="60.14 68.24" y="36" class="l" text-anchor="middle">22</text>
<text transform="scale(0.74,1)" x="1170.95 1179.05" y="36" class="l" text-anchor="middle">22</text>
<text transform="scale(0.74,1)" x="60.14 68.24" y="549" class="l" text-anchor="middle">DC</text>
<text transform="scale(0.74,1)" x="1170.95 1179.05" y="549" class="l" text-anchor="middle">DC</text>
<text transform="scale(0.74,1)" x="68.24" y="526" class="l" text-anchor="middle">2</text>
<text transform="scale(0.74,1)" x="1170.95" y="526" class="l" text-anchor="middle">2</text>
<text transform="scale(0.74,1)" x="68.24" y="503" class="l" text-anchor="middle">4</text>
<text transform="scale(0.74,1)" x="1170.95" y="503" class="l" text-anchor="middle">4</text>
<text transform="scale(0.74,1)" x="68.24" y="479" class="l" text-anchor="middle">6</text>
<text transform="scale(0.74,1)" x="1170.95" y="479" class="l" text-anchor="middle">6</text>
<text transform="scale(0.74,1)" x="68.24" y="456" class="l" text-anchor="middle">8</text>
<text transform="scale(0.74,1)" x="1170.95" y="456" class="l" text-anchor="middle">8</text>
<text transform="scale(0.74,1)" x="60.14 68.24" y="433" class="l" text-anchor="middle">10</text>
<text transform="scale(0.74,1)" x="1170.95 1179.05" y="433" class="l" text-anchor="middle">10</text>
<text transform="scale(0.74,1)" x="60.14 68.24" y="410" class="l" text-anchor="middle">12</text>
<text transform="scale(0.74,1)" x="1170.95 1179.05" y="410" class="l" text-anchor="middle">12</text>
<text transform="scale(0.74,1)" x="60.14 68.24" y="386" class="l" text-anchor="middle">14</text>
<text transform="scale(0.74,1)" x="1170.95 1179.05" y="386" class="l" text-anchor="middle">14</text>
<text transform="scale(0.74,1)" x="60.14 68.24" y="363" class="l" text-anchor="middle">16</text>
<text transform="scale(0.74,1)" x="1170.95 1179.05" y="363" class="l" text-anchor="middle">16</text>
<text transform="scale(0.74,1)" x="60.14 68.24" y="340" class="l" text-anchor="middle">18</text>
<text transform="scale(0.74,1)" x="1170.95 1179.05" y="340" class="l" text-anchor="middle">18</text>
<text transform="scale(0.74,1)" x="60.14 68.24" y="317" class="l" text-anchor="middle">20</text>
<text transform="scale(0.74,1)" x="1170.95 1179.05" y="317" class="l" text-anchor="middle">20</text>
<text transform="scale(0.74,1)" x="60.14 68.24" y="294" class="l" text-anchor="middle">22</text>
<text transform="scale(0.74,1)" x="1170.95 1179.05" y="294" class="l" text-anchor="middle">22</text>
<text transform="scale(0.74,1)" x="589.86 597.97 606.08 614.19 622.30 630.41 638.51 646.62" y="578" class="w" text-anchor="middle">Time (s)</text>
<text transform="scale(0.74,1)" x="4.73 12.84 20.95 29.05 37.16 45.27 53.38 61.49 69.59 77.70 85.81 93.92 102.03 110.14" y="590" class="w" text-anchor="middle">Created by SoX</text>
<g transform="translate(18.5,288.5) rotate(-90)">
<text transform="scale(0.74,1)" x="-56.76 -48.65 -40.54 -32.43 -24.32 -16.22 -8.11 0.00 8.11 16.22 24.32 32.43 40.54 48.65 56.76" y="0" class="w" text-anchor="middle">Frequency (kHz)</text>
</g>
<rect x="895" y="88" width="14" height="400" fill="url(#cb)"/>
<text transform="scale(0.74,1)" x="1233.11 1241.22" y="93" class="l" text-anchor="middle">+0</text>
<text transform="scale(0.74,1)" x="1233.11 1241.22 1249.32" y="126" class="l" text-anchor="middle">-10</text>
<rect x="909" y="122" width="3" height="1" fill="#bfbfbf"/>
<text transform="scale(0.74,1)" x="1233.11 1241.22 1249.32" y="160" class="l" text-anchor="middle">-20</text>
<rect x="909" y="156" width="3" height="1" fill="#bfbfbf"/>
<text transform="scale(0.74,1)" x="1233.11 1241.22 1249.32" y="193" class="l" text-anchor="middle">-30</text>
<rect x="909" y="189" width="3" height="1" fill="#bfbfbf"/>
<text transform="scale(0.74,1)" x="1233.11 1241.22 1249.32" y="226" class="l" text-anchor="middle">-40</text>
<rect x="909" y="222" width="3" height="1" fill="#bfbfbf"/>
<text transform="scale(0.74,1)" x="1233.11 1241.22 1249.32" y="260" class="l" text-anchor="middle">-50</text>
<rect x="909" y="256" width="3" height="1" fill="#bfbfbf"/>
<text transform="scale(0.74,1)" x="1233.11 1241.22 1249.32" y="293" class="l" text-anchor="middle">-60</text>
<rect x="909" y="289" width="3" height="1" fill="#bfbfbf"/>
<text transform="scale(0.74,1)" x="1233.11 1241.22 1249.32" y="326" class="l" text-anchor="middle">-70</text>
<rect x="909" y="322" width="3" height="1" fill="#bfbfbf"/>
<text transform="scale(0.74,1)" x="1233.11 1241.22 1249.32" y="360" class="l" text-anchor="middle">-80</text>
<rect x="909" y="356" width="3" height="1" fill="#bfbfbf"/>
<text transform="scale(0.74,1)" x="1233.11 1241.22 1249.32" y="393" class="l" text-anchor="middle">-90</text>
<rect x="909" y="389" width="3" height="1" fill="#bfbfbf"/>
<text transform="scale(0.74,1)" x="1233.11 1241.22 1249.32 1257.43" y="426" class="l" text-anchor="middle">-100</text>
<rect x="909" y="422" width="3" height="1" fill="#bfbfbf"/>
<text transform="scale(0.74,1)" x="1233.11 1241.22 1249.32 1257.43" y="460" class="l" text-anchor="middle">-110</text>
<rect x="909" y="456" width="3" height="1" fill="#bfbfbf"/>
<text transform="scale(0.74,1)" x="1233.11 1241.22 1249.32 1257.43" y="493" class="l" text-anchor="middle">-120</text>
<rect x="909" y="489" width="3" height="1" fill="#bfbfbf"/>
<text transform="scale(0.74,1)" x="1221.62 1229.73 1237.84 1245.95" y="510" class="w" text-anchor="middle">dBFS</text>
</g>
</svg></body></html>
